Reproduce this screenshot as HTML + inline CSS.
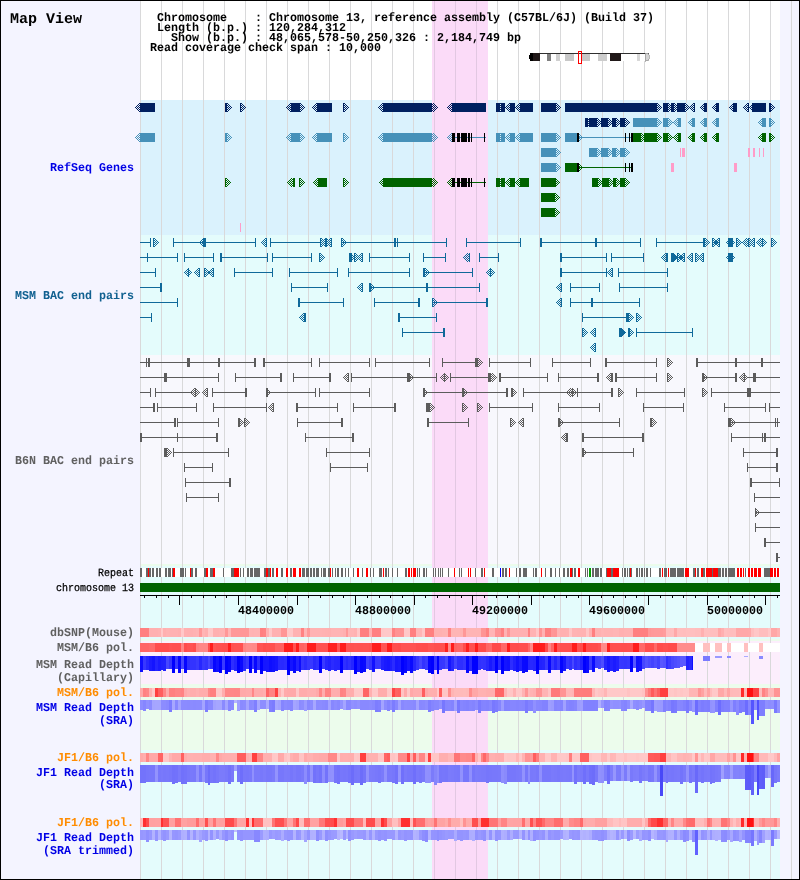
<!DOCTYPE html>
<html><head><meta charset="utf-8"><title>Map View</title>
<style>
html,body{margin:0;padding:0;background:#f4f4ff;}
body{width:800px;height:880px;overflow:hidden;font-family:"Liberation Mono",monospace;}
svg{display:block;position:absolute;left:0;top:0;}
#tx{will-change:transform;}
svg text{font-family:"Liberation Mono",monospace;}
</style></head><body>
<svg width="800" height="880" viewBox="0 0 800 880" shape-rendering="crispEdges">
<defs>
<pattern id="ckn" width="2" height="2" patternUnits="userSpaceOnUse"><rect x="0" y="0" width="1" height="1" fill="#002060"/><rect x="1" y="1" width="1" height="1" fill="#002060"/></pattern>
<pattern id="cks" width="2" height="2" patternUnits="userSpaceOnUse"><rect x="0" y="0" width="1" height="1" fill="#4691b9"/><rect x="1" y="1" width="1" height="1" fill="#4691b9"/></pattern>
<pattern id="ckg" width="2" height="2" patternUnits="userSpaceOnUse"><rect x="0" y="0" width="1" height="1" fill="#006400"/><rect x="1" y="1" width="1" height="1" fill="#006400"/></pattern>
<pattern id="ckt" width="2" height="2" patternUnits="userSpaceOnUse"><rect x="0" y="0" width="1" height="1" fill="#10699a"/><rect x="1" y="1" width="1" height="1" fill="#10699a"/></pattern>
<pattern id="cky" width="2" height="2" patternUnits="userSpaceOnUse"><rect x="0" y="0" width="1" height="1" fill="#5c5c5c"/><rect x="1" y="1" width="1" height="1" fill="#5c5c5c"/></pattern>
<pattern id="ckk" width="2" height="2" patternUnits="userSpaceOnUse"><rect x="0" y="0" width="1" height="1" fill="#000000"/><rect x="1" y="1" width="1" height="1" fill="#000000"/></pattern>
<pattern id="ckbg" width="2" height="2" patternUnits="userSpaceOnUse"><rect x="0" y="0" width="1" height="1" fill="#daf2fd"/><rect x="1" y="1" width="1" height="1" fill="#daf2fd"/></pattern>
<pattern id="dotbg" width="1" height="2" patternUnits="userSpaceOnUse"><rect x="0" y="0" width="1" height="1" fill="#daf2fd"/></pattern>
</defs>
<rect x="0" y="0" width="800" height="880" fill="#f4f4ff"/>
<rect x="140" y="0" width="640" height="100" fill="#ffffff"/>
<rect x="140" y="100" width="640" height="135" fill="#daf2fd"/>
<rect x="140" y="235" width="640" height="120" fill="#e4fcfc"/>
<rect x="140" y="355" width="640" height="209" fill="#f8f8fd"/>
<rect x="140" y="564" width="640" height="2" fill="#ecfcec"/>
<rect x="140" y="566" width="640" height="2" fill="#e4fcfc"/>
<rect x="140" y="568" width="640" height="9" fill="#ffffff"/>
<rect x="140" y="577" width="640" height="62" fill="#e4fcfc"/>
<rect x="140" y="639" width="640" height="2" fill="#ecfcec"/>
<rect x="140" y="641" width="640" height="43" fill="#fceefc"/>
<rect x="140" y="684" width="640" height="66" fill="#ecfcec"/>
<rect x="140" y="750" width="640" height="130" fill="#e4fcfc"/>
<rect x="432" y="0" width="56" height="568" fill="#fbdbf8"/>
<rect x="432" y="577" width="56" height="303" fill="#fbdbf8"/>
<rect x="140" y="0" width="1" height="880" fill="#d9d9da"/>
<rect x="161" y="0" width="1" height="880" fill="#d9d9da"/>
<rect x="182" y="0" width="1" height="880" fill="#d9d9da"/>
<rect x="203" y="0" width="1" height="880" fill="#d9d9da"/>
<rect x="224" y="0" width="1" height="880" fill="#d9d9da"/>
<rect x="245" y="0" width="1" height="880" fill="#d9d9da"/>
<rect x="266" y="0" width="1" height="880" fill="#d9d9da"/>
<rect x="287" y="0" width="1" height="880" fill="#d9d9da"/>
<rect x="308" y="0" width="1" height="880" fill="#d9d9da"/>
<rect x="329" y="0" width="1" height="880" fill="#d9d9da"/>
<rect x="350" y="0" width="1" height="880" fill="#d9d9da"/>
<rect x="371" y="0" width="1" height="880" fill="#d9d9da"/>
<rect x="392" y="0" width="1" height="880" fill="#d9d9da"/>
<rect x="413" y="0" width="1" height="880" fill="#d9d9da"/>
<rect x="434" y="0" width="1" height="880" fill="#e2c8e2"/>
<rect x="455" y="0" width="1" height="880" fill="#e2c8e2"/>
<rect x="476" y="0" width="1" height="880" fill="#e2c8e2"/>
<rect x="497" y="0" width="1" height="880" fill="#d9d9da"/>
<rect x="518" y="0" width="1" height="880" fill="#d9d9da"/>
<rect x="539" y="0" width="1" height="880" fill="#d9d9da"/>
<rect x="560" y="0" width="1" height="880" fill="#d9d9da"/>
<rect x="581" y="0" width="1" height="880" fill="#d9d9da"/>
<rect x="602" y="0" width="1" height="880" fill="#d9d9da"/>
<rect x="623" y="0" width="1" height="880" fill="#d9d9da"/>
<rect x="644" y="0" width="1" height="880" fill="#d9d9da"/>
<rect x="665" y="0" width="1" height="880" fill="#d9d9da"/>
<rect x="686" y="0" width="1" height="880" fill="#d9d9da"/>
<rect x="707" y="0" width="1" height="880" fill="#d9d9da"/>
<rect x="728" y="0" width="1" height="880" fill="#d9d9da"/>
<rect x="749" y="0" width="1" height="880" fill="#d9d9da"/>
<rect x="770" y="0" width="1" height="880" fill="#d9d9da"/>
<rect x="791" y="0" width="1" height="880" fill="#d9d9da"/>
<rect x="140" y="103" width="15" height="9" fill="#002060"/>
<rect x="225" y="103" width="2" height="9" fill="#002060"/>
<rect x="240" y="103" width="1" height="9" fill="#002060"/>
<rect x="291" y="103" width="9" height="9" fill="#002060"/>
<rect x="317" y="103" width="15" height="9" fill="#002060"/>
<rect x="343" y="103" width="1" height="9" fill="#002060"/>
<rect x="383" y="103" width="49" height="9" fill="#002060"/>
<rect x="452" y="103" width="34" height="9" fill="#002060"/>
<rect x="496" y="103" width="37" height="9" fill="#002060"/>
<rect x="500" y="103" width="1" height="9" fill="url(#dotbg)"/>
<rect x="505" y="103" width="5" height="9" fill="#daf2fd"/>
<rect x="515" y="103" width="5" height="9" fill="#daf2fd"/>
<rect x="541" y="103" width="15" height="9" fill="#002060"/>
<rect x="565" y="103" width="92" height="9" fill="#002060"/>
<rect x="663" y="103" width="32" height="9" fill="#002060"/>
<rect x="668" y="103" width="3" height="9" fill="#daf2fd"/>
<rect x="674" y="103" width="3" height="9" fill="#daf2fd"/>
<rect x="685" y="103" width="4" height="9" fill="#daf2fd"/>
<rect x="689" y="103" width="5" height="9" fill="#daf2fd"/>
<rect x="704" y="103" width="3" height="9" fill="#002060"/>
<rect x="716" y="103" width="3" height="9" fill="#002060"/>
<rect x="733" y="103" width="4" height="9" fill="#002060"/>
<rect x="748" y="103" width="18" height="9" fill="#002060"/>
<rect x="749" y="103" width="3" height="9" fill="#daf2fd"/>
<rect x="769" y="103" width="2" height="9" fill="#002060"/>
<rect x="585" y="118" width="40" height="9" fill="#002060"/>
<rect x="588" y="118" width="1" height="9" fill="url(#dotbg)"/>
<rect x="597" y="118" width="4" height="9" fill="#daf2fd"/>
<rect x="608" y="118" width="4" height="9" fill="#daf2fd"/>
<rect x="616" y="118" width="4" height="9" fill="#daf2fd"/>
<rect x="633" y="118" width="24" height="9" fill="#4691b9"/>
<rect x="663" y="118" width="18" height="9" fill="#4691b9"/>
<rect x="668" y="118" width="5" height="9" fill="#daf2fd"/>
<rect x="673" y="118" width="5" height="9" fill="#daf2fd"/>
<rect x="692" y="118" width="3" height="9" fill="#4691b9"/>
<rect x="704" y="118" width="3" height="9" fill="#4691b9"/>
<rect x="716" y="118" width="3" height="9" fill="#4691b9"/>
<rect x="762" y="118" width="4" height="9" fill="#4691b9"/>
<rect x="769" y="118" width="2" height="9" fill="#4691b9"/>
<rect x="140" y="133" width="15" height="9" fill="#4691b9"/>
<rect x="225" y="133" width="2" height="9" fill="#4691b9"/>
<rect x="291" y="133" width="9" height="9" fill="#4691b9"/>
<rect x="317" y="133" width="15" height="9" fill="#4691b9"/>
<rect x="343" y="133" width="1" height="9" fill="#4691b9"/>
<rect x="383" y="133" width="49" height="9" fill="#4691b9"/>
<rect x="452" y="137" width="34" height="1" fill="#4691b9"/>
<rect x="452" y="133" width="3" height="9" fill="#000"/>
<rect x="457" y="133" width="3" height="9" fill="#000"/>
<rect x="461" y="133" width="6" height="9" fill="#000"/>
<rect x="468" y="133" width="2" height="9" fill="#000"/>
<rect x="471" y="133" width="1" height="9" fill="#000"/>
<rect x="484" y="133" width="1" height="9" fill="#000"/>
<rect x="496" y="133" width="37" height="9" fill="#4691b9"/>
<rect x="500" y="133" width="1" height="9" fill="url(#dotbg)"/>
<rect x="505" y="133" width="5" height="9" fill="#daf2fd"/>
<rect x="515" y="133" width="5" height="9" fill="#daf2fd"/>
<rect x="541" y="133" width="15" height="9" fill="#4691b9"/>
<rect x="565" y="133" width="12" height="9" fill="#4691b9"/>
<rect x="577" y="133" width="2" height="9" fill="#000"/>
<rect x="579" y="137" width="52" height="1" fill="#4691b9"/>
<rect x="625" y="133" width="1" height="9" fill="#000"/>
<rect x="629" y="133" width="1" height="9" fill="#000"/>
<rect x="631" y="133" width="2" height="9" fill="#000"/>
<rect x="633" y="133" width="24" height="9" fill="#006400"/>
<rect x="641" y="133" width="3" height="9" fill="#daf2fd"/>
<rect x="663" y="133" width="18" height="9" fill="#006400"/>
<rect x="668" y="133" width="5" height="9" fill="#daf2fd"/>
<rect x="673" y="133" width="5" height="9" fill="#daf2fd"/>
<rect x="692" y="133" width="3" height="9" fill="#006400"/>
<rect x="704" y="133" width="3" height="9" fill="#006400"/>
<rect x="716" y="133" width="3" height="9" fill="#006400"/>
<rect x="762" y="133" width="4" height="9" fill="#006400"/>
<rect x="769" y="133" width="2" height="9" fill="#006400"/>
<rect x="541" y="148" width="15" height="9" fill="#4691b9"/>
<rect x="589" y="148" width="36" height="9" fill="#4691b9"/>
<rect x="597" y="148" width="4" height="9" fill="#daf2fd"/>
<rect x="608" y="148" width="4" height="9" fill="#daf2fd"/>
<rect x="616" y="148" width="4" height="9" fill="#daf2fd"/>
<rect x="680" y="148" width="1" height="9" fill="#ff9cc8"/>
<rect x="682" y="148" width="3" height="9" fill="#ff9cc8"/>
<rect x="748" y="148" width="2" height="9" fill="#ff9cc8"/>
<rect x="753" y="148" width="2" height="9" fill="#ff9cc8"/>
<rect x="759" y="148" width="1" height="9" fill="#ff9cc8"/>
<rect x="763" y="148" width="1" height="9" fill="#ff9cc8"/>
<rect x="541" y="163" width="15" height="9" fill="#4691b9"/>
<rect x="565" y="163" width="12" height="9" fill="#006400"/>
<rect x="577" y="163" width="2" height="9" fill="#000"/>
<rect x="579" y="167" width="52" height="1" fill="#006400"/>
<rect x="625" y="163" width="1" height="9" fill="#000"/>
<rect x="629" y="163" width="1" height="9" fill="#000"/>
<rect x="631" y="163" width="2" height="9" fill="#000"/>
<rect x="671" y="163" width="3" height="9" fill="#ff9cc8"/>
<rect x="734" y="163" width="3" height="9" fill="#ff9cc8"/>
<rect x="225" y="178" width="1" height="9" fill="#006400"/>
<rect x="293" y="178" width="2" height="9" fill="#006400"/>
<rect x="299" y="178" width="1" height="9" fill="#006400"/>
<rect x="318" y="178" width="9" height="9" fill="#006400"/>
<rect x="343" y="178" width="1" height="9" fill="#006400"/>
<rect x="383" y="178" width="49" height="9" fill="#006400"/>
<rect x="452" y="182" width="34" height="1" fill="#006400"/>
<rect x="452" y="178" width="3" height="9" fill="#000"/>
<rect x="457" y="178" width="3" height="9" fill="#000"/>
<rect x="461" y="178" width="6" height="9" fill="#000"/>
<rect x="468" y="178" width="2" height="9" fill="#000"/>
<rect x="471" y="178" width="1" height="9" fill="#000"/>
<rect x="484" y="178" width="1" height="9" fill="#000"/>
<rect x="496" y="178" width="33" height="9" fill="#006400"/>
<rect x="500" y="178" width="1" height="9" fill="url(#dotbg)"/>
<rect x="505" y="178" width="5" height="9" fill="#daf2fd"/>
<rect x="515" y="178" width="5" height="9" fill="#daf2fd"/>
<rect x="541" y="178" width="15" height="9" fill="#006400"/>
<rect x="592" y="178" width="33" height="9" fill="#006400"/>
<rect x="598" y="178" width="4" height="9" fill="#daf2fd"/>
<rect x="609" y="178" width="4" height="9" fill="#daf2fd"/>
<rect x="614" y="178" width="2" height="9" fill="#006400"/>
<rect x="616" y="178" width="4" height="9" fill="#daf2fd"/>
<rect x="541" y="193" width="14" height="9" fill="#006400"/>
<rect x="541" y="208" width="14" height="9" fill="#006400"/>
<rect x="240" y="223" width="1" height="9" fill="#ff9cc8"/>
<path d="M135 107h1v1h-1zM136 106h1v1h-1zM136 108h1v1h-1zM137 105h1v1h-1zM137 107h1v1h-1zM137 109h1v1h-1zM138 104h1v1h-1zM138 106h1v1h-1zM138 108h1v1h-1zM138 110h1v1h-1zM139 103h1v1h-1zM139 105h1v1h-1zM139 107h1v1h-1zM139 109h1v1h-1zM139 111h1v1h-1zM227 103h1v1h-1zM227 105h1v1h-1zM227 107h1v1h-1zM227 109h1v1h-1zM227 111h1v1h-1zM228 104h1v1h-1zM228 106h1v1h-1zM228 108h1v1h-1zM228 110h1v1h-1zM229 105h1v1h-1zM229 107h1v1h-1zM229 109h1v1h-1zM230 106h1v1h-1zM230 108h1v1h-1zM231 107h1v1h-1zM241 103h1v1h-1zM241 105h1v1h-1zM241 107h1v1h-1zM241 109h1v1h-1zM241 111h1v1h-1zM242 104h1v1h-1zM242 106h1v1h-1zM242 108h1v1h-1zM242 110h1v1h-1zM243 105h1v1h-1zM243 107h1v1h-1zM243 109h1v1h-1zM244 106h1v1h-1zM244 108h1v1h-1zM245 107h1v1h-1zM286 107h1v1h-1zM287 106h1v1h-1zM287 108h1v1h-1zM288 105h1v1h-1zM288 107h1v1h-1zM288 109h1v1h-1zM289 104h1v1h-1zM289 106h1v1h-1zM289 108h1v1h-1zM289 110h1v1h-1zM290 103h1v1h-1zM290 105h1v1h-1zM290 107h1v1h-1zM290 109h1v1h-1zM290 111h1v1h-1zM300 103h1v1h-1zM300 105h1v1h-1zM300 107h1v1h-1zM300 109h1v1h-1zM300 111h1v1h-1zM301 104h1v1h-1zM301 106h1v1h-1zM301 108h1v1h-1zM301 110h1v1h-1zM302 105h1v1h-1zM302 107h1v1h-1zM302 109h1v1h-1zM303 106h1v1h-1zM303 108h1v1h-1zM304 107h1v1h-1zM312 107h1v1h-1zM313 106h1v1h-1zM313 108h1v1h-1zM314 105h1v1h-1zM314 107h1v1h-1zM314 109h1v1h-1zM315 104h1v1h-1zM315 106h1v1h-1zM315 108h1v1h-1zM315 110h1v1h-1zM316 103h1v1h-1zM316 105h1v1h-1zM316 107h1v1h-1zM316 109h1v1h-1zM316 111h1v1h-1zM344 103h1v1h-1zM344 105h1v1h-1zM344 107h1v1h-1zM344 109h1v1h-1zM344 111h1v1h-1zM345 104h1v1h-1zM345 106h1v1h-1zM345 108h1v1h-1zM345 110h1v1h-1zM346 105h1v1h-1zM346 107h1v1h-1zM346 109h1v1h-1zM347 106h1v1h-1zM347 108h1v1h-1zM348 107h1v1h-1zM378 107h1v1h-1zM379 106h1v1h-1zM379 108h1v1h-1zM380 105h1v1h-1zM380 107h1v1h-1zM380 109h1v1h-1zM381 104h1v1h-1zM381 106h1v1h-1zM381 108h1v1h-1zM381 110h1v1h-1zM382 103h1v1h-1zM382 105h1v1h-1zM382 107h1v1h-1zM382 109h1v1h-1zM382 111h1v1h-1zM432 104h1v1h-1zM432 106h1v1h-1zM432 108h1v1h-1zM432 110h1v1h-1zM433 103h1v1h-1zM433 105h1v1h-1zM433 107h1v1h-1zM433 109h1v1h-1zM433 111h1v1h-1zM434 104h1v1h-1zM434 106h1v1h-1zM434 108h1v1h-1zM434 110h1v1h-1zM435 105h1v1h-1zM435 107h1v1h-1zM435 109h1v1h-1zM436 106h1v1h-1zM436 108h1v1h-1zM437 107h1v1h-1zM447 107h1v1h-1zM448 106h1v1h-1zM448 108h1v1h-1zM449 105h1v1h-1zM449 107h1v1h-1zM449 109h1v1h-1zM450 104h1v1h-1zM450 106h1v1h-1zM450 108h1v1h-1zM450 110h1v1h-1zM451 103h1v1h-1zM451 105h1v1h-1zM451 107h1v1h-1zM451 109h1v1h-1zM451 111h1v1h-1zM505 107h1v1h-1zM506 106h1v1h-1zM506 108h1v1h-1zM507 105h1v1h-1zM507 107h1v1h-1zM507 109h1v1h-1zM508 104h1v1h-1zM508 106h1v1h-1zM508 108h1v1h-1zM508 110h1v1h-1zM509 103h1v1h-1zM509 105h1v1h-1zM509 107h1v1h-1zM509 109h1v1h-1zM509 111h1v1h-1zM515 107h1v1h-1zM516 106h1v1h-1zM516 108h1v1h-1zM517 105h1v1h-1zM517 107h1v1h-1zM517 109h1v1h-1zM518 104h1v1h-1zM518 106h1v1h-1zM518 108h1v1h-1zM518 110h1v1h-1zM519 103h1v1h-1zM519 105h1v1h-1zM519 107h1v1h-1zM519 109h1v1h-1zM519 111h1v1h-1zM556 103h1v1h-1zM556 105h1v1h-1zM556 107h1v1h-1zM556 109h1v1h-1zM556 111h1v1h-1zM557 104h1v1h-1zM557 106h1v1h-1zM557 108h1v1h-1zM557 110h1v1h-1zM558 105h1v1h-1zM558 107h1v1h-1zM558 109h1v1h-1zM559 106h1v1h-1zM559 108h1v1h-1zM560 107h1v1h-1zM597 118h1v1h-1zM597 120h1v1h-1zM597 122h1v1h-1zM597 124h1v1h-1zM597 126h1v1h-1zM598 119h1v1h-1zM598 121h1v1h-1zM598 123h1v1h-1zM598 125h1v1h-1zM599 120h1v1h-1zM599 122h1v1h-1zM599 124h1v1h-1zM600 121h1v1h-1zM600 123h1v1h-1zM608 118h1v1h-1zM608 120h1v1h-1zM608 122h1v1h-1zM608 124h1v1h-1zM608 126h1v1h-1zM609 119h1v1h-1zM609 121h1v1h-1zM609 123h1v1h-1zM609 125h1v1h-1zM610 120h1v1h-1zM610 122h1v1h-1zM610 124h1v1h-1zM611 121h1v1h-1zM611 123h1v1h-1zM616 118h1v1h-1zM616 120h1v1h-1zM616 122h1v1h-1zM616 124h1v1h-1zM616 126h1v1h-1zM617 119h1v1h-1zM617 121h1v1h-1zM617 123h1v1h-1zM617 125h1v1h-1zM618 120h1v1h-1zM618 122h1v1h-1zM618 124h1v1h-1zM619 121h1v1h-1zM619 123h1v1h-1zM625 118h1v1h-1zM625 120h1v1h-1zM625 122h1v1h-1zM625 124h1v1h-1zM625 126h1v1h-1zM626 119h1v1h-1zM626 121h1v1h-1zM626 123h1v1h-1zM626 125h1v1h-1zM627 120h1v1h-1zM627 122h1v1h-1zM627 124h1v1h-1zM628 121h1v1h-1zM628 123h1v1h-1zM629 122h1v1h-1zM657 103h1v1h-1zM657 105h1v1h-1zM657 107h1v1h-1zM657 109h1v1h-1zM657 111h1v1h-1zM658 104h1v1h-1zM658 106h1v1h-1zM658 108h1v1h-1zM658 110h1v1h-1zM659 105h1v1h-1zM659 107h1v1h-1zM659 109h1v1h-1zM660 106h1v1h-1zM660 108h1v1h-1zM661 107h1v1h-1zM668 103h1v1h-1zM668 105h1v1h-1zM668 107h1v1h-1zM668 109h1v1h-1zM668 111h1v1h-1zM669 104h1v1h-1zM669 106h1v1h-1zM669 108h1v1h-1zM669 110h1v1h-1zM670 105h1v1h-1zM670 107h1v1h-1zM670 109h1v1h-1zM674 103h1v1h-1zM674 105h1v1h-1zM674 107h1v1h-1zM674 109h1v1h-1zM674 111h1v1h-1zM675 104h1v1h-1zM675 106h1v1h-1zM675 108h1v1h-1zM675 110h1v1h-1zM676 105h1v1h-1zM676 107h1v1h-1zM676 109h1v1h-1zM685 103h1v1h-1zM685 105h1v1h-1zM685 107h1v1h-1zM685 109h1v1h-1zM685 111h1v1h-1zM686 104h1v1h-1zM686 106h1v1h-1zM686 108h1v1h-1zM686 110h1v1h-1zM687 105h1v1h-1zM687 107h1v1h-1zM687 109h1v1h-1zM688 106h1v1h-1zM688 108h1v1h-1zM689 107h1v1h-1zM690 106h1v1h-1zM690 108h1v1h-1zM691 105h1v1h-1zM691 107h1v1h-1zM691 109h1v1h-1zM692 104h1v1h-1zM692 106h1v1h-1zM692 108h1v1h-1zM692 110h1v1h-1zM693 103h1v1h-1zM693 105h1v1h-1zM693 107h1v1h-1zM693 109h1v1h-1zM693 111h1v1h-1zM700 107h1v1h-1zM701 106h1v1h-1zM701 108h1v1h-1zM702 105h1v1h-1zM702 107h1v1h-1zM702 109h1v1h-1zM703 104h1v1h-1zM703 106h1v1h-1zM703 108h1v1h-1zM703 110h1v1h-1zM712 107h1v1h-1zM713 106h1v1h-1zM713 108h1v1h-1zM714 105h1v1h-1zM714 107h1v1h-1zM714 109h1v1h-1zM715 104h1v1h-1zM715 106h1v1h-1zM715 108h1v1h-1zM715 110h1v1h-1zM729 107h1v1h-1zM730 106h1v1h-1zM730 108h1v1h-1zM731 105h1v1h-1zM731 107h1v1h-1zM731 109h1v1h-1zM732 104h1v1h-1zM732 106h1v1h-1zM732 108h1v1h-1zM732 110h1v1h-1zM743 107h1v1h-1zM744 106h1v1h-1zM744 108h1v1h-1zM745 105h1v1h-1zM745 107h1v1h-1zM745 109h1v1h-1zM746 104h1v1h-1zM746 106h1v1h-1zM746 108h1v1h-1zM746 110h1v1h-1zM747 103h1v1h-1zM747 105h1v1h-1zM747 107h1v1h-1zM747 109h1v1h-1zM747 111h1v1h-1zM749 107h1v1h-1zM750 106h1v1h-1zM750 108h1v1h-1zM751 105h1v1h-1zM751 107h1v1h-1zM751 109h1v1h-1zM771 104h1v1h-1zM771 106h1v1h-1zM771 108h1v1h-1zM771 110h1v1h-1zM772 105h1v1h-1zM772 107h1v1h-1zM772 109h1v1h-1zM773 106h1v1h-1zM773 108h1v1h-1zM774 107h1v1h-1z" fill="#002060"/>
<path d="M135 137h1v1h-1zM136 136h1v1h-1zM136 138h1v1h-1zM137 135h1v1h-1zM137 137h1v1h-1zM137 139h1v1h-1zM138 134h1v1h-1zM138 136h1v1h-1zM138 138h1v1h-1zM138 140h1v1h-1zM139 133h1v1h-1zM139 135h1v1h-1zM139 137h1v1h-1zM139 139h1v1h-1zM139 141h1v1h-1zM227 133h1v1h-1zM227 135h1v1h-1zM227 137h1v1h-1zM227 139h1v1h-1zM227 141h1v1h-1zM228 134h1v1h-1zM228 136h1v1h-1zM228 138h1v1h-1zM228 140h1v1h-1zM229 135h1v1h-1zM229 137h1v1h-1zM229 139h1v1h-1zM230 136h1v1h-1zM230 138h1v1h-1zM231 137h1v1h-1zM286 137h1v1h-1zM287 136h1v1h-1zM287 138h1v1h-1zM288 135h1v1h-1zM288 137h1v1h-1zM288 139h1v1h-1zM289 134h1v1h-1zM289 136h1v1h-1zM289 138h1v1h-1zM289 140h1v1h-1zM290 133h1v1h-1zM290 135h1v1h-1zM290 137h1v1h-1zM290 139h1v1h-1zM290 141h1v1h-1zM300 133h1v1h-1zM300 135h1v1h-1zM300 137h1v1h-1zM300 139h1v1h-1zM300 141h1v1h-1zM301 134h1v1h-1zM301 136h1v1h-1zM301 138h1v1h-1zM301 140h1v1h-1zM302 135h1v1h-1zM302 137h1v1h-1zM302 139h1v1h-1zM303 136h1v1h-1zM303 138h1v1h-1zM304 137h1v1h-1zM312 137h1v1h-1zM313 136h1v1h-1zM313 138h1v1h-1zM314 135h1v1h-1zM314 137h1v1h-1zM314 139h1v1h-1zM315 134h1v1h-1zM315 136h1v1h-1zM315 138h1v1h-1zM315 140h1v1h-1zM316 133h1v1h-1zM316 135h1v1h-1zM316 137h1v1h-1zM316 139h1v1h-1zM316 141h1v1h-1zM344 133h1v1h-1zM344 135h1v1h-1zM344 137h1v1h-1zM344 139h1v1h-1zM344 141h1v1h-1zM345 134h1v1h-1zM345 136h1v1h-1zM345 138h1v1h-1zM345 140h1v1h-1zM346 135h1v1h-1zM346 137h1v1h-1zM346 139h1v1h-1zM347 136h1v1h-1zM347 138h1v1h-1zM348 137h1v1h-1zM378 137h1v1h-1zM379 136h1v1h-1zM379 138h1v1h-1zM380 135h1v1h-1zM380 137h1v1h-1zM380 139h1v1h-1zM381 134h1v1h-1zM381 136h1v1h-1zM381 138h1v1h-1zM381 140h1v1h-1zM382 133h1v1h-1zM382 135h1v1h-1zM382 137h1v1h-1zM382 139h1v1h-1zM382 141h1v1h-1zM432 134h1v1h-1zM432 136h1v1h-1zM432 138h1v1h-1zM432 140h1v1h-1zM433 133h1v1h-1zM433 135h1v1h-1zM433 137h1v1h-1zM433 139h1v1h-1zM433 141h1v1h-1zM434 134h1v1h-1zM434 136h1v1h-1zM434 138h1v1h-1zM434 140h1v1h-1zM435 135h1v1h-1zM435 137h1v1h-1zM435 139h1v1h-1zM436 136h1v1h-1zM436 138h1v1h-1zM437 137h1v1h-1zM447 137h1v1h-1zM448 136h1v1h-1zM448 138h1v1h-1zM449 135h1v1h-1zM449 137h1v1h-1zM449 139h1v1h-1zM450 134h1v1h-1zM450 136h1v1h-1zM450 138h1v1h-1zM450 140h1v1h-1zM451 133h1v1h-1zM451 135h1v1h-1zM451 137h1v1h-1zM451 139h1v1h-1zM451 141h1v1h-1zM505 137h1v1h-1zM506 136h1v1h-1zM506 138h1v1h-1zM507 135h1v1h-1zM507 137h1v1h-1zM507 139h1v1h-1zM508 134h1v1h-1zM508 136h1v1h-1zM508 138h1v1h-1zM508 140h1v1h-1zM509 133h1v1h-1zM509 135h1v1h-1zM509 137h1v1h-1zM509 139h1v1h-1zM509 141h1v1h-1zM515 137h1v1h-1zM516 136h1v1h-1zM516 138h1v1h-1zM517 135h1v1h-1zM517 137h1v1h-1zM517 139h1v1h-1zM518 134h1v1h-1zM518 136h1v1h-1zM518 138h1v1h-1zM518 140h1v1h-1zM519 133h1v1h-1zM519 135h1v1h-1zM519 137h1v1h-1zM519 139h1v1h-1zM519 141h1v1h-1zM556 133h1v1h-1zM556 135h1v1h-1zM556 137h1v1h-1zM556 139h1v1h-1zM556 141h1v1h-1zM556 148h1v1h-1zM556 150h1v1h-1zM556 152h1v1h-1zM556 154h1v1h-1zM556 156h1v1h-1zM556 163h1v1h-1zM556 165h1v1h-1zM556 167h1v1h-1zM556 169h1v1h-1zM556 171h1v1h-1zM557 134h1v1h-1zM557 136h1v1h-1zM557 138h1v1h-1zM557 140h1v1h-1zM557 149h1v1h-1zM557 151h1v1h-1zM557 153h1v1h-1zM557 155h1v1h-1zM557 164h1v1h-1zM557 166h1v1h-1zM557 168h1v1h-1zM557 170h1v1h-1zM558 135h1v1h-1zM558 137h1v1h-1zM558 139h1v1h-1zM558 150h1v1h-1zM558 152h1v1h-1zM558 154h1v1h-1zM558 165h1v1h-1zM558 167h1v1h-1zM558 169h1v1h-1zM559 136h1v1h-1zM559 138h1v1h-1zM559 151h1v1h-1zM559 153h1v1h-1zM559 166h1v1h-1zM559 168h1v1h-1zM560 137h1v1h-1zM560 152h1v1h-1zM560 167h1v1h-1zM579 134h1v1h-1zM579 136h1v1h-1zM579 138h1v1h-1zM579 140h1v1h-1zM580 135h1v1h-1zM580 137h1v1h-1zM580 139h1v1h-1zM581 136h1v1h-1zM581 138h1v1h-1zM582 137h1v1h-1zM597 148h1v1h-1zM597 150h1v1h-1zM597 152h1v1h-1zM597 154h1v1h-1zM597 156h1v1h-1zM598 149h1v1h-1zM598 151h1v1h-1zM598 153h1v1h-1zM598 155h1v1h-1zM599 150h1v1h-1zM599 152h1v1h-1zM599 154h1v1h-1zM600 151h1v1h-1zM600 153h1v1h-1zM608 148h1v1h-1zM608 150h1v1h-1zM608 152h1v1h-1zM608 154h1v1h-1zM608 156h1v1h-1zM609 149h1v1h-1zM609 151h1v1h-1zM609 153h1v1h-1zM609 155h1v1h-1zM610 150h1v1h-1zM610 152h1v1h-1zM610 154h1v1h-1zM611 151h1v1h-1zM611 153h1v1h-1zM616 148h1v1h-1zM616 150h1v1h-1zM616 152h1v1h-1zM616 154h1v1h-1zM616 156h1v1h-1zM617 149h1v1h-1zM617 151h1v1h-1zM617 153h1v1h-1zM617 155h1v1h-1zM618 150h1v1h-1zM618 152h1v1h-1zM618 154h1v1h-1zM619 151h1v1h-1zM619 153h1v1h-1zM625 148h1v1h-1zM625 150h1v1h-1zM625 152h1v1h-1zM625 154h1v1h-1zM625 156h1v1h-1zM626 149h1v1h-1zM626 151h1v1h-1zM626 153h1v1h-1zM626 155h1v1h-1zM627 150h1v1h-1zM627 152h1v1h-1zM627 154h1v1h-1zM628 151h1v1h-1zM628 153h1v1h-1zM629 152h1v1h-1zM657 118h1v1h-1zM657 120h1v1h-1zM657 122h1v1h-1zM657 124h1v1h-1zM657 126h1v1h-1zM658 119h1v1h-1zM658 121h1v1h-1zM658 123h1v1h-1zM658 125h1v1h-1zM659 120h1v1h-1zM659 122h1v1h-1zM659 124h1v1h-1zM660 121h1v1h-1zM660 123h1v1h-1zM661 122h1v1h-1zM668 118h1v1h-1zM668 120h1v1h-1zM668 122h1v1h-1zM668 124h1v1h-1zM668 126h1v1h-1zM669 119h1v1h-1zM669 121h1v1h-1zM669 123h1v1h-1zM669 125h1v1h-1zM670 120h1v1h-1zM670 122h1v1h-1zM670 124h1v1h-1zM671 121h1v1h-1zM671 123h1v1h-1zM672 122h1v1h-1zM673 122h1v1h-1zM674 121h1v1h-1zM674 123h1v1h-1zM675 120h1v1h-1zM675 122h1v1h-1zM675 124h1v1h-1zM676 119h1v1h-1zM676 121h1v1h-1zM676 123h1v1h-1zM676 125h1v1h-1zM677 118h1v1h-1zM677 120h1v1h-1zM677 122h1v1h-1zM677 124h1v1h-1zM677 126h1v1h-1zM688 122h1v1h-1zM689 121h1v1h-1zM689 123h1v1h-1zM690 120h1v1h-1zM690 122h1v1h-1zM690 124h1v1h-1zM691 119h1v1h-1zM691 121h1v1h-1zM691 123h1v1h-1zM691 125h1v1h-1zM700 122h1v1h-1zM701 121h1v1h-1zM701 123h1v1h-1zM702 120h1v1h-1zM702 122h1v1h-1zM702 124h1v1h-1zM703 119h1v1h-1zM703 121h1v1h-1zM703 123h1v1h-1zM703 125h1v1h-1zM712 122h1v1h-1zM713 121h1v1h-1zM713 123h1v1h-1zM714 120h1v1h-1zM714 122h1v1h-1zM714 124h1v1h-1zM715 119h1v1h-1zM715 121h1v1h-1zM715 123h1v1h-1zM715 125h1v1h-1zM758 122h1v1h-1zM759 121h1v1h-1zM759 123h1v1h-1zM760 120h1v1h-1zM760 122h1v1h-1zM760 124h1v1h-1zM761 119h1v1h-1zM761 121h1v1h-1zM761 123h1v1h-1zM761 125h1v1h-1zM771 119h1v1h-1zM771 121h1v1h-1zM771 123h1v1h-1zM771 125h1v1h-1zM772 120h1v1h-1zM772 122h1v1h-1zM772 124h1v1h-1zM773 121h1v1h-1zM773 123h1v1h-1zM774 122h1v1h-1z" fill="#4691b9"/>
<path d="M226 178h1v1h-1zM226 180h1v1h-1zM226 182h1v1h-1zM226 184h1v1h-1zM226 186h1v1h-1zM227 179h1v1h-1zM227 181h1v1h-1zM227 183h1v1h-1zM227 185h1v1h-1zM228 180h1v1h-1zM228 182h1v1h-1zM228 184h1v1h-1zM229 181h1v1h-1zM229 183h1v1h-1zM230 182h1v1h-1zM287 182h1v1h-1zM288 181h1v1h-1zM288 183h1v1h-1zM289 180h1v1h-1zM289 182h1v1h-1zM289 184h1v1h-1zM290 179h1v1h-1zM290 181h1v1h-1zM290 183h1v1h-1zM290 185h1v1h-1zM291 178h1v1h-1zM291 180h1v1h-1zM291 182h1v1h-1zM291 184h1v1h-1zM291 186h1v1h-1zM292 179h1v1h-1zM292 181h1v1h-1zM292 183h1v1h-1zM292 185h1v1h-1zM300 178h1v1h-1zM300 180h1v1h-1zM300 182h1v1h-1zM300 184h1v1h-1zM300 186h1v1h-1zM301 179h1v1h-1zM301 181h1v1h-1zM301 183h1v1h-1zM301 185h1v1h-1zM302 180h1v1h-1zM302 182h1v1h-1zM302 184h1v1h-1zM303 181h1v1h-1zM303 183h1v1h-1zM304 182h1v1h-1zM313 182h1v1h-1zM314 181h1v1h-1zM314 183h1v1h-1zM315 180h1v1h-1zM315 182h1v1h-1zM315 184h1v1h-1zM316 179h1v1h-1zM316 181h1v1h-1zM316 183h1v1h-1zM316 185h1v1h-1zM317 178h1v1h-1zM317 180h1v1h-1zM317 182h1v1h-1zM317 184h1v1h-1zM317 186h1v1h-1zM344 178h1v1h-1zM344 180h1v1h-1zM344 182h1v1h-1zM344 184h1v1h-1zM344 186h1v1h-1zM345 179h1v1h-1zM345 181h1v1h-1zM345 183h1v1h-1zM345 185h1v1h-1zM346 180h1v1h-1zM346 182h1v1h-1zM346 184h1v1h-1zM347 181h1v1h-1zM347 183h1v1h-1zM348 182h1v1h-1zM379 182h1v1h-1zM380 181h1v1h-1zM380 183h1v1h-1zM381 180h1v1h-1zM381 182h1v1h-1zM381 184h1v1h-1zM382 179h1v1h-1zM382 181h1v1h-1zM382 183h1v1h-1zM382 185h1v1h-1zM432 179h1v1h-1zM432 181h1v1h-1zM432 183h1v1h-1zM432 185h1v1h-1zM433 178h1v1h-1zM433 180h1v1h-1zM433 182h1v1h-1zM433 184h1v1h-1zM433 186h1v1h-1zM434 179h1v1h-1zM434 181h1v1h-1zM434 183h1v1h-1zM434 185h1v1h-1zM435 180h1v1h-1zM435 182h1v1h-1zM435 184h1v1h-1zM436 181h1v1h-1zM436 183h1v1h-1zM437 182h1v1h-1zM447 182h1v1h-1zM448 181h1v1h-1zM448 183h1v1h-1zM449 180h1v1h-1zM449 182h1v1h-1zM449 184h1v1h-1zM450 179h1v1h-1zM450 181h1v1h-1zM450 183h1v1h-1zM450 185h1v1h-1zM451 178h1v1h-1zM451 180h1v1h-1zM451 182h1v1h-1zM451 184h1v1h-1zM451 186h1v1h-1zM505 182h1v1h-1zM506 181h1v1h-1zM506 183h1v1h-1zM507 180h1v1h-1zM507 182h1v1h-1zM507 184h1v1h-1zM508 179h1v1h-1zM508 181h1v1h-1zM508 183h1v1h-1zM508 185h1v1h-1zM509 178h1v1h-1zM509 180h1v1h-1zM509 182h1v1h-1zM509 184h1v1h-1zM509 186h1v1h-1zM515 182h1v1h-1zM516 181h1v1h-1zM516 183h1v1h-1zM517 180h1v1h-1zM517 182h1v1h-1zM517 184h1v1h-1zM518 179h1v1h-1zM518 181h1v1h-1zM518 183h1v1h-1zM518 185h1v1h-1zM519 178h1v1h-1zM519 180h1v1h-1zM519 182h1v1h-1zM519 184h1v1h-1zM519 186h1v1h-1zM555 193h1v1h-1zM555 195h1v1h-1zM555 197h1v1h-1zM555 199h1v1h-1zM555 201h1v1h-1zM555 208h1v1h-1zM555 210h1v1h-1zM555 212h1v1h-1zM555 214h1v1h-1zM555 216h1v1h-1zM556 179h1v1h-1zM556 181h1v1h-1zM556 183h1v1h-1zM556 185h1v1h-1zM556 194h1v1h-1zM556 196h1v1h-1zM556 198h1v1h-1zM556 200h1v1h-1zM556 209h1v1h-1zM556 211h1v1h-1zM556 213h1v1h-1zM556 215h1v1h-1zM557 180h1v1h-1zM557 182h1v1h-1zM557 184h1v1h-1zM557 195h1v1h-1zM557 197h1v1h-1zM557 199h1v1h-1zM557 210h1v1h-1zM557 212h1v1h-1zM557 214h1v1h-1zM558 181h1v1h-1zM558 183h1v1h-1zM558 196h1v1h-1zM558 198h1v1h-1zM558 211h1v1h-1zM558 213h1v1h-1zM559 182h1v1h-1zM559 197h1v1h-1zM559 212h1v1h-1zM579 164h1v1h-1zM579 166h1v1h-1zM579 168h1v1h-1zM579 170h1v1h-1zM580 165h1v1h-1zM580 167h1v1h-1zM580 169h1v1h-1zM581 166h1v1h-1zM581 168h1v1h-1zM582 167h1v1h-1zM598 178h1v1h-1zM598 180h1v1h-1zM598 182h1v1h-1zM598 184h1v1h-1zM598 186h1v1h-1zM599 179h1v1h-1zM599 181h1v1h-1zM599 183h1v1h-1zM599 185h1v1h-1zM600 180h1v1h-1zM600 182h1v1h-1zM600 184h1v1h-1zM601 181h1v1h-1zM601 183h1v1h-1zM609 178h1v1h-1zM609 180h1v1h-1zM609 182h1v1h-1zM609 184h1v1h-1zM609 186h1v1h-1zM610 179h1v1h-1zM610 181h1v1h-1zM610 183h1v1h-1zM610 185h1v1h-1zM611 180h1v1h-1zM611 182h1v1h-1zM611 184h1v1h-1zM612 181h1v1h-1zM612 183h1v1h-1zM616 178h1v1h-1zM616 180h1v1h-1zM616 182h1v1h-1zM616 184h1v1h-1zM616 186h1v1h-1zM617 179h1v1h-1zM617 181h1v1h-1zM617 183h1v1h-1zM617 185h1v1h-1zM618 180h1v1h-1zM618 182h1v1h-1zM618 184h1v1h-1zM619 181h1v1h-1zM619 183h1v1h-1zM625 178h1v1h-1zM625 180h1v1h-1zM625 182h1v1h-1zM625 184h1v1h-1zM625 186h1v1h-1zM626 179h1v1h-1zM626 181h1v1h-1zM626 183h1v1h-1zM626 185h1v1h-1zM627 180h1v1h-1zM627 182h1v1h-1zM627 184h1v1h-1zM628 181h1v1h-1zM628 183h1v1h-1zM629 182h1v1h-1zM641 133h1v1h-1zM641 135h1v1h-1zM641 137h1v1h-1zM641 139h1v1h-1zM641 141h1v1h-1zM642 134h1v1h-1zM642 136h1v1h-1zM642 138h1v1h-1zM642 140h1v1h-1zM643 135h1v1h-1zM643 137h1v1h-1zM643 139h1v1h-1zM657 133h1v1h-1zM657 135h1v1h-1zM657 137h1v1h-1zM657 139h1v1h-1zM657 141h1v1h-1zM658 134h1v1h-1zM658 136h1v1h-1zM658 138h1v1h-1zM658 140h1v1h-1zM659 135h1v1h-1zM659 137h1v1h-1zM659 139h1v1h-1zM660 136h1v1h-1zM660 138h1v1h-1zM661 137h1v1h-1zM668 133h1v1h-1zM668 135h1v1h-1zM668 137h1v1h-1zM668 139h1v1h-1zM668 141h1v1h-1zM669 134h1v1h-1zM669 136h1v1h-1zM669 138h1v1h-1zM669 140h1v1h-1zM670 135h1v1h-1zM670 137h1v1h-1zM670 139h1v1h-1zM671 136h1v1h-1zM671 138h1v1h-1zM672 137h1v1h-1zM673 137h1v1h-1zM674 136h1v1h-1zM674 138h1v1h-1zM675 135h1v1h-1zM675 137h1v1h-1zM675 139h1v1h-1zM676 134h1v1h-1zM676 136h1v1h-1zM676 138h1v1h-1zM676 140h1v1h-1zM677 133h1v1h-1zM677 135h1v1h-1zM677 137h1v1h-1zM677 139h1v1h-1zM677 141h1v1h-1zM688 137h1v1h-1zM689 136h1v1h-1zM689 138h1v1h-1zM690 135h1v1h-1zM690 137h1v1h-1zM690 139h1v1h-1zM691 134h1v1h-1zM691 136h1v1h-1zM691 138h1v1h-1zM691 140h1v1h-1zM700 137h1v1h-1zM701 136h1v1h-1zM701 138h1v1h-1zM702 135h1v1h-1zM702 137h1v1h-1zM702 139h1v1h-1zM703 134h1v1h-1zM703 136h1v1h-1zM703 138h1v1h-1zM703 140h1v1h-1zM712 137h1v1h-1zM713 136h1v1h-1zM713 138h1v1h-1zM714 135h1v1h-1zM714 137h1v1h-1zM714 139h1v1h-1zM715 134h1v1h-1zM715 136h1v1h-1zM715 138h1v1h-1zM715 140h1v1h-1zM758 137h1v1h-1zM759 136h1v1h-1zM759 138h1v1h-1zM760 135h1v1h-1zM760 137h1v1h-1zM760 139h1v1h-1zM761 134h1v1h-1zM761 136h1v1h-1zM761 138h1v1h-1zM761 140h1v1h-1zM771 134h1v1h-1zM771 136h1v1h-1zM771 138h1v1h-1zM771 140h1v1h-1zM772 135h1v1h-1zM772 137h1v1h-1zM772 139h1v1h-1zM773 136h1v1h-1zM773 138h1v1h-1zM774 137h1v1h-1z" fill="#006400"/>
<rect x="140" y="242" width="11" height="1" fill="#10699a"/>
<rect x="150" y="238" width="1" height="9" fill="#10699a"/>
<rect x="153" y="238" width="1" height="9" fill="#10699a"/>
<rect x="173" y="242" width="83" height="1" fill="#10699a"/>
<rect x="173" y="238" width="1" height="9" fill="#10699a"/>
<rect x="255" y="238" width="1" height="9" fill="#10699a"/>
<rect x="203" y="238" width="3" height="9" fill="#10699a"/>
<rect x="266" y="238" width="1" height="9" fill="#10699a"/>
<rect x="270" y="242" width="51" height="1" fill="#10699a"/>
<rect x="270" y="238" width="1" height="9" fill="#10699a"/>
<rect x="320" y="238" width="1" height="9" fill="#10699a"/>
<rect x="326" y="238" width="1" height="9" fill="#10699a"/>
<rect x="325" y="238" width="1" height="9" fill="#10699a"/>
<rect x="331" y="238" width="1" height="9" fill="#10699a"/>
<rect x="341" y="242" width="106" height="1" fill="#10699a"/>
<rect x="341" y="238" width="1" height="9" fill="#10699a"/>
<rect x="446" y="238" width="1" height="9" fill="#10699a"/>
<rect x="394" y="238" width="2" height="9" fill="#10699a"/>
<rect x="397" y="238" width="1" height="9" fill="#10699a"/>
<rect x="341" y="238" width="1" height="9" fill="#10699a"/>
<rect x="466" y="242" width="55" height="1" fill="#10699a"/>
<rect x="466" y="238" width="1" height="9" fill="#10699a"/>
<rect x="520" y="238" width="1" height="9" fill="#10699a"/>
<rect x="540" y="242" width="101" height="1" fill="#10699a"/>
<rect x="540" y="238" width="2" height="9" fill="#10699a"/>
<rect x="640" y="238" width="1" height="9" fill="#10699a"/>
<rect x="595" y="238" width="2" height="9" fill="#10699a"/>
<rect x="656" y="242" width="48" height="1" fill="#10699a"/>
<rect x="656" y="238" width="1" height="9" fill="#10699a"/>
<rect x="703" y="238" width="2" height="9" fill="#10699a"/>
<rect x="712" y="238" width="1" height="9" fill="#10699a"/>
<rect x="719" y="238" width="1" height="9" fill="#10699a"/>
<rect x="731" y="238" width="2" height="9" fill="#10699a"/>
<rect x="728" y="238" width="2" height="9" fill="#10699a"/>
<rect x="728" y="238" width="5" height="9" fill="#10699a"/>
<rect x="736" y="238" width="1" height="9" fill="#10699a"/>
<rect x="748" y="238" width="1" height="9" fill="#10699a"/>
<rect x="748" y="238" width="1" height="9" fill="#10699a"/>
<rect x="754" y="238" width="1" height="9" fill="#10699a"/>
<rect x="762" y="238" width="1" height="9" fill="#10699a"/>
<rect x="771" y="238" width="1" height="9" fill="#10699a"/>
<rect x="140" y="257" width="38" height="1" fill="#10699a"/>
<rect x="177" y="253" width="1" height="9" fill="#10699a"/>
<rect x="147" y="253" width="1" height="9" fill="#10699a"/>
<rect x="184" y="257" width="30" height="1" fill="#10699a"/>
<rect x="184" y="253" width="1" height="9" fill="#10699a"/>
<rect x="213" y="253" width="1" height="9" fill="#10699a"/>
<rect x="220" y="257" width="48" height="1" fill="#10699a"/>
<rect x="220" y="253" width="2" height="9" fill="#10699a"/>
<rect x="267" y="253" width="1" height="9" fill="#10699a"/>
<rect x="272" y="257" width="40" height="1" fill="#10699a"/>
<rect x="272" y="253" width="1" height="9" fill="#10699a"/>
<rect x="311" y="253" width="1" height="9" fill="#10699a"/>
<rect x="319" y="253" width="1" height="9" fill="#10699a"/>
<rect x="349" y="253" width="3" height="9" fill="#10699a"/>
<rect x="354" y="253" width="1" height="9" fill="#10699a"/>
<rect x="362" y="253" width="1" height="9" fill="#10699a"/>
<rect x="369" y="257" width="41" height="1" fill="#10699a"/>
<rect x="369" y="253" width="1" height="9" fill="#10699a"/>
<rect x="409" y="253" width="1" height="9" fill="#10699a"/>
<rect x="423" y="257" width="23" height="1" fill="#10699a"/>
<rect x="423" y="253" width="1" height="9" fill="#10699a"/>
<rect x="445" y="253" width="1" height="9" fill="#10699a"/>
<rect x="469" y="253" width="1" height="9" fill="#10699a"/>
<rect x="479" y="257" width="20" height="1" fill="#10699a"/>
<rect x="479" y="253" width="1" height="9" fill="#10699a"/>
<rect x="498" y="253" width="1" height="9" fill="#10699a"/>
<rect x="560" y="257" width="47" height="1" fill="#10699a"/>
<rect x="560" y="253" width="2" height="9" fill="#10699a"/>
<rect x="606" y="253" width="1" height="9" fill="#10699a"/>
<rect x="611" y="257" width="33" height="1" fill="#10699a"/>
<rect x="611" y="253" width="1" height="9" fill="#10699a"/>
<rect x="643" y="253" width="1" height="9" fill="#10699a"/>
<rect x="666" y="253" width="2" height="9" fill="#10699a"/>
<rect x="671" y="253" width="2" height="9" fill="#10699a"/>
<rect x="677" y="253" width="1" height="9" fill="#10699a"/>
<rect x="684" y="253" width="1" height="9" fill="#10699a"/>
<rect x="692" y="253" width="1" height="9" fill="#10699a"/>
<rect x="695" y="253" width="1" height="9" fill="#10699a"/>
<rect x="703" y="253" width="1" height="9" fill="#10699a"/>
<rect x="731" y="253" width="2" height="9" fill="#10699a"/>
<rect x="728" y="253" width="2" height="9" fill="#10699a"/>
<rect x="728" y="253" width="5" height="9" fill="#10699a"/>
<rect x="140" y="272" width="16" height="1" fill="#10699a"/>
<rect x="155" y="268" width="1" height="9" fill="#10699a"/>
<rect x="188" y="268" width="1" height="9" fill="#10699a"/>
<rect x="199" y="268" width="1" height="9" fill="#10699a"/>
<rect x="204" y="268" width="1" height="9" fill="#10699a"/>
<rect x="213" y="268" width="1" height="9" fill="#10699a"/>
<rect x="234" y="272" width="39" height="1" fill="#10699a"/>
<rect x="234" y="268" width="1" height="9" fill="#10699a"/>
<rect x="272" y="268" width="1" height="9" fill="#10699a"/>
<rect x="289" y="272" width="49" height="1" fill="#10699a"/>
<rect x="289" y="268" width="1" height="9" fill="#10699a"/>
<rect x="337" y="268" width="1" height="9" fill="#10699a"/>
<rect x="348" y="272" width="62" height="1" fill="#10699a"/>
<rect x="348" y="268" width="1" height="9" fill="#10699a"/>
<rect x="409" y="268" width="1" height="9" fill="#10699a"/>
<rect x="423" y="272" width="50" height="1" fill="#10699a"/>
<rect x="423" y="268" width="1" height="9" fill="#10699a"/>
<rect x="472" y="268" width="1" height="9" fill="#10699a"/>
<rect x="423" y="268" width="2" height="9" fill="#10699a"/>
<rect x="490" y="268" width="1" height="9" fill="#10699a"/>
<rect x="560" y="272" width="47" height="1" fill="#10699a"/>
<rect x="560" y="268" width="2" height="9" fill="#10699a"/>
<rect x="606" y="268" width="1" height="9" fill="#10699a"/>
<rect x="612" y="268" width="1" height="9" fill="#10699a"/>
<rect x="618" y="272" width="50" height="1" fill="#10699a"/>
<rect x="618" y="268" width="1" height="9" fill="#10699a"/>
<rect x="667" y="268" width="1" height="9" fill="#10699a"/>
<rect x="140" y="287" width="22" height="1" fill="#10699a"/>
<rect x="160" y="283" width="2" height="9" fill="#10699a"/>
<rect x="291" y="287" width="37" height="1" fill="#10699a"/>
<rect x="291" y="283" width="1" height="9" fill="#10699a"/>
<rect x="327" y="283" width="1" height="9" fill="#10699a"/>
<rect x="362" y="283" width="1" height="9" fill="#10699a"/>
<rect x="369" y="287" width="111" height="1" fill="#10699a"/>
<rect x="369" y="283" width="1" height="9" fill="#10699a"/>
<rect x="479" y="283" width="1" height="9" fill="#10699a"/>
<rect x="426" y="283" width="2" height="9" fill="#10699a"/>
<rect x="369" y="283" width="2" height="9" fill="#10699a"/>
<rect x="561" y="283" width="1" height="9" fill="#10699a"/>
<rect x="570" y="287" width="30" height="1" fill="#10699a"/>
<rect x="570" y="283" width="1" height="9" fill="#10699a"/>
<rect x="599" y="283" width="1" height="9" fill="#10699a"/>
<rect x="619" y="287" width="49" height="1" fill="#10699a"/>
<rect x="619" y="283" width="1" height="9" fill="#10699a"/>
<rect x="667" y="283" width="1" height="9" fill="#10699a"/>
<rect x="140" y="302" width="38" height="1" fill="#10699a"/>
<rect x="177" y="298" width="1" height="9" fill="#10699a"/>
<rect x="298" y="302" width="46" height="1" fill="#10699a"/>
<rect x="298" y="298" width="2" height="9" fill="#10699a"/>
<rect x="343" y="298" width="1" height="9" fill="#10699a"/>
<rect x="374" y="302" width="46" height="1" fill="#10699a"/>
<rect x="374" y="298" width="1" height="9" fill="#10699a"/>
<rect x="418" y="298" width="2" height="9" fill="#10699a"/>
<rect x="432" y="302" width="56" height="1" fill="#10699a"/>
<rect x="432" y="298" width="1" height="9" fill="#10699a"/>
<rect x="486" y="298" width="2" height="9" fill="#10699a"/>
<rect x="432" y="298" width="1" height="9" fill="#10699a"/>
<rect x="561" y="298" width="1" height="9" fill="#10699a"/>
<rect x="570" y="302" width="70" height="1" fill="#10699a"/>
<rect x="570" y="298" width="1" height="9" fill="#10699a"/>
<rect x="639" y="298" width="1" height="9" fill="#10699a"/>
<rect x="591" y="298" width="2" height="9" fill="#10699a"/>
<rect x="140" y="317" width="12" height="1" fill="#10699a"/>
<rect x="151" y="313" width="1" height="9" fill="#10699a"/>
<rect x="304" y="313" width="2" height="9" fill="#10699a"/>
<rect x="398" y="317" width="39" height="1" fill="#10699a"/>
<rect x="398" y="313" width="2" height="9" fill="#10699a"/>
<rect x="436" y="313" width="1" height="9" fill="#10699a"/>
<rect x="582" y="317" width="46" height="1" fill="#10699a"/>
<rect x="582" y="313" width="1" height="9" fill="#10699a"/>
<rect x="626" y="313" width="3" height="9" fill="#10699a"/>
<rect x="636" y="313" width="1" height="9" fill="#10699a"/>
<rect x="402" y="332" width="43" height="1" fill="#10699a"/>
<rect x="402" y="328" width="1" height="9" fill="#10699a"/>
<rect x="443" y="328" width="2" height="9" fill="#10699a"/>
<rect x="582" y="328" width="1" height="9" fill="#10699a"/>
<rect x="595" y="328" width="1" height="9" fill="#10699a"/>
<rect x="619" y="328" width="2" height="9" fill="#10699a"/>
<rect x="628" y="328" width="2" height="9" fill="#10699a"/>
<rect x="636" y="332" width="57" height="1" fill="#10699a"/>
<rect x="636" y="328" width="1" height="9" fill="#10699a"/>
<rect x="692" y="328" width="1" height="9" fill="#10699a"/>
<rect x="595" y="343" width="1" height="9" fill="#10699a"/>
<rect x="140" y="362" width="116" height="1" fill="#5c5c5c"/>
<rect x="254" y="358" width="2" height="9" fill="#5c5c5c"/>
<rect x="146" y="358" width="1" height="9" fill="#5c5c5c"/>
<rect x="148" y="358" width="2" height="9" fill="#5c5c5c"/>
<rect x="187" y="358" width="3" height="9" fill="#5c5c5c"/>
<rect x="218" y="358" width="2" height="9" fill="#5c5c5c"/>
<rect x="263" y="362" width="49" height="1" fill="#5c5c5c"/>
<rect x="263" y="358" width="2" height="9" fill="#5c5c5c"/>
<rect x="311" y="358" width="1" height="9" fill="#5c5c5c"/>
<rect x="319" y="362" width="51" height="1" fill="#5c5c5c"/>
<rect x="319" y="358" width="1" height="9" fill="#5c5c5c"/>
<rect x="369" y="358" width="1" height="9" fill="#5c5c5c"/>
<rect x="375" y="362" width="55" height="1" fill="#5c5c5c"/>
<rect x="375" y="358" width="1" height="9" fill="#5c5c5c"/>
<rect x="429" y="358" width="1" height="9" fill="#5c5c5c"/>
<rect x="442" y="362" width="36" height="1" fill="#5c5c5c"/>
<rect x="442" y="358" width="1" height="9" fill="#5c5c5c"/>
<rect x="475" y="358" width="3" height="9" fill="#5c5c5c"/>
<rect x="489" y="362" width="42" height="1" fill="#5c5c5c"/>
<rect x="489" y="358" width="1" height="9" fill="#5c5c5c"/>
<rect x="530" y="358" width="1" height="9" fill="#5c5c5c"/>
<rect x="552" y="362" width="39" height="1" fill="#5c5c5c"/>
<rect x="552" y="358" width="1" height="9" fill="#5c5c5c"/>
<rect x="590" y="358" width="1" height="9" fill="#5c5c5c"/>
<rect x="605" y="362" width="52" height="1" fill="#5c5c5c"/>
<rect x="605" y="358" width="2" height="9" fill="#5c5c5c"/>
<rect x="656" y="358" width="1" height="9" fill="#5c5c5c"/>
<rect x="667" y="358" width="1" height="9" fill="#5c5c5c"/>
<rect x="696" y="362" width="84" height="1" fill="#5c5c5c"/>
<rect x="696" y="358" width="2" height="9" fill="#5c5c5c"/>
<rect x="735" y="358" width="2" height="9" fill="#5c5c5c"/>
<rect x="761" y="358" width="2" height="9" fill="#5c5c5c"/>
<rect x="140" y="377" width="79" height="1" fill="#5c5c5c"/>
<rect x="218" y="373" width="1" height="9" fill="#5c5c5c"/>
<rect x="164" y="373" width="3" height="9" fill="#5c5c5c"/>
<rect x="235" y="377" width="47" height="1" fill="#5c5c5c"/>
<rect x="235" y="373" width="1" height="9" fill="#5c5c5c"/>
<rect x="280" y="373" width="2" height="9" fill="#5c5c5c"/>
<rect x="293" y="377" width="38" height="1" fill="#5c5c5c"/>
<rect x="293" y="373" width="1" height="9" fill="#5c5c5c"/>
<rect x="329" y="373" width="2" height="9" fill="#5c5c5c"/>
<rect x="348" y="373" width="1" height="9" fill="#5c5c5c"/>
<rect x="351" y="377" width="86" height="1" fill="#5c5c5c"/>
<rect x="351" y="373" width="1" height="9" fill="#5c5c5c"/>
<rect x="436" y="373" width="1" height="9" fill="#5c5c5c"/>
<rect x="407" y="373" width="1" height="9" fill="#5c5c5c"/>
<rect x="408" y="373" width="2" height="9" fill="#5c5c5c"/>
<rect x="444" y="373" width="1" height="9" fill="#5c5c5c"/>
<rect x="450" y="377" width="40" height="1" fill="#5c5c5c"/>
<rect x="450" y="373" width="1" height="9" fill="#5c5c5c"/>
<rect x="488" y="373" width="3" height="9" fill="#5c5c5c"/>
<rect x="499" y="377" width="49" height="1" fill="#5c5c5c"/>
<rect x="499" y="373" width="2" height="9" fill="#5c5c5c"/>
<rect x="547" y="373" width="1" height="9" fill="#5c5c5c"/>
<rect x="558" y="377" width="41" height="1" fill="#5c5c5c"/>
<rect x="558" y="373" width="1" height="9" fill="#5c5c5c"/>
<rect x="597" y="373" width="2" height="9" fill="#5c5c5c"/>
<rect x="611" y="373" width="2" height="9" fill="#5c5c5c"/>
<rect x="615" y="377" width="42" height="1" fill="#5c5c5c"/>
<rect x="615" y="373" width="2" height="9" fill="#5c5c5c"/>
<rect x="656" y="373" width="1" height="9" fill="#5c5c5c"/>
<rect x="667" y="373" width="1" height="9" fill="#5c5c5c"/>
<rect x="702" y="377" width="35" height="1" fill="#5c5c5c"/>
<rect x="702" y="373" width="1" height="9" fill="#5c5c5c"/>
<rect x="735" y="373" width="2" height="9" fill="#5c5c5c"/>
<rect x="702" y="373" width="2" height="9" fill="#5c5c5c"/>
<rect x="744" y="373" width="1" height="9" fill="#5c5c5c"/>
<rect x="748" y="377" width="32" height="1" fill="#5c5c5c"/>
<rect x="753" y="373" width="3" height="9" fill="#5c5c5c"/>
<rect x="140" y="392" width="11" height="1" fill="#5c5c5c"/>
<rect x="150" y="388" width="1" height="9" fill="#5c5c5c"/>
<rect x="155" y="392" width="37" height="1" fill="#5c5c5c"/>
<rect x="155" y="388" width="1" height="9" fill="#5c5c5c"/>
<rect x="195" y="388" width="1" height="9" fill="#5c5c5c"/>
<rect x="207" y="388" width="1" height="9" fill="#5c5c5c"/>
<rect x="212" y="392" width="35" height="1" fill="#5c5c5c"/>
<rect x="212" y="388" width="1" height="9" fill="#5c5c5c"/>
<rect x="245" y="388" width="2" height="9" fill="#5c5c5c"/>
<rect x="266" y="392" width="50" height="1" fill="#5c5c5c"/>
<rect x="266" y="388" width="1" height="9" fill="#5c5c5c"/>
<rect x="315" y="388" width="1" height="9" fill="#5c5c5c"/>
<rect x="266" y="388" width="2" height="9" fill="#5c5c5c"/>
<rect x="319" y="392" width="51" height="1" fill="#5c5c5c"/>
<rect x="319" y="388" width="1" height="9" fill="#5c5c5c"/>
<rect x="369" y="388" width="1" height="9" fill="#5c5c5c"/>
<rect x="423" y="392" width="85" height="1" fill="#5c5c5c"/>
<rect x="423" y="388" width="1" height="9" fill="#5c5c5c"/>
<rect x="506" y="388" width="2" height="9" fill="#5c5c5c"/>
<rect x="423" y="388" width="2" height="9" fill="#5c5c5c"/>
<rect x="462" y="388" width="2" height="9" fill="#5c5c5c"/>
<rect x="511" y="388" width="2" height="9" fill="#5c5c5c"/>
<rect x="523" y="392" width="90" height="1" fill="#5c5c5c"/>
<rect x="523" y="388" width="1" height="9" fill="#5c5c5c"/>
<rect x="611" y="388" width="2" height="9" fill="#5c5c5c"/>
<rect x="577" y="388" width="1" height="9" fill="#5c5c5c"/>
<rect x="572" y="388" width="1" height="9" fill="#5c5c5c"/>
<rect x="618" y="388" width="1" height="9" fill="#5c5c5c"/>
<rect x="636" y="392" width="49" height="1" fill="#5c5c5c"/>
<rect x="636" y="388" width="1" height="9" fill="#5c5c5c"/>
<rect x="684" y="388" width="1" height="9" fill="#5c5c5c"/>
<rect x="702" y="388" width="1" height="9" fill="#5c5c5c"/>
<rect x="711" y="392" width="69" height="1" fill="#5c5c5c"/>
<rect x="711" y="388" width="1" height="9" fill="#5c5c5c"/>
<rect x="747" y="388" width="4" height="9" fill="#5c5c5c"/>
<rect x="140" y="407" width="15" height="1" fill="#5c5c5c"/>
<rect x="153" y="403" width="2" height="9" fill="#5c5c5c"/>
<rect x="157" y="407" width="40" height="1" fill="#5c5c5c"/>
<rect x="157" y="403" width="1" height="9" fill="#5c5c5c"/>
<rect x="196" y="403" width="1" height="9" fill="#5c5c5c"/>
<rect x="213" y="407" width="54" height="1" fill="#5c5c5c"/>
<rect x="213" y="403" width="1" height="9" fill="#5c5c5c"/>
<rect x="266" y="403" width="1" height="9" fill="#5c5c5c"/>
<rect x="273" y="403" width="1" height="9" fill="#5c5c5c"/>
<rect x="296" y="407" width="42" height="1" fill="#5c5c5c"/>
<rect x="296" y="403" width="2" height="9" fill="#5c5c5c"/>
<rect x="337" y="403" width="1" height="9" fill="#5c5c5c"/>
<rect x="353" y="407" width="43" height="1" fill="#5c5c5c"/>
<rect x="353" y="403" width="1" height="9" fill="#5c5c5c"/>
<rect x="394" y="403" width="2" height="9" fill="#5c5c5c"/>
<rect x="426" y="403" width="4" height="9" fill="#5c5c5c"/>
<rect x="462" y="403" width="1" height="9" fill="#5c5c5c"/>
<rect x="477" y="403" width="1" height="9" fill="#5c5c5c"/>
<rect x="489" y="407" width="44" height="1" fill="#5c5c5c"/>
<rect x="489" y="403" width="1" height="9" fill="#5c5c5c"/>
<rect x="532" y="403" width="1" height="9" fill="#5c5c5c"/>
<rect x="558" y="407" width="42" height="1" fill="#5c5c5c"/>
<rect x="558" y="403" width="1" height="9" fill="#5c5c5c"/>
<rect x="599" y="403" width="1" height="9" fill="#5c5c5c"/>
<rect x="643" y="407" width="41" height="1" fill="#5c5c5c"/>
<rect x="643" y="403" width="1" height="9" fill="#5c5c5c"/>
<rect x="683" y="403" width="1" height="9" fill="#5c5c5c"/>
<rect x="724" y="407" width="42" height="1" fill="#5c5c5c"/>
<rect x="724" y="403" width="1" height="9" fill="#5c5c5c"/>
<rect x="765" y="403" width="1" height="9" fill="#5c5c5c"/>
<rect x="769" y="407" width="11" height="1" fill="#5c5c5c"/>
<rect x="769" y="403" width="1" height="9" fill="#5c5c5c"/>
<rect x="140" y="422" width="36" height="1" fill="#5c5c5c"/>
<rect x="174" y="418" width="2" height="9" fill="#5c5c5c"/>
<rect x="177" y="422" width="42" height="1" fill="#5c5c5c"/>
<rect x="177" y="418" width="1" height="9" fill="#5c5c5c"/>
<rect x="218" y="418" width="1" height="9" fill="#5c5c5c"/>
<rect x="238" y="418" width="2" height="9" fill="#5c5c5c"/>
<rect x="244" y="418" width="1" height="9" fill="#5c5c5c"/>
<rect x="297" y="422" width="46" height="1" fill="#5c5c5c"/>
<rect x="297" y="418" width="1" height="9" fill="#5c5c5c"/>
<rect x="341" y="418" width="2" height="9" fill="#5c5c5c"/>
<rect x="427" y="422" width="42" height="1" fill="#5c5c5c"/>
<rect x="427" y="418" width="2" height="9" fill="#5c5c5c"/>
<rect x="468" y="418" width="1" height="9" fill="#5c5c5c"/>
<rect x="510" y="418" width="1" height="9" fill="#5c5c5c"/>
<rect x="523" y="418" width="1" height="9" fill="#5c5c5c"/>
<rect x="558" y="422" width="62" height="1" fill="#5c5c5c"/>
<rect x="558" y="418" width="1" height="9" fill="#5c5c5c"/>
<rect x="619" y="418" width="1" height="9" fill="#5c5c5c"/>
<rect x="558" y="418" width="2" height="9" fill="#5c5c5c"/>
<rect x="650" y="418" width="2" height="9" fill="#5c5c5c"/>
<rect x="728" y="422" width="52" height="1" fill="#5c5c5c"/>
<rect x="728" y="418" width="1" height="9" fill="#5c5c5c"/>
<rect x="775" y="418" width="1" height="9" fill="#5c5c5c"/>
<rect x="777" y="418" width="1" height="9" fill="#5c5c5c"/>
<rect x="728" y="418" width="3" height="9" fill="#5c5c5c"/>
<rect x="140" y="437" width="78" height="1" fill="#5c5c5c"/>
<rect x="140" y="433" width="2" height="9" fill="#5c5c5c"/>
<rect x="216" y="433" width="2" height="9" fill="#5c5c5c"/>
<rect x="177" y="433" width="1" height="9" fill="#5c5c5c"/>
<rect x="305" y="437" width="49" height="1" fill="#5c5c5c"/>
<rect x="305" y="433" width="1" height="9" fill="#5c5c5c"/>
<rect x="352" y="433" width="2" height="9" fill="#5c5c5c"/>
<rect x="566" y="433" width="2" height="9" fill="#5c5c5c"/>
<rect x="582" y="437" width="62" height="1" fill="#5c5c5c"/>
<rect x="582" y="433" width="2" height="9" fill="#5c5c5c"/>
<rect x="642" y="433" width="2" height="9" fill="#5c5c5c"/>
<rect x="731" y="437" width="49" height="1" fill="#5c5c5c"/>
<rect x="731" y="433" width="1" height="9" fill="#5c5c5c"/>
<rect x="762" y="433" width="1" height="9" fill="#5c5c5c"/>
<rect x="764" y="433" width="2" height="9" fill="#5c5c5c"/>
<rect x="164" y="448" width="3" height="9" fill="#5c5c5c"/>
<rect x="173" y="452" width="56" height="1" fill="#5c5c5c"/>
<rect x="173" y="448" width="1" height="9" fill="#5c5c5c"/>
<rect x="228" y="448" width="1" height="9" fill="#5c5c5c"/>
<rect x="326" y="452" width="44" height="1" fill="#5c5c5c"/>
<rect x="326" y="448" width="1" height="9" fill="#5c5c5c"/>
<rect x="369" y="448" width="1" height="9" fill="#5c5c5c"/>
<rect x="582" y="452" width="52" height="1" fill="#5c5c5c"/>
<rect x="582" y="448" width="1" height="9" fill="#5c5c5c"/>
<rect x="633" y="448" width="1" height="9" fill="#5c5c5c"/>
<rect x="582" y="448" width="2" height="9" fill="#5c5c5c"/>
<rect x="743" y="452" width="35" height="1" fill="#5c5c5c"/>
<rect x="743" y="448" width="1" height="9" fill="#5c5c5c"/>
<rect x="776" y="448" width="2" height="9" fill="#5c5c5c"/>
<rect x="184" y="467" width="29" height="1" fill="#5c5c5c"/>
<rect x="184" y="463" width="1" height="9" fill="#5c5c5c"/>
<rect x="212" y="463" width="1" height="9" fill="#5c5c5c"/>
<rect x="330" y="467" width="38" height="1" fill="#5c5c5c"/>
<rect x="330" y="463" width="1" height="9" fill="#5c5c5c"/>
<rect x="367" y="463" width="1" height="9" fill="#5c5c5c"/>
<rect x="747" y="467" width="31" height="1" fill="#5c5c5c"/>
<rect x="747" y="463" width="1" height="9" fill="#5c5c5c"/>
<rect x="776" y="463" width="2" height="9" fill="#5c5c5c"/>
<rect x="185" y="482" width="46" height="1" fill="#5c5c5c"/>
<rect x="185" y="478" width="1" height="9" fill="#5c5c5c"/>
<rect x="229" y="478" width="2" height="9" fill="#5c5c5c"/>
<rect x="750" y="482" width="30" height="1" fill="#5c5c5c"/>
<rect x="750" y="478" width="2" height="9" fill="#5c5c5c"/>
<rect x="779" y="478" width="1" height="9" fill="#5c5c5c"/>
<rect x="186" y="497" width="33" height="1" fill="#5c5c5c"/>
<rect x="186" y="493" width="1" height="9" fill="#5c5c5c"/>
<rect x="218" y="493" width="1" height="9" fill="#5c5c5c"/>
<rect x="754" y="497" width="26" height="1" fill="#5c5c5c"/>
<rect x="754" y="493" width="1" height="9" fill="#5c5c5c"/>
<rect x="755" y="512" width="25" height="1" fill="#5c5c5c"/>
<rect x="755" y="508" width="1" height="9" fill="#5c5c5c"/>
<rect x="755" y="508" width="1" height="9" fill="#5c5c5c"/>
<rect x="755" y="527" width="25" height="1" fill="#5c5c5c"/>
<rect x="755" y="523" width="1" height="9" fill="#5c5c5c"/>
<rect x="764" y="542" width="16" height="1" fill="#5c5c5c"/>
<rect x="764" y="538" width="2" height="9" fill="#5c5c5c"/>
<rect x="776" y="557" width="4" height="1" fill="#5c5c5c"/>
<rect x="776" y="553" width="2" height="9" fill="#5c5c5c"/>
<path d="M154 238h1v1h-1zM154 240h1v1h-1zM154 242h1v1h-1zM154 244h1v1h-1zM154 246h1v1h-1zM155 239h1v1h-1zM155 241h1v1h-1zM155 243h1v1h-1zM155 245h1v1h-1zM156 240h1v1h-1zM156 242h1v1h-1zM156 244h1v1h-1zM157 241h1v1h-1zM157 243h1v1h-1zM158 242h1v1h-1zM184 272h1v1h-1zM185 271h1v1h-1zM185 273h1v1h-1zM186 270h1v1h-1zM186 272h1v1h-1zM186 274h1v1h-1zM187 269h1v1h-1zM187 271h1v1h-1zM187 273h1v1h-1zM187 275h1v1h-1zM188 268h1v9h-1zM189 270h1v1h-1zM189 272h1v1h-1zM189 274h1v1h-1zM190 271h1v1h-1zM190 273h1v1h-1zM191 272h1v1h-1zM194 272h1v1h-1zM195 271h1v1h-1zM195 273h1v1h-1zM196 270h1v1h-1zM196 272h1v1h-1zM196 274h1v1h-1zM197 269h1v1h-1zM197 271h1v1h-1zM197 273h1v1h-1zM197 275h1v1h-1zM198 268h1v1h-1zM198 270h1v1h-1zM198 272h1v1h-1zM198 274h1v1h-1zM198 276h1v1h-1zM199 242h1v1h-1zM200 241h1v1h-1zM200 243h1v1h-1zM201 240h1v1h-1zM201 242h1v1h-1zM201 244h1v1h-1zM202 239h1v1h-1zM202 241h1v1h-1zM202 243h1v1h-1zM202 245h1v1h-1zM205 268h1v1h-1zM205 270h1v1h-1zM205 272h1v1h-1zM205 274h1v1h-1zM205 276h1v1h-1zM206 269h1v1h-1zM206 271h1v1h-1zM206 273h1v1h-1zM206 275h1v1h-1zM207 270h1v1h-1zM207 272h1v1h-1zM207 274h1v1h-1zM208 271h1v3h-1zM209 271h1v3h-1zM210 270h1v1h-1zM210 272h1v1h-1zM210 274h1v1h-1zM211 269h1v1h-1zM211 271h1v1h-1zM211 273h1v1h-1zM211 275h1v1h-1zM212 268h1v1h-1zM212 270h1v1h-1zM212 272h1v1h-1zM212 274h1v1h-1zM212 276h1v1h-1zM261 242h1v1h-1zM262 241h1v1h-1zM262 243h1v1h-1zM263 240h1v1h-1zM263 242h1v1h-1zM263 244h1v1h-1zM264 239h1v1h-1zM264 241h1v1h-1zM264 243h1v1h-1zM264 245h1v1h-1zM265 238h1v1h-1zM265 240h1v1h-1zM265 242h1v1h-1zM265 244h1v1h-1zM265 246h1v1h-1zM299 317h1v1h-1zM300 316h1v1h-1zM300 318h1v1h-1zM301 315h1v1h-1zM301 317h1v1h-1zM301 319h1v1h-1zM302 314h1v1h-1zM302 316h1v1h-1zM302 318h1v1h-1zM302 320h1v1h-1zM303 313h1v1h-1zM303 315h1v1h-1zM303 317h1v1h-1zM303 319h1v1h-1zM303 321h1v1h-1zM320 253h1v1h-1zM320 255h1v1h-1zM320 257h1v1h-1zM320 259h1v1h-1zM320 261h1v1h-1zM321 238h1v1h-1zM321 240h1v1h-1zM321 242h1v1h-1zM321 244h1v1h-1zM321 246h1v1h-1zM321 254h1v1h-1zM321 256h1v1h-1zM321 258h1v1h-1zM321 260h1v1h-1zM322 239h1v1h-1zM322 241h1v1h-1zM322 243h1v1h-1zM322 245h1v1h-1zM322 255h1v1h-1zM322 257h1v1h-1zM322 259h1v1h-1zM323 240h1v1h-1zM323 242h1v1h-1zM323 244h1v1h-1zM323 256h1v1h-1zM323 258h1v1h-1zM324 239h1v1h-1zM324 241h1v1h-1zM324 243h1v1h-1zM324 245h1v1h-1zM324 257h1v1h-1zM325 238h1v1h-1zM325 240h1v1h-1zM325 242h1v1h-1zM325 244h1v1h-1zM325 246h1v1h-1zM326 238h1v1h-1zM326 240h1v1h-1zM326 242h1v1h-1zM326 244h1v1h-1zM326 246h1v1h-1zM327 239h1v1h-1zM327 241h1v1h-1zM327 243h1v1h-1zM327 245h1v1h-1zM328 240h1v1h-1zM328 242h1v1h-1zM328 244h1v1h-1zM329 239h1v1h-1zM329 241h1v1h-1zM329 243h1v1h-1zM329 245h1v1h-1zM330 238h1v1h-1zM330 240h1v1h-1zM330 242h1v1h-1zM330 244h1v1h-1zM330 246h1v1h-1zM342 238h1v1h-1zM342 240h1v1h-1zM342 242h1v1h-1zM342 244h1v1h-1zM342 246h1v1h-1zM343 239h1v1h-1zM343 241h1v1h-1zM343 243h1v1h-1zM343 245h1v1h-1zM344 240h1v1h-1zM344 242h1v1h-1zM344 244h1v1h-1zM345 241h1v1h-1zM345 243h1v1h-1zM346 242h1v1h-1zM352 255h1v1h-1zM352 257h1v1h-1zM352 259h1v1h-1zM353 256h1v1h-1zM353 258h1v1h-1zM354 257h1v1h-1zM355 253h1v1h-1zM355 255h1v1h-1zM355 257h1v1h-1zM355 259h1v1h-1zM355 261h1v1h-1zM356 254h1v1h-1zM356 256h1v1h-1zM356 258h1v1h-1zM356 260h1v1h-1zM357 255h1v1h-1zM357 257h1v1h-1zM357 259h1v1h-1zM357 287h1v1h-1zM358 256h1v1h-1zM358 258h1v1h-1zM358 286h1v1h-1zM358 288h1v1h-1zM359 255h1v1h-1zM359 257h1v1h-1zM359 259h1v1h-1zM359 285h1v1h-1zM359 287h1v1h-1zM359 289h1v1h-1zM360 254h1v1h-1zM360 256h1v1h-1zM360 258h1v1h-1zM360 260h1v1h-1zM360 284h1v1h-1zM360 286h1v1h-1zM360 288h1v1h-1zM360 290h1v1h-1zM361 253h1v1h-1zM361 255h1v1h-1zM361 257h1v1h-1zM361 259h1v1h-1zM361 261h1v1h-1zM361 283h1v1h-1zM361 285h1v1h-1zM361 287h1v1h-1zM361 289h1v1h-1zM361 291h1v1h-1zM371 284h1v1h-1zM371 286h1v1h-1zM371 288h1v1h-1zM371 290h1v1h-1zM372 285h1v1h-1zM372 287h1v1h-1zM372 289h1v1h-1zM373 286h1v1h-1zM373 288h1v1h-1zM374 287h1v1h-1zM425 268h1v1h-1zM425 270h1v1h-1zM425 272h1v1h-1zM425 274h1v1h-1zM425 276h1v1h-1zM426 269h1v1h-1zM426 271h1v1h-1zM426 273h1v1h-1zM426 275h1v1h-1zM427 270h1v1h-1zM427 272h1v1h-1zM427 274h1v1h-1zM428 271h1v1h-1zM428 273h1v1h-1zM429 272h1v1h-1zM433 298h1v1h-1zM433 300h1v1h-1zM433 302h1v1h-1zM433 304h1v1h-1zM433 306h1v1h-1zM434 299h1v1h-1zM434 301h1v1h-1zM434 303h1v1h-1zM434 305h1v1h-1zM435 300h1v1h-1zM435 302h1v1h-1zM435 304h1v1h-1zM436 301h1v1h-1zM436 303h1v1h-1zM437 302h1v1h-1zM463 257h1v1h-1zM464 256h1v1h-1zM464 258h1v1h-1zM465 255h1v1h-1zM465 257h1v1h-1zM465 259h1v1h-1zM466 254h1v1h-1zM466 256h1v1h-1zM466 258h1v1h-1zM466 260h1v1h-1zM467 253h1v1h-1zM467 255h1v1h-1zM467 257h1v1h-1zM467 259h1v1h-1zM467 261h1v1h-1zM468 254h1v1h-1zM468 256h1v1h-1zM468 258h1v1h-1zM468 260h1v1h-1zM486 272h1v1h-1zM487 271h1v1h-1zM487 273h1v1h-1zM488 270h1v1h-1zM488 272h1v1h-1zM488 274h1v1h-1zM489 269h1v1h-1zM489 271h1v1h-1zM489 273h1v1h-1zM489 275h1v1h-1zM490 268h1v1h-1zM490 270h1v1h-1zM490 272h1v1h-1zM490 274h1v1h-1zM490 276h1v1h-1zM491 269h1v1h-1zM491 271h1v1h-1zM491 273h1v1h-1zM491 275h1v1h-1zM492 270h1v1h-1zM492 272h1v1h-1zM492 274h1v1h-1zM493 271h1v1h-1zM493 273h1v1h-1zM494 272h1v1h-1zM556 287h1v1h-1zM556 302h1v1h-1zM557 286h1v1h-1zM557 288h1v1h-1zM557 301h1v1h-1zM557 303h1v1h-1zM558 285h1v1h-1zM558 287h1v1h-1zM558 289h1v1h-1zM558 300h1v1h-1zM558 302h1v1h-1zM558 304h1v1h-1zM559 284h1v1h-1zM559 286h1v1h-1zM559 288h1v1h-1zM559 290h1v1h-1zM559 299h1v1h-1zM559 301h1v1h-1zM559 303h1v1h-1zM559 305h1v1h-1zM560 283h1v1h-1zM560 285h1v1h-1zM560 287h1v1h-1zM560 289h1v1h-1zM560 291h1v1h-1zM560 298h1v1h-1zM560 300h1v1h-1zM560 302h1v1h-1zM560 304h1v1h-1zM560 306h1v1h-1zM583 328h1v1h-1zM583 330h1v1h-1zM583 332h1v1h-1zM583 334h1v1h-1zM583 336h1v1h-1zM584 329h1v1h-1zM584 331h1v1h-1zM584 333h1v1h-1zM584 335h1v1h-1zM585 330h1v1h-1zM585 332h1v1h-1zM585 334h1v1h-1zM586 331h1v1h-1zM586 333h1v1h-1zM587 332h1v1h-1zM590 332h1v1h-1zM590 347h1v1h-1zM591 331h1v1h-1zM591 333h1v1h-1zM591 346h1v1h-1zM591 348h1v1h-1zM592 330h1v1h-1zM592 332h1v1h-1zM592 334h1v1h-1zM592 345h1v1h-1zM592 347h1v1h-1zM592 349h1v1h-1zM593 329h1v1h-1zM593 331h1v1h-1zM593 333h1v1h-1zM593 335h1v1h-1zM593 344h1v1h-1zM593 346h1v1h-1zM593 348h1v1h-1zM593 350h1v1h-1zM594 328h1v1h-1zM594 330h1v1h-1zM594 332h1v1h-1zM594 334h1v1h-1zM594 336h1v1h-1zM594 343h1v1h-1zM594 345h1v1h-1zM594 347h1v1h-1zM594 349h1v1h-1zM594 351h1v1h-1zM607 272h1v1h-1zM608 271h1v1h-1zM608 273h1v1h-1zM609 270h1v1h-1zM609 272h1v1h-1zM609 274h1v1h-1zM610 269h1v1h-1zM610 271h1v1h-1zM610 273h1v1h-1zM610 275h1v1h-1zM611 268h1v1h-1zM611 270h1v1h-1zM611 272h1v1h-1zM611 274h1v1h-1zM611 276h1v1h-1zM621 328h1v9h-1zM622 329h1v7h-1zM623 330h1v5h-1zM624 331h1v3h-1zM625 332h1v1h-1zM629 313h1v1h-1zM629 315h1v1h-1zM629 317h1v1h-1zM629 319h1v1h-1zM629 321h1v1h-1zM630 314h1v1h-1zM630 316h1v1h-1zM630 318h1v1h-1zM630 320h1v1h-1zM630 329h1v1h-1zM630 331h1v1h-1zM630 333h1v1h-1zM630 335h1v1h-1zM631 315h1v1h-1zM631 317h1v1h-1zM631 319h1v1h-1zM631 330h1v1h-1zM631 332h1v1h-1zM631 334h1v1h-1zM632 316h1v1h-1zM632 318h1v1h-1zM632 331h1v1h-1zM632 333h1v1h-1zM633 317h1v1h-1zM633 332h1v1h-1zM637 313h1v1h-1zM637 315h1v1h-1zM637 317h1v1h-1zM637 319h1v1h-1zM637 321h1v1h-1zM638 314h1v1h-1zM638 316h1v1h-1zM638 318h1v1h-1zM638 320h1v1h-1zM639 315h1v1h-1zM639 317h1v1h-1zM639 319h1v1h-1zM640 316h1v1h-1zM640 318h1v1h-1zM641 317h1v1h-1zM661 257h1v1h-1zM662 256h1v1h-1zM662 258h1v1h-1zM663 255h1v1h-1zM663 257h1v1h-1zM663 259h1v1h-1zM664 254h1v1h-1zM664 256h1v1h-1zM664 258h1v1h-1zM664 260h1v1h-1zM665 253h1v1h-1zM665 255h1v1h-1zM665 257h1v1h-1zM665 259h1v1h-1zM665 261h1v1h-1zM673 253h1v9h-1zM674 254h1v7h-1zM675 255h1v5h-1zM676 256h1v3h-1zM677 257h1v1h-1zM678 253h1v1h-1zM678 255h1v1h-1zM678 257h1v1h-1zM678 259h1v1h-1zM678 261h1v1h-1zM679 254h1v1h-1zM679 256h1v3h-1zM679 260h1v1h-1zM680 255h1v5h-1zM681 255h1v5h-1zM682 254h1v1h-1zM682 256h1v3h-1zM682 260h1v1h-1zM683 253h1v1h-1zM683 255h1v1h-1zM683 257h1v1h-1zM683 259h1v1h-1zM683 261h1v1h-1zM687 257h1v1h-1zM688 256h1v1h-1zM688 258h1v1h-1zM689 255h1v1h-1zM689 257h1v1h-1zM689 259h1v1h-1zM690 254h1v1h-1zM690 256h1v1h-1zM690 258h1v1h-1zM690 260h1v1h-1zM691 253h1v1h-1zM691 255h1v1h-1zM691 257h1v1h-1zM691 259h1v1h-1zM691 261h1v1h-1zM696 253h1v1h-1zM696 255h1v1h-1zM696 257h1v1h-1zM696 259h1v1h-1zM696 261h1v1h-1zM697 254h1v1h-1zM697 256h1v1h-1zM697 258h1v1h-1zM697 260h1v1h-1zM698 255h1v1h-1zM698 257h1v1h-1zM698 259h1v1h-1zM699 256h1v1h-1zM699 258h1v1h-1zM700 255h1v1h-1zM700 257h1v1h-1zM700 259h1v1h-1zM701 254h1v1h-1zM701 256h1v1h-1zM701 258h1v1h-1zM701 260h1v1h-1zM702 253h1v1h-1zM702 255h1v1h-1zM702 257h1v1h-1zM702 259h1v1h-1zM702 261h1v1h-1zM705 238h1v1h-1zM705 240h1v1h-1zM705 242h1v1h-1zM705 244h1v1h-1zM705 246h1v1h-1zM706 239h1v1h-1zM706 241h1v1h-1zM706 243h1v1h-1zM706 245h1v1h-1zM707 240h1v1h-1zM707 242h1v1h-1zM707 244h1v1h-1zM708 241h1v1h-1zM708 243h1v1h-1zM709 242h1v1h-1zM713 238h1v1h-1zM713 240h1v1h-1zM713 242h1v1h-1zM713 244h1v1h-1zM713 246h1v1h-1zM714 239h1v1h-1zM714 241h1v3h-1zM714 245h1v1h-1zM715 240h1v5h-1zM716 240h1v5h-1zM717 239h1v1h-1zM717 241h1v3h-1zM717 245h1v1h-1zM718 238h1v1h-1zM718 240h1v1h-1zM718 242h1v1h-1zM718 244h1v1h-1zM718 246h1v1h-1zM726 242h1v1h-1zM726 257h1v1h-1zM727 241h1v1h-1zM727 243h1v1h-1zM727 256h1v1h-1zM727 258h1v1h-1zM728 240h1v1h-1zM728 242h1v1h-1zM728 244h1v1h-1zM728 255h1v1h-1zM728 257h1v1h-1zM728 259h1v1h-1zM729 239h1v1h-1zM729 241h1v1h-1zM729 243h1v1h-1zM729 245h1v1h-1zM729 254h1v1h-1zM729 256h1v1h-1zM729 258h1v1h-1zM729 260h1v1h-1zM730 238h1v1h-1zM730 240h1v1h-1zM730 242h1v1h-1zM730 244h1v1h-1zM730 246h1v1h-1zM730 253h1v1h-1zM730 255h1v1h-1zM730 257h1v1h-1zM730 259h1v1h-1zM730 261h1v1h-1zM731 239h1v1h-1zM731 241h1v1h-1zM731 243h1v1h-1zM731 245h1v1h-1zM731 254h1v1h-1zM731 256h1v1h-1zM731 258h1v1h-1zM731 260h1v1h-1zM732 240h1v1h-1zM732 242h1v1h-1zM732 244h1v1h-1zM732 255h1v1h-1zM732 257h1v1h-1zM732 259h1v1h-1zM733 241h1v1h-1zM733 243h1v1h-1zM733 256h1v1h-1zM733 258h1v1h-1zM734 242h1v1h-1zM734 257h1v1h-1zM737 238h1v1h-1zM737 240h1v1h-1zM737 242h1v1h-1zM737 244h1v1h-1zM737 246h1v1h-1zM738 239h1v1h-1zM738 241h1v1h-1zM738 243h1v1h-1zM738 245h1v1h-1zM739 240h1v1h-1zM739 242h1v1h-1zM739 244h1v1h-1zM740 241h1v1h-1zM740 243h1v1h-1zM741 242h1v1h-1zM742 242h1v1h-1zM743 241h1v1h-1zM743 243h1v1h-1zM744 240h1v1h-1zM744 242h1v1h-1zM744 244h1v1h-1zM745 239h1v1h-1zM745 241h1v1h-1zM745 243h1v1h-1zM745 245h1v1h-1zM746 238h1v1h-1zM746 240h1v1h-1zM746 242h1v1h-1zM746 244h1v1h-1zM746 246h1v1h-1zM747 239h1v1h-1zM747 241h1v1h-1zM747 243h1v1h-1zM747 245h1v1h-1zM749 238h1v1h-1zM749 240h1v1h-1zM749 242h1v1h-1zM749 244h1v1h-1zM749 246h1v1h-1zM750 239h1v1h-1zM750 241h1v1h-1zM750 243h1v1h-1zM750 245h1v1h-1zM751 240h1v1h-1zM751 242h1v1h-1zM751 244h1v1h-1zM752 239h1v1h-1zM752 241h1v1h-1zM752 243h1v1h-1zM752 245h1v1h-1zM753 238h1v1h-1zM753 240h1v1h-1zM753 242h1v1h-1zM753 244h1v1h-1zM753 246h1v1h-1zM756 242h1v1h-1zM757 241h1v1h-1zM757 243h1v1h-1zM758 240h1v1h-1zM758 242h1v1h-1zM758 244h1v1h-1zM759 239h1v1h-1zM759 241h1v1h-1zM759 243h1v1h-1zM759 245h1v1h-1zM760 238h1v1h-1zM760 240h1v1h-1zM760 242h1v1h-1zM760 244h1v1h-1zM760 246h1v1h-1zM761 239h1v1h-1zM761 241h1v1h-1zM761 243h1v1h-1zM761 245h1v1h-1zM762 238h1v1h-1zM762 240h1v1h-1zM762 242h1v1h-1zM762 244h1v1h-1zM762 246h1v1h-1zM763 239h1v1h-1zM763 241h1v1h-1zM763 243h1v1h-1zM763 245h1v1h-1zM764 240h1v1h-1zM764 242h1v1h-1zM764 244h1v1h-1zM765 241h1v1h-1zM765 243h1v1h-1zM766 242h1v1h-1zM772 238h1v1h-1zM772 240h1v1h-1zM772 242h1v1h-1zM772 244h1v1h-1zM772 246h1v1h-1zM773 239h1v1h-1zM773 241h1v1h-1zM773 243h1v1h-1zM773 245h1v1h-1zM774 240h1v1h-1zM774 242h1v1h-1zM774 244h1v1h-1zM775 241h1v1h-1zM775 243h1v1h-1zM776 242h1v1h-1z" fill="#10699a"/>
<path d="M167 448h1v1h-1zM167 450h1v1h-1zM167 452h1v1h-1zM167 454h1v1h-1zM167 456h1v1h-1zM168 449h1v1h-1zM168 451h1v1h-1zM168 453h1v1h-1zM168 455h1v1h-1zM169 450h1v1h-1zM169 452h1v1h-1zM169 454h1v1h-1zM170 451h1v1h-1zM170 453h1v1h-1zM171 452h1v1h-1zM190 392h1v1h-1zM191 391h1v1h-1zM191 393h1v1h-1zM192 390h1v1h-1zM192 392h1v1h-1zM192 394h1v1h-1zM193 389h1v1h-1zM193 391h1v1h-1zM193 393h1v1h-1zM193 395h1v1h-1zM194 388h1v1h-1zM194 390h1v1h-1zM194 392h1v1h-1zM194 394h1v1h-1zM194 396h1v1h-1zM195 388h1v9h-1zM196 389h1v1h-1zM196 391h1v1h-1zM196 393h1v1h-1zM196 395h1v1h-1zM197 390h1v1h-1zM197 392h1v1h-1zM197 394h1v1h-1zM198 391h1v1h-1zM198 393h1v1h-1zM199 392h1v1h-1zM202 392h1v1h-1zM203 391h1v1h-1zM203 393h1v1h-1zM204 390h1v1h-1zM204 392h1v1h-1zM204 394h1v1h-1zM205 389h1v1h-1zM205 391h1v1h-1zM205 393h1v1h-1zM205 395h1v1h-1zM206 388h1v1h-1zM206 390h1v1h-1zM206 392h1v1h-1zM206 394h1v1h-1zM206 396h1v1h-1zM240 419h1v1h-1zM240 421h1v1h-1zM240 423h1v1h-1zM240 425h1v1h-1zM241 420h1v1h-1zM241 422h1v1h-1zM241 424h1v1h-1zM242 421h1v1h-1zM242 423h1v1h-1zM243 422h1v1h-1zM245 418h1v1h-1zM245 420h1v1h-1zM245 422h1v1h-1zM245 424h1v1h-1zM245 426h1v1h-1zM246 419h1v1h-1zM246 421h1v1h-1zM246 423h1v1h-1zM246 425h1v1h-1zM247 420h1v1h-1zM247 422h1v1h-1zM247 424h1v1h-1zM248 421h1v1h-1zM248 423h1v1h-1zM249 422h1v1h-1zM268 390h1v1h-1zM268 392h1v1h-1zM268 394h1v1h-1zM268 407h1v1h-1zM269 391h1v1h-1zM269 393h1v1h-1zM269 406h1v1h-1zM269 408h1v1h-1zM270 392h1v1h-1zM270 405h1v1h-1zM270 407h1v1h-1zM270 409h1v1h-1zM271 404h1v1h-1zM271 406h1v1h-1zM271 408h1v1h-1zM271 410h1v1h-1zM272 403h1v1h-1zM272 405h1v1h-1zM272 407h1v1h-1zM272 409h1v1h-1zM272 411h1v1h-1zM343 377h1v1h-1zM344 376h1v1h-1zM344 378h1v1h-1zM345 375h1v1h-1zM345 377h1v1h-1zM345 379h1v1h-1zM346 374h1v1h-1zM346 376h1v1h-1zM346 378h1v1h-1zM346 380h1v1h-1zM347 373h1v1h-1zM347 375h1v1h-1zM347 377h1v1h-1zM347 379h1v1h-1zM347 381h1v1h-1zM410 374h1v1h-1zM410 376h1v1h-1zM410 378h1v1h-1zM410 380h1v1h-1zM411 375h1v1h-1zM411 377h1v1h-1zM411 379h1v1h-1zM412 376h1v1h-1zM412 378h1v1h-1zM413 377h1v1h-1zM425 390h1v1h-1zM425 392h1v1h-1zM425 394h1v1h-1zM426 391h1v1h-1zM426 393h1v1h-1zM427 392h1v1h-1zM430 403h1v1h-1zM430 405h1v1h-1zM430 407h1v1h-1zM430 409h1v1h-1zM430 411h1v1h-1zM431 404h1v1h-1zM431 406h1v1h-1zM431 408h1v1h-1zM431 410h1v1h-1zM432 405h1v1h-1zM432 407h1v1h-1zM432 409h1v1h-1zM433 406h1v1h-1zM433 408h1v1h-1zM434 407h1v1h-1zM440 377h1v1h-1zM441 376h1v1h-1zM441 378h1v1h-1zM442 375h1v1h-1zM442 377h1v1h-1zM442 379h1v1h-1zM443 374h1v1h-1zM443 376h1v1h-1zM443 378h1v1h-1zM443 380h1v1h-1zM444 373h1v1h-1zM444 375h1v1h-1zM444 377h1v1h-1zM444 379h1v1h-1zM444 381h1v1h-1zM445 374h1v1h-1zM445 376h1v1h-1zM445 378h1v1h-1zM445 380h1v1h-1zM446 375h1v1h-1zM446 377h1v1h-1zM446 379h1v1h-1zM447 376h1v1h-1zM447 378h1v1h-1zM448 377h1v1h-1zM463 403h1v1h-1zM463 405h1v1h-1zM463 407h1v1h-1zM463 409h1v1h-1zM463 411h1v1h-1zM464 389h1v1h-1zM464 391h1v1h-1zM464 393h1v1h-1zM464 395h1v1h-1zM464 404h1v1h-1zM464 406h1v1h-1zM464 408h1v1h-1zM464 410h1v1h-1zM465 390h1v1h-1zM465 392h1v1h-1zM465 394h1v1h-1zM465 405h1v1h-1zM465 407h1v1h-1zM465 409h1v1h-1zM466 391h1v1h-1zM466 393h1v1h-1zM466 406h1v1h-1zM466 408h1v1h-1zM467 392h1v1h-1zM467 407h1v1h-1zM478 358h1v1h-1zM478 360h1v1h-1zM478 362h1v1h-1zM478 364h1v1h-1zM478 366h1v1h-1zM478 403h1v1h-1zM478 405h1v1h-1zM478 407h1v1h-1zM478 409h1v1h-1zM478 411h1v1h-1zM479 359h1v1h-1zM479 361h1v1h-1zM479 363h1v1h-1zM479 365h1v1h-1zM479 404h1v1h-1zM479 406h1v1h-1zM479 408h1v1h-1zM479 410h1v1h-1zM480 360h1v1h-1zM480 362h1v1h-1zM480 364h1v1h-1zM480 405h1v1h-1zM480 407h1v1h-1zM480 409h1v1h-1zM481 361h1v1h-1zM481 363h1v1h-1zM481 406h1v1h-1zM481 408h1v1h-1zM482 362h1v1h-1zM482 407h1v1h-1zM491 374h1v1h-1zM491 376h1v1h-1zM491 378h1v1h-1zM491 380h1v1h-1zM492 373h1v1h-1zM492 375h1v1h-1zM492 377h1v1h-1zM492 379h1v1h-1zM492 381h1v1h-1zM493 374h1v1h-1zM493 376h1v1h-1zM493 378h1v1h-1zM493 380h1v1h-1zM494 375h1v1h-1zM494 377h1v1h-1zM494 379h1v1h-1zM495 376h1v1h-1zM495 378h1v1h-1zM496 377h1v1h-1zM511 418h1v1h-1zM511 420h1v1h-1zM511 422h1v1h-1zM511 424h1v1h-1zM511 426h1v1h-1zM512 419h1v1h-1zM512 421h1v1h-1zM512 423h1v1h-1zM512 425h1v1h-1zM513 389h1v1h-1zM513 391h1v1h-1zM513 393h1v1h-1zM513 395h1v1h-1zM513 420h1v1h-1zM513 422h1v1h-1zM513 424h1v1h-1zM514 390h1v1h-1zM514 392h1v1h-1zM514 394h1v1h-1zM514 421h1v1h-1zM514 423h1v1h-1zM515 391h1v1h-1zM515 393h1v1h-1zM515 422h1v1h-1zM516 392h1v1h-1zM518 422h1v1h-1zM519 421h1v1h-1zM519 423h1v1h-1zM520 420h1v1h-1zM520 422h1v1h-1zM520 424h1v1h-1zM521 419h1v1h-1zM521 421h1v1h-1zM521 423h1v1h-1zM521 425h1v1h-1zM522 418h1v1h-1zM522 420h1v1h-1zM522 422h1v1h-1zM522 424h1v1h-1zM522 426h1v1h-1zM560 419h1v1h-1zM560 421h1v1h-1zM560 423h1v1h-1zM560 425h1v1h-1zM561 420h1v1h-1zM561 422h1v1h-1zM561 424h1v1h-1zM561 437h1v1h-1zM562 421h1v1h-1zM562 423h1v1h-1zM562 436h1v1h-1zM562 438h1v1h-1zM563 422h1v1h-1zM563 435h1v1h-1zM563 437h1v1h-1zM563 439h1v1h-1zM564 434h1v1h-1zM564 436h1v1h-1zM564 438h1v1h-1zM564 440h1v1h-1zM565 433h1v1h-1zM565 435h1v1h-1zM565 437h1v1h-1zM565 439h1v1h-1zM565 441h1v1h-1zM566 392h1v1h-1zM567 391h1v1h-1zM567 393h1v1h-1zM568 390h1v1h-1zM568 392h1v1h-1zM568 394h1v1h-1zM569 389h1v1h-1zM569 391h1v1h-1zM569 393h1v1h-1zM569 395h1v1h-1zM570 388h1v1h-1zM570 390h1v1h-1zM570 392h1v1h-1zM570 394h1v1h-1zM570 396h1v1h-1zM571 389h1v1h-1zM571 391h1v1h-1zM571 393h1v1h-1zM571 395h1v1h-1zM572 388h1v1h-1zM572 390h1v1h-1zM572 392h1v1h-1zM572 394h1v1h-1zM572 396h1v1h-1zM573 389h1v1h-1zM573 391h1v1h-1zM573 393h1v1h-1zM573 395h1v1h-1zM574 390h1v1h-1zM574 392h1v1h-1zM574 394h1v1h-1zM575 391h1v1h-1zM575 393h1v1h-1zM576 392h1v1h-1zM584 450h1v1h-1zM584 452h1v1h-1zM584 454h1v1h-1zM585 451h1v1h-1zM585 453h1v1h-1zM586 452h1v1h-1zM606 377h1v1h-1zM607 376h1v1h-1zM607 378h1v1h-1zM608 375h1v1h-1zM608 377h1v1h-1zM608 379h1v1h-1zM609 374h1v1h-1zM609 376h1v1h-1zM609 378h1v1h-1zM609 380h1v1h-1zM610 373h1v1h-1zM610 375h1v1h-1zM610 377h1v1h-1zM610 379h1v1h-1zM610 381h1v1h-1zM619 388h1v1h-1zM619 390h1v1h-1zM619 392h1v1h-1zM619 394h1v1h-1zM619 396h1v1h-1zM620 389h1v1h-1zM620 391h1v1h-1zM620 393h1v1h-1zM620 395h1v1h-1zM621 390h1v1h-1zM621 392h1v1h-1zM621 394h1v1h-1zM622 391h1v1h-1zM622 393h1v1h-1zM623 392h1v1h-1zM652 418h1v1h-1zM652 420h1v1h-1zM652 422h1v1h-1zM652 424h1v1h-1zM652 426h1v1h-1zM653 419h1v1h-1zM653 421h1v1h-1zM653 423h1v1h-1zM653 425h1v1h-1zM654 420h1v1h-1zM654 422h1v1h-1zM654 424h1v1h-1zM655 421h1v1h-1zM655 423h1v1h-1zM656 422h1v1h-1zM668 358h1v1h-1zM668 360h1v1h-1zM668 362h1v1h-1zM668 364h1v1h-1zM668 366h1v1h-1zM668 373h1v1h-1zM668 375h1v1h-1zM668 377h1v1h-1zM668 379h1v1h-1zM668 381h1v1h-1zM669 359h1v1h-1zM669 361h1v1h-1zM669 363h1v1h-1zM669 365h1v1h-1zM669 374h1v1h-1zM669 376h1v1h-1zM669 378h1v1h-1zM669 380h1v1h-1zM670 360h1v1h-1zM670 362h1v1h-1zM670 364h1v1h-1zM670 375h1v1h-1zM670 377h1v1h-1zM670 379h1v1h-1zM671 361h1v1h-1zM671 363h1v1h-1zM671 376h1v1h-1zM671 378h1v1h-1zM672 362h1v1h-1zM672 377h1v1h-1zM703 388h1v1h-1zM703 390h1v1h-1zM703 392h1v1h-1zM703 394h1v1h-1zM703 396h1v1h-1zM704 374h1v1h-1zM704 376h1v1h-1zM704 378h1v1h-1zM704 380h1v1h-1zM704 389h1v1h-1zM704 391h1v1h-1zM704 393h1v1h-1zM704 395h1v1h-1zM705 375h1v1h-1zM705 377h1v1h-1zM705 379h1v1h-1zM705 390h1v1h-1zM705 392h1v1h-1zM705 394h1v1h-1zM706 376h1v1h-1zM706 378h1v1h-1zM706 391h1v1h-1zM706 393h1v1h-1zM707 377h1v1h-1zM707 392h1v1h-1zM731 418h1v1h-1zM731 420h1v1h-1zM731 422h1v1h-1zM731 424h1v1h-1zM731 426h1v1h-1zM732 419h1v1h-1zM732 421h1v1h-1zM732 423h1v1h-1zM732 425h1v1h-1zM733 420h1v1h-1zM733 422h1v1h-1zM733 424h1v1h-1zM734 421h1v1h-1zM734 423h1v1h-1zM735 422h1v1h-1zM739 377h1v1h-1zM740 376h1v1h-1zM740 378h1v1h-1zM741 375h1v1h-1zM741 377h1v1h-1zM741 379h1v1h-1zM742 374h1v1h-1zM742 376h1v1h-1zM742 378h1v1h-1zM742 380h1v1h-1zM743 373h1v1h-1zM743 375h1v1h-1zM743 377h1v1h-1zM743 379h1v1h-1zM743 381h1v1h-1zM744 374h1v1h-1zM744 376h1v1h-1zM744 378h1v1h-1zM744 380h1v1h-1zM745 375h1v1h-1zM745 377h1v1h-1zM745 379h1v1h-1zM746 376h1v1h-1zM746 378h1v1h-1zM747 377h1v1h-1zM756 509h1v1h-1zM756 511h1v1h-1zM756 513h1v1h-1zM756 515h1v1h-1zM757 510h1v1h-1zM757 512h1v1h-1zM757 514h1v1h-1zM758 511h1v1h-1zM758 513h1v1h-1zM759 512h1v1h-1z" fill="#5c5c5c"/>
<rect x="140" y="568" width="640" height="9" fill="#ffffff"/>
<rect x="140" y="568" width="2" height="9" fill="#666666"/>
<rect x="146" y="568" width="2" height="9" fill="#666666"/>
<rect x="148" y="568" width="1" height="9" fill="#ff0000"/>
<rect x="149" y="568" width="2" height="9" fill="#666666"/>
<rect x="152" y="568" width="2" height="9" fill="#666666"/>
<rect x="156" y="568" width="2" height="9" fill="#666666"/>
<rect x="159" y="568" width="2" height="9" fill="#666666"/>
<rect x="165" y="568" width="2" height="9" fill="#666666"/>
<rect x="168" y="568" width="3" height="9" fill="#666666"/>
<rect x="172" y="568" width="1" height="9" fill="#666666"/>
<rect x="173" y="568" width="2" height="9" fill="#ff0000"/>
<rect x="180" y="568" width="4" height="9" fill="#666666"/>
<rect x="185" y="568" width="1" height="9" fill="#666666"/>
<rect x="190" y="568" width="1" height="9" fill="#ff0000"/>
<rect x="191" y="568" width="2" height="9" fill="#666666"/>
<rect x="195" y="568" width="2" height="9" fill="#666666"/>
<rect x="204" y="568" width="2" height="9" fill="#666666"/>
<rect x="206" y="568" width="2" height="9" fill="#ff0000"/>
<rect x="210" y="568" width="3" height="9" fill="#666666"/>
<rect x="213" y="568" width="2" height="9" fill="#ff0000"/>
<rect x="223" y="568" width="1" height="9" fill="#666666"/>
<rect x="231" y="568" width="3" height="9" fill="#666666"/>
<rect x="234" y="568" width="5" height="9" fill="#ff0000"/>
<rect x="240" y="568" width="1" height="9" fill="#666666"/>
<rect x="243" y="568" width="1" height="9" fill="#666666"/>
<rect x="247" y="568" width="2" height="9" fill="#666666"/>
<rect x="250" y="568" width="3" height="9" fill="#666666"/>
<rect x="254" y="568" width="6" height="9" fill="#666666"/>
<rect x="264" y="568" width="2" height="9" fill="#666666"/>
<rect x="266" y="568" width="2" height="9" fill="#ff0000"/>
<rect x="268" y="568" width="2" height="9" fill="#666666"/>
<rect x="270" y="568" width="1" height="9" fill="#ff0000"/>
<rect x="272" y="568" width="2" height="9" fill="#666666"/>
<rect x="276" y="568" width="2" height="9" fill="#ff0000"/>
<rect x="281" y="568" width="2" height="9" fill="#666666"/>
<rect x="286" y="568" width="2" height="9" fill="#ff0000"/>
<rect x="290" y="568" width="2" height="9" fill="#666666"/>
<rect x="293" y="568" width="3" height="9" fill="#ff0000"/>
<rect x="299" y="568" width="2" height="9" fill="#ff0000"/>
<rect x="302" y="568" width="1" height="9" fill="#666666"/>
<rect x="303" y="568" width="2" height="9" fill="#666666"/>
<rect x="306" y="568" width="3" height="9" fill="#666666"/>
<rect x="310" y="568" width="2" height="9" fill="#666666"/>
<rect x="313" y="568" width="2" height="9" fill="#666666"/>
<rect x="316" y="568" width="3" height="9" fill="#666666"/>
<rect x="321" y="568" width="1" height="9" fill="#666666"/>
<rect x="323" y="568" width="3" height="9" fill="#666666"/>
<rect x="328" y="568" width="2" height="9" fill="#666666"/>
<rect x="330" y="568" width="1" height="9" fill="#ff0000"/>
<rect x="332" y="568" width="1" height="9" fill="#666666"/>
<rect x="335" y="568" width="1" height="9" fill="#666666"/>
<rect x="337" y="568" width="2" height="9" fill="#666666"/>
<rect x="341" y="568" width="2" height="9" fill="#666666"/>
<rect x="345" y="568" width="1" height="9" fill="#666666"/>
<rect x="348" y="568" width="1" height="9" fill="#666666"/>
<rect x="353" y="568" width="1" height="9" fill="#666666"/>
<rect x="357" y="568" width="2" height="9" fill="#ff0000"/>
<rect x="362" y="568" width="1" height="9" fill="#666666"/>
<rect x="366" y="568" width="2" height="9" fill="#ff0000"/>
<rect x="370" y="568" width="1" height="9" fill="#666666"/>
<rect x="373" y="568" width="1" height="9" fill="#666666"/>
<rect x="379" y="568" width="2" height="9" fill="#666666"/>
<rect x="381" y="568" width="1" height="9" fill="#666666"/>
<rect x="383" y="568" width="1" height="9" fill="#ff0000"/>
<rect x="385" y="568" width="2" height="9" fill="#666666"/>
<rect x="388" y="568" width="1" height="9" fill="#666666"/>
<rect x="392" y="568" width="1" height="9" fill="#666666"/>
<rect x="397" y="568" width="1" height="9" fill="#666666"/>
<rect x="405" y="568" width="2" height="9" fill="#666666"/>
<rect x="408" y="568" width="2" height="9" fill="#ff0000"/>
<rect x="411" y="568" width="1" height="9" fill="#ff0000"/>
<rect x="413" y="568" width="2" height="9" fill="#ff0000"/>
<rect x="415" y="568" width="1" height="9" fill="#ff0000"/>
<rect x="417" y="568" width="1" height="9" fill="#666666"/>
<rect x="419" y="568" width="1" height="9" fill="#666666"/>
<rect x="423" y="568" width="2" height="9" fill="#666666"/>
<rect x="426" y="568" width="1" height="9" fill="#666666"/>
<rect x="433" y="568" width="1" height="9" fill="#666666"/>
<rect x="435" y="568" width="1" height="9" fill="#666666"/>
<rect x="438" y="568" width="1" height="9" fill="#666666"/>
<rect x="440" y="568" width="1" height="9" fill="#666666"/>
<rect x="442" y="568" width="1" height="9" fill="#666666"/>
<rect x="448" y="568" width="1" height="9" fill="#666666"/>
<rect x="454" y="568" width="1" height="9" fill="#ff0000"/>
<rect x="459" y="568" width="1" height="9" fill="#666666"/>
<rect x="461" y="568" width="1" height="9" fill="#666666"/>
<rect x="468" y="568" width="1" height="9" fill="#ff0000"/>
<rect x="470" y="568" width="1" height="9" fill="#ff0000"/>
<rect x="475" y="568" width="1" height="9" fill="#666666"/>
<rect x="481" y="568" width="1" height="9" fill="#666666"/>
<rect x="482" y="568" width="1" height="9" fill="#666666"/>
<rect x="484" y="568" width="1" height="9" fill="#ff0000"/>
<rect x="492" y="568" width="2" height="9" fill="#666666"/>
<rect x="500" y="568" width="1" height="9" fill="#0000ff"/>
<rect x="502" y="568" width="2" height="9" fill="#666666"/>
<rect x="505" y="568" width="2" height="9" fill="#666666"/>
<rect x="509" y="568" width="1" height="9" fill="#ff0000"/>
<rect x="516" y="568" width="1" height="9" fill="#666666"/>
<rect x="519" y="568" width="1" height="9" fill="#666666"/>
<rect x="520" y="568" width="1" height="9" fill="#666666"/>
<rect x="523" y="568" width="2" height="9" fill="#666666"/>
<rect x="525" y="568" width="2" height="9" fill="#666666"/>
<rect x="533" y="568" width="1" height="9" fill="#666666"/>
<rect x="535" y="568" width="2" height="9" fill="#666666"/>
<rect x="541" y="568" width="1" height="9" fill="#ff0000"/>
<rect x="545" y="568" width="1" height="9" fill="#666666"/>
<rect x="550" y="568" width="1" height="9" fill="#666666"/>
<rect x="551" y="568" width="1" height="9" fill="#666666"/>
<rect x="555" y="568" width="1" height="9" fill="#666666"/>
<rect x="559" y="568" width="1" height="9" fill="#666666"/>
<rect x="563" y="568" width="2" height="9" fill="#666666"/>
<rect x="567" y="568" width="2" height="9" fill="#666666"/>
<rect x="570" y="568" width="2" height="9" fill="#ff0000"/>
<rect x="572" y="568" width="1" height="9" fill="#666666"/>
<rect x="574" y="568" width="2" height="9" fill="#666666"/>
<rect x="578" y="568" width="2" height="9" fill="#ff0000"/>
<rect x="585" y="568" width="1" height="9" fill="#666666"/>
<rect x="587" y="568" width="1" height="9" fill="#666666"/>
<rect x="589" y="568" width="2" height="9" fill="#00a000"/>
<rect x="592" y="568" width="2" height="9" fill="#666666"/>
<rect x="595" y="568" width="2" height="9" fill="#666666"/>
<rect x="597" y="568" width="2" height="9" fill="#666666"/>
<rect x="600" y="568" width="1" height="9" fill="#666666"/>
<rect x="601" y="568" width="1" height="9" fill="#666666"/>
<rect x="606" y="568" width="1" height="9" fill="#666666"/>
<rect x="607" y="568" width="4" height="9" fill="#ff0000"/>
<rect x="611" y="568" width="2" height="9" fill="#666666"/>
<rect x="613" y="568" width="6" height="9" fill="#ff0000"/>
<rect x="622" y="568" width="1" height="9" fill="#666666"/>
<rect x="624" y="568" width="2" height="9" fill="#666666"/>
<rect x="627" y="568" width="1" height="9" fill="#666666"/>
<rect x="629" y="568" width="1" height="9" fill="#666666"/>
<rect x="630" y="568" width="1" height="9" fill="#ff0000"/>
<rect x="631" y="568" width="1" height="9" fill="#666666"/>
<rect x="636" y="568" width="2" height="9" fill="#666666"/>
<rect x="639" y="568" width="1" height="9" fill="#666666"/>
<rect x="641" y="568" width="2" height="9" fill="#666666"/>
<rect x="644" y="568" width="1" height="9" fill="#666666"/>
<rect x="646" y="568" width="2" height="9" fill="#666666"/>
<rect x="650" y="568" width="1" height="9" fill="#666666"/>
<rect x="659" y="568" width="2" height="9" fill="#666666"/>
<rect x="662" y="568" width="1" height="9" fill="#ff0000"/>
<rect x="664" y="568" width="3" height="9" fill="#666666"/>
<rect x="668" y="568" width="1" height="9" fill="#ff0000"/>
<rect x="670" y="568" width="6" height="9" fill="#666666"/>
<rect x="677" y="568" width="7" height="9" fill="#666666"/>
<rect x="685" y="568" width="4" height="9" fill="#ff0000"/>
<rect x="693" y="568" width="2" height="9" fill="#666666"/>
<rect x="695" y="568" width="1" height="9" fill="#ff0000"/>
<rect x="697" y="568" width="2" height="9" fill="#666666"/>
<rect x="701" y="568" width="2" height="9" fill="#ff0000"/>
<rect x="703" y="568" width="2" height="9" fill="#666666"/>
<rect x="706" y="568" width="6" height="9" fill="#ff0000"/>
<rect x="712" y="568" width="1" height="9" fill="#666666"/>
<rect x="713" y="568" width="5" height="9" fill="#ff0000"/>
<rect x="718" y="568" width="3" height="9" fill="#666666"/>
<rect x="722" y="568" width="2" height="9" fill="#666666"/>
<rect x="725" y="568" width="2" height="9" fill="#666666"/>
<rect x="728" y="568" width="7" height="9" fill="#666666"/>
<rect x="737" y="568" width="2" height="9" fill="#ff0000"/>
<rect x="740" y="568" width="2" height="9" fill="#ff0000"/>
<rect x="743" y="568" width="1" height="9" fill="#ff0000"/>
<rect x="745" y="568" width="1" height="9" fill="#666666"/>
<rect x="748" y="568" width="2" height="9" fill="#ff0000"/>
<rect x="751" y="568" width="2" height="9" fill="#ff0000"/>
<rect x="754" y="568" width="3" height="9" fill="#ff0000"/>
<rect x="758" y="568" width="3" height="9" fill="#ff0000"/>
<rect x="764" y="568" width="6" height="9" fill="#666666"/>
<rect x="770" y="568" width="3" height="9" fill="#ff0000"/>
<rect x="774" y="568" width="2" height="9" fill="#ff0000"/>
<rect x="777" y="568" width="2" height="9" fill="#ff0000"/>
<rect x="140" y="583" width="640" height="9" fill="#006400"/>
<rect x="140" y="595" width="640" height="1" fill="#000"/>
<rect x="144" y="595" width="1" height="3" fill="#000"/>
<rect x="156" y="595" width="1" height="3" fill="#000"/>
<rect x="168" y="595" width="1" height="3" fill="#000"/>
<rect x="179" y="595" width="1" height="10" fill="#000"/>
<rect x="191" y="595" width="1" height="3" fill="#000"/>
<rect x="203" y="595" width="1" height="3" fill="#000"/>
<rect x="215" y="595" width="1" height="3" fill="#000"/>
<rect x="226" y="595" width="1" height="3" fill="#000"/>
<rect x="238" y="595" width="1" height="10" fill="#000"/>
<rect x="250" y="595" width="1" height="3" fill="#000"/>
<rect x="261" y="595" width="1" height="3" fill="#000"/>
<rect x="273" y="595" width="1" height="3" fill="#000"/>
<rect x="285" y="595" width="1" height="3" fill="#000"/>
<rect x="297" y="595" width="1" height="10" fill="#000"/>
<rect x="308" y="595" width="1" height="3" fill="#000"/>
<rect x="320" y="595" width="1" height="3" fill="#000"/>
<rect x="332" y="595" width="1" height="3" fill="#000"/>
<rect x="343" y="595" width="1" height="3" fill="#000"/>
<rect x="355" y="595" width="1" height="10" fill="#000"/>
<rect x="367" y="595" width="1" height="3" fill="#000"/>
<rect x="379" y="595" width="1" height="3" fill="#000"/>
<rect x="390" y="595" width="1" height="3" fill="#000"/>
<rect x="402" y="595" width="1" height="3" fill="#000"/>
<rect x="414" y="595" width="1" height="10" fill="#000"/>
<rect x="425" y="595" width="1" height="3" fill="#000"/>
<rect x="437" y="595" width="1" height="3" fill="#000"/>
<rect x="449" y="595" width="1" height="3" fill="#000"/>
<rect x="461" y="595" width="1" height="3" fill="#000"/>
<rect x="472" y="595" width="1" height="10" fill="#000"/>
<rect x="484" y="595" width="1" height="3" fill="#000"/>
<rect x="496" y="595" width="1" height="3" fill="#000"/>
<rect x="507" y="595" width="1" height="3" fill="#000"/>
<rect x="519" y="595" width="1" height="3" fill="#000"/>
<rect x="531" y="595" width="1" height="10" fill="#000"/>
<rect x="543" y="595" width="1" height="3" fill="#000"/>
<rect x="554" y="595" width="1" height="3" fill="#000"/>
<rect x="566" y="595" width="1" height="3" fill="#000"/>
<rect x="578" y="595" width="1" height="3" fill="#000"/>
<rect x="589" y="595" width="1" height="10" fill="#000"/>
<rect x="601" y="595" width="1" height="3" fill="#000"/>
<rect x="613" y="595" width="1" height="3" fill="#000"/>
<rect x="625" y="595" width="1" height="3" fill="#000"/>
<rect x="636" y="595" width="1" height="3" fill="#000"/>
<rect x="648" y="595" width="1" height="10" fill="#000"/>
<rect x="660" y="595" width="1" height="3" fill="#000"/>
<rect x="672" y="595" width="1" height="3" fill="#000"/>
<rect x="683" y="595" width="1" height="3" fill="#000"/>
<rect x="695" y="595" width="1" height="3" fill="#000"/>
<rect x="707" y="595" width="1" height="10" fill="#000"/>
<rect x="718" y="595" width="1" height="3" fill="#000"/>
<rect x="730" y="595" width="1" height="3" fill="#000"/>
<rect x="742" y="595" width="1" height="3" fill="#000"/>
<rect x="754" y="595" width="1" height="3" fill="#000"/>
<rect x="765" y="595" width="1" height="10" fill="#000"/>
<rect x="777" y="595" width="1" height="3" fill="#000"/>
<rect x="140" y="628" width="9" height="9" fill="#ff8080"/>
<rect x="149" y="628" width="9" height="9" fill="#ffb0b0"/>
<rect x="158" y="628" width="3" height="9" fill="#ffb2b2"/>
<rect x="161" y="628" width="2" height="9" fill="#ffc8c8"/>
<rect x="163" y="628" width="3" height="9" fill="#ffb0b0"/>
<rect x="166" y="628" width="3" height="9" fill="#ffb3b3"/>
<rect x="169" y="628" width="9" height="9" fill="#ffb2b2"/>
<rect x="178" y="628" width="3" height="9" fill="#ffb0b0"/>
<rect x="181" y="628" width="3" height="9" fill="#ffc8c8"/>
<rect x="184" y="628" width="3" height="9" fill="#ffb1b1"/>
<rect x="187" y="628" width="6" height="9" fill="#ffb0b0"/>
<rect x="193" y="628" width="3" height="9" fill="#ffb2b2"/>
<rect x="196" y="628" width="3" height="9" fill="#ffb4b4"/>
<rect x="199" y="628" width="3" height="9" fill="#ff9797"/>
<rect x="202" y="628" width="3" height="9" fill="#ffb5b5"/>
<rect x="205" y="628" width="3" height="9" fill="#ffb0b0"/>
<rect x="208" y="628" width="5" height="9" fill="#ffc8c8"/>
<rect x="213" y="628" width="3" height="9" fill="#ffb0b0"/>
<rect x="216" y="628" width="3" height="9" fill="#ffb0b0"/>
<rect x="219" y="628" width="6" height="9" fill="#ffb2b2"/>
<rect x="225" y="628" width="3" height="9" fill="#ff9797"/>
<rect x="228" y="628" width="3" height="9" fill="#ffb5b5"/>
<rect x="231" y="628" width="6" height="9" fill="#ff9898"/>
<rect x="237" y="628" width="3" height="9" fill="#ff9898"/>
<rect x="240" y="628" width="9" height="9" fill="#ff9797"/>
<rect x="249" y="628" width="3" height="9" fill="#ffb4b4"/>
<rect x="252" y="628" width="2" height="9" fill="#ffb3b3"/>
<rect x="254" y="628" width="6" height="9" fill="#ffb4b4"/>
<rect x="260" y="628" width="3" height="9" fill="#ff8080"/>
<rect x="263" y="628" width="3" height="9" fill="#ff8383"/>
<rect x="266" y="628" width="3" height="9" fill="#ffb0b0"/>
<rect x="269" y="628" width="3" height="9" fill="#ffc8c8"/>
<rect x="272" y="628" width="9" height="9" fill="#ffb1b1"/>
<rect x="281" y="628" width="6" height="9" fill="#ff9696"/>
<rect x="287" y="628" width="3" height="9" fill="#ffc8c8"/>
<rect x="290" y="628" width="3" height="9" fill="#ffc8c8"/>
<rect x="293" y="628" width="8" height="9" fill="#ffb2b2"/>
<rect x="301" y="628" width="3" height="9" fill="#ff8282"/>
<rect x="304" y="628" width="3" height="9" fill="#ffb4b4"/>
<rect x="307" y="628" width="3" height="9" fill="#ff9898"/>
<rect x="310" y="628" width="3" height="9" fill="#ffb3b3"/>
<rect x="313" y="628" width="9" height="9" fill="#ffb3b3"/>
<rect x="322" y="628" width="3" height="9" fill="#ffb2b2"/>
<rect x="325" y="628" width="3" height="9" fill="#ffb1b1"/>
<rect x="328" y="628" width="3" height="9" fill="#ffb0b0"/>
<rect x="331" y="628" width="9" height="9" fill="#ffb4b4"/>
<rect x="340" y="628" width="3" height="9" fill="#ffb3b3"/>
<rect x="343" y="628" width="3" height="9" fill="#ffb0b0"/>
<rect x="346" y="628" width="2" height="9" fill="#ff9898"/>
<rect x="348" y="628" width="6" height="9" fill="#ffb5b5"/>
<rect x="354" y="628" width="3" height="9" fill="#ffb2b2"/>
<rect x="357" y="628" width="3" height="9" fill="#ffc8c8"/>
<rect x="360" y="628" width="9" height="9" fill="#ff8080"/>
<rect x="369" y="628" width="3" height="9" fill="#ffb0b0"/>
<rect x="372" y="628" width="9" height="9" fill="#ff8080"/>
<rect x="381" y="628" width="3" height="9" fill="#ffc7c7"/>
<rect x="384" y="628" width="8" height="9" fill="#ffc8c8"/>
<rect x="392" y="628" width="3" height="9" fill="#ff8282"/>
<rect x="395" y="628" width="6" height="9" fill="#ff9393"/>
<rect x="401" y="628" width="3" height="9" fill="#ff9393"/>
<rect x="404" y="628" width="6" height="9" fill="#ffc8c8"/>
<rect x="410" y="628" width="3" height="9" fill="#ff8080"/>
<rect x="413" y="628" width="3" height="9" fill="#ff8080"/>
<rect x="416" y="628" width="6" height="9" fill="#ffb5b5"/>
<rect x="422" y="628" width="3" height="9" fill="#ffc7c7"/>
<rect x="425" y="628" width="3" height="9" fill="#ff8080"/>
<rect x="428" y="628" width="6" height="9" fill="#ff8080"/>
<rect x="434" y="628" width="8" height="9" fill="#ffb0b0"/>
<rect x="442" y="628" width="3" height="9" fill="#ffb2b2"/>
<rect x="445" y="628" width="3" height="9" fill="#ffb3b3"/>
<rect x="448" y="628" width="3" height="9" fill="#ff8282"/>
<rect x="451" y="628" width="9" height="9" fill="#ffb5b5"/>
<rect x="460" y="628" width="3" height="9" fill="#ffb2b2"/>
<rect x="463" y="628" width="3" height="9" fill="#ff9797"/>
<rect x="466" y="628" width="9" height="9" fill="#ffb4b4"/>
<rect x="475" y="628" width="6" height="9" fill="#ffb4b4"/>
<rect x="481" y="628" width="5" height="9" fill="#ff9494"/>
<rect x="486" y="628" width="3" height="9" fill="#ff8181"/>
<rect x="489" y="628" width="6" height="9" fill="#ffb5b5"/>
<rect x="495" y="628" width="6" height="9" fill="#ff9494"/>
<rect x="501" y="628" width="3" height="9" fill="#ff8181"/>
<rect x="504" y="628" width="3" height="9" fill="#ffb3b3"/>
<rect x="507" y="628" width="3" height="9" fill="#ff9696"/>
<rect x="510" y="628" width="9" height="9" fill="#ffb1b1"/>
<rect x="519" y="628" width="9" height="9" fill="#ffb1b1"/>
<rect x="528" y="628" width="2" height="9" fill="#ff8383"/>
<rect x="530" y="628" width="3" height="9" fill="#ffb3b3"/>
<rect x="533" y="628" width="3" height="9" fill="#ffb3b3"/>
<rect x="536" y="628" width="3" height="9" fill="#ffc6c6"/>
<rect x="539" y="628" width="3" height="9" fill="#ff9494"/>
<rect x="542" y="628" width="3" height="9" fill="#ffb2b2"/>
<rect x="545" y="628" width="6" height="9" fill="#ff8080"/>
<rect x="551" y="628" width="3" height="9" fill="#ff9797"/>
<rect x="554" y="628" width="3" height="9" fill="#ff9595"/>
<rect x="557" y="628" width="3" height="9" fill="#ffb4b4"/>
<rect x="560" y="628" width="6" height="9" fill="#ffb0b0"/>
<rect x="566" y="628" width="3" height="9" fill="#ffb1b1"/>
<rect x="569" y="628" width="3" height="9" fill="#ffc6c6"/>
<rect x="572" y="628" width="5" height="9" fill="#ffb3b3"/>
<rect x="577" y="628" width="3" height="9" fill="#ffb2b2"/>
<rect x="580" y="628" width="6" height="9" fill="#ffb2b2"/>
<rect x="586" y="628" width="3" height="9" fill="#ffc6c6"/>
<rect x="589" y="628" width="3" height="9" fill="#ffb0b0"/>
<rect x="592" y="628" width="3" height="9" fill="#ff8080"/>
<rect x="595" y="628" width="6" height="9" fill="#ffb1b1"/>
<rect x="601" y="628" width="3" height="9" fill="#ffb5b5"/>
<rect x="604" y="628" width="9" height="9" fill="#ffb3b3"/>
<rect x="613" y="628" width="3" height="9" fill="#ffb5b5"/>
<rect x="616" y="628" width="3" height="9" fill="#ffb5b5"/>
<rect x="619" y="628" width="5" height="9" fill="#ffb0b0"/>
<rect x="624" y="628" width="9" height="9" fill="#ffb2b2"/>
<rect x="633" y="628" width="9" height="9" fill="#ff8080"/>
<rect x="642" y="628" width="3" height="9" fill="#ff8080"/>
<rect x="645" y="628" width="3" height="9" fill="#ff8080"/>
<rect x="648" y="628" width="3" height="9" fill="#ff9797"/>
<rect x="651" y="628" width="3" height="9" fill="#ff9a9a"/>
<rect x="654" y="628" width="3" height="9" fill="#ff9b9b"/>
<rect x="657" y="628" width="3" height="9" fill="#ff9b9b"/>
<rect x="660" y="628" width="3" height="9" fill="#ff9999"/>
<rect x="663" y="628" width="3" height="9" fill="#ff9c9c"/>
<rect x="666" y="628" width="5" height="9" fill="#ffbdbd"/>
<rect x="671" y="628" width="3" height="9" fill="#ffbebe"/>
<rect x="674" y="628" width="3" height="9" fill="#ffa8a8"/>
<rect x="677" y="628" width="6" height="9" fill="#ffbebe"/>
<rect x="683" y="628" width="3" height="9" fill="#ffbdbd"/>
<rect x="686" y="628" width="9" height="9" fill="#ffbfbf"/>
<rect x="695" y="628" width="6" height="9" fill="#ffbdbd"/>
<rect x="701" y="628" width="3" height="9" fill="#ffb0b0"/>
<rect x="704" y="628" width="3" height="9" fill="#ffbfbf"/>
<rect x="707" y="628" width="3" height="9" fill="#ffbfbf"/>
<rect x="710" y="628" width="8" height="9" fill="#ffbebe"/>
<rect x="718" y="628" width="3" height="9" fill="#ffa7a7"/>
<rect x="721" y="628" width="3" height="9" fill="#ffb0b0"/>
<rect x="724" y="628" width="3" height="9" fill="#ffbfbf"/>
<rect x="727" y="628" width="3" height="9" fill="#ffbdbd"/>
<rect x="730" y="628" width="3" height="9" fill="#ffbdbd"/>
<rect x="733" y="628" width="3" height="9" fill="#ffbebe"/>
<rect x="736" y="628" width="6" height="9" fill="#ffa8a8"/>
<rect x="742" y="628" width="6" height="9" fill="#ffa8a8"/>
<rect x="748" y="628" width="3" height="9" fill="#ffa9a9"/>
<rect x="751" y="628" width="3" height="9" fill="#ffbfbf"/>
<rect x="754" y="628" width="5" height="9" fill="#ffc7c7"/>
<rect x="759" y="628" width="6" height="9" fill="#ffbebe"/>
<rect x="765" y="628" width="3" height="9" fill="#ffbebe"/>
<rect x="768" y="628" width="3" height="9" fill="#ffc8c8"/>
<rect x="771" y="628" width="6" height="9" fill="#ffa6a6"/>
<rect x="777" y="628" width="3" height="9" fill="#ffb1b1"/>
<rect x="692" y="643" width="88" height="9" fill="#ffffff"/>
<rect x="692" y="643" width="1" height="9" fill="#ffb4b4"/>
<rect x="692" y="656" width="1" height="14" fill="#1010ff"/>
<rect x="140" y="643" width="9" height="9" fill="#ff6565"/>
<rect x="149" y="643" width="6" height="9" fill="#ff6969"/>
<rect x="155" y="643" width="6" height="9" fill="#ff4d4d"/>
<rect x="161" y="643" width="8" height="9" fill="#ff4d4d"/>
<rect x="169" y="643" width="3" height="9" fill="#ff5252"/>
<rect x="172" y="643" width="9" height="9" fill="#ff5050"/>
<rect x="181" y="643" width="3" height="9" fill="#ff8484"/>
<rect x="184" y="643" width="3" height="9" fill="#ff4c4c"/>
<rect x="187" y="643" width="6" height="9" fill="#ff5252"/>
<rect x="193" y="643" width="3" height="9" fill="#ff4d4d"/>
<rect x="196" y="643" width="3" height="9" fill="#ff8282"/>
<rect x="199" y="643" width="9" height="9" fill="#ff8787"/>
<rect x="208" y="643" width="2" height="9" fill="#ff4b4b"/>
<rect x="210" y="643" width="3" height="9" fill="#ff1c1c"/>
<rect x="213" y="643" width="3" height="9" fill="#ff5252"/>
<rect x="216" y="643" width="6" height="9" fill="#ff4f4f"/>
<rect x="222" y="643" width="6" height="9" fill="#ff4d4d"/>
<rect x="228" y="643" width="3" height="9" fill="#ff1c1c"/>
<rect x="231" y="643" width="3" height="9" fill="#ff5050"/>
<rect x="234" y="643" width="6" height="9" fill="#ff5252"/>
<rect x="240" y="643" width="3" height="9" fill="#ff5050"/>
<rect x="243" y="643" width="3" height="9" fill="#ff8484"/>
<rect x="246" y="643" width="6" height="9" fill="#ff8b8b"/>
<rect x="252" y="643" width="5" height="9" fill="#ff8989"/>
<rect x="257" y="643" width="3" height="9" fill="#ff5151"/>
<rect x="260" y="643" width="3" height="9" fill="#ff5353"/>
<rect x="263" y="643" width="3" height="9" fill="#ff4d4d"/>
<rect x="266" y="643" width="3" height="9" fill="#ff5050"/>
<rect x="269" y="643" width="6" height="9" fill="#ff4f4f"/>
<rect x="275" y="643" width="9" height="9" fill="#ff6060"/>
<rect x="284" y="643" width="9" height="9" fill="#ff1d1d"/>
<rect x="293" y="643" width="3" height="9" fill="#ff5151"/>
<rect x="296" y="643" width="3" height="9" fill="#ff1c1c"/>
<rect x="299" y="643" width="5" height="9" fill="#ff6262"/>
<rect x="304" y="643" width="3" height="9" fill="#ff6868"/>
<rect x="307" y="643" width="6" height="9" fill="#ff1c1c"/>
<rect x="313" y="643" width="3" height="9" fill="#ff1c1c"/>
<rect x="316" y="643" width="3" height="9" fill="#ff5151"/>
<rect x="319" y="643" width="9" height="9" fill="#ff5050"/>
<rect x="328" y="643" width="9" height="9" fill="#ff1f1f"/>
<rect x="337" y="643" width="3" height="9" fill="#ff5252"/>
<rect x="340" y="643" width="6" height="9" fill="#ff1c1c"/>
<rect x="346" y="643" width="8" height="9" fill="#ff5151"/>
<rect x="354" y="643" width="3" height="9" fill="#ff5353"/>
<rect x="357" y="643" width="3" height="9" fill="#ff5252"/>
<rect x="360" y="643" width="3" height="9" fill="#ff5151"/>
<rect x="363" y="643" width="6" height="9" fill="#ff5252"/>
<rect x="369" y="643" width="3" height="9" fill="#ff4f4f"/>
<rect x="372" y="643" width="3" height="9" fill="#ff1c1c"/>
<rect x="375" y="643" width="6" height="9" fill="#ff1c1c"/>
<rect x="381" y="643" width="6" height="9" fill="#ff5353"/>
<rect x="387" y="643" width="3" height="9" fill="#ff1c1c"/>
<rect x="390" y="643" width="2" height="9" fill="#ff1c1c"/>
<rect x="392" y="643" width="6" height="9" fill="#ff4d4d"/>
<rect x="398" y="643" width="3" height="9" fill="#ff4b4b"/>
<rect x="401" y="643" width="9" height="9" fill="#ff5252"/>
<rect x="410" y="643" width="6" height="9" fill="#ff5252"/>
<rect x="416" y="643" width="6" height="9" fill="#ff4d4d"/>
<rect x="422" y="643" width="3" height="9" fill="#ff4c4c"/>
<rect x="425" y="643" width="3" height="9" fill="#ff4c4c"/>
<rect x="428" y="643" width="6" height="9" fill="#ff5353"/>
<rect x="434" y="643" width="8" height="9" fill="#ff4f4f"/>
<rect x="442" y="643" width="3" height="9" fill="#ff5050"/>
<rect x="445" y="643" width="3" height="9" fill="#ff2020"/>
<rect x="448" y="643" width="3" height="9" fill="#ff8888"/>
<rect x="451" y="643" width="3" height="9" fill="#ff1c1c"/>
<rect x="454" y="643" width="3" height="9" fill="#ff6161"/>
<rect x="457" y="643" width="6" height="9" fill="#ff6565"/>
<rect x="463" y="643" width="3" height="9" fill="#ff4c4c"/>
<rect x="466" y="643" width="3" height="9" fill="#ff1e1e"/>
<rect x="469" y="643" width="6" height="9" fill="#ff4f4f"/>
<rect x="475" y="643" width="3" height="9" fill="#ff1c1c"/>
<rect x="478" y="643" width="3" height="9" fill="#ff4c4c"/>
<rect x="481" y="643" width="5" height="9" fill="#ff4b4b"/>
<rect x="486" y="643" width="3" height="9" fill="#ff6565"/>
<rect x="489" y="643" width="3" height="9" fill="#ff6969"/>
<rect x="492" y="643" width="6" height="9" fill="#ff4a4a"/>
<rect x="498" y="643" width="3" height="9" fill="#ff4b4b"/>
<rect x="501" y="643" width="6" height="9" fill="#ff6767"/>
<rect x="507" y="643" width="3" height="9" fill="#ff1c1c"/>
<rect x="510" y="643" width="6" height="9" fill="#ff4d4d"/>
<rect x="516" y="643" width="3" height="9" fill="#ff4c4c"/>
<rect x="519" y="643" width="9" height="9" fill="#ff4f4f"/>
<rect x="528" y="643" width="2" height="9" fill="#ff6767"/>
<rect x="530" y="643" width="3" height="9" fill="#ff8888"/>
<rect x="533" y="643" width="3" height="9" fill="#ff1c1c"/>
<rect x="536" y="643" width="6" height="9" fill="#ff1c1c"/>
<rect x="542" y="643" width="3" height="9" fill="#ff1e1e"/>
<rect x="545" y="643" width="3" height="9" fill="#ff4b4b"/>
<rect x="548" y="643" width="3" height="9" fill="#ff8484"/>
<rect x="551" y="643" width="3" height="9" fill="#ff6363"/>
<rect x="554" y="643" width="3" height="9" fill="#ff1c1c"/>
<rect x="557" y="643" width="3" height="9" fill="#ff5353"/>
<rect x="560" y="643" width="3" height="9" fill="#ff4e4e"/>
<rect x="563" y="643" width="3" height="9" fill="#ff4e4e"/>
<rect x="566" y="643" width="3" height="9" fill="#ff4e4e"/>
<rect x="569" y="643" width="3" height="9" fill="#ff4d4d"/>
<rect x="572" y="643" width="5" height="9" fill="#ff1c1c"/>
<rect x="577" y="643" width="3" height="9" fill="#ff5050"/>
<rect x="580" y="643" width="3" height="9" fill="#ff4b4b"/>
<rect x="583" y="643" width="3" height="9" fill="#ff1c1c"/>
<rect x="586" y="643" width="6" height="9" fill="#ff4a4a"/>
<rect x="592" y="643" width="6" height="9" fill="#ff4b4b"/>
<rect x="598" y="643" width="3" height="9" fill="#ff5151"/>
<rect x="601" y="643" width="6" height="9" fill="#ff8a8a"/>
<rect x="607" y="643" width="3" height="9" fill="#ff2020"/>
<rect x="610" y="643" width="3" height="9" fill="#ff4e4e"/>
<rect x="613" y="643" width="8" height="9" fill="#ff4f4f"/>
<rect x="621" y="643" width="6" height="9" fill="#ff4e4e"/>
<rect x="627" y="643" width="6" height="9" fill="#ff4f4f"/>
<rect x="633" y="643" width="6" height="9" fill="#ff1c1c"/>
<rect x="639" y="643" width="6" height="9" fill="#ff6868"/>
<rect x="645" y="643" width="9" height="9" fill="#ff4d4d"/>
<rect x="654" y="643" width="3" height="9" fill="#ff6868"/>
<rect x="657" y="643" width="6" height="9" fill="#ff4b4b"/>
<rect x="663" y="643" width="5" height="9" fill="#ff4f4f"/>
<rect x="668" y="643" width="9" height="9" fill="#ff4b4b"/>
<rect x="677" y="643" width="6" height="9" fill="#ff8c8c"/>
<rect x="683" y="643" width="3" height="9" fill="#ff8c8c"/>
<rect x="686" y="643" width="9" height="9" fill="#ff8c8c"/>
<rect x="703" y="643" width="7" height="9" fill="#ffc0c0"/>
<rect x="715" y="643" width="7" height="9" fill="#ffc0c0"/>
<rect x="727" y="643" width="4" height="9" fill="#ffc0c0"/>
<rect x="744" y="643" width="4" height="9" fill="#ffc0c0"/>
<rect x="759" y="643" width="4" height="9" fill="#ffc0c0"/>
<rect x="140" y="688" width="3" height="9" fill="#ffa8a8"/>
<rect x="143" y="688" width="3" height="9" fill="#ff8282"/>
<rect x="146" y="688" width="3" height="9" fill="#ff8787"/>
<rect x="149" y="688" width="3" height="9" fill="#ffb0b0"/>
<rect x="152" y="688" width="3" height="9" fill="#ffc8c8"/>
<rect x="155" y="688" width="3" height="9" fill="#ff4040"/>
<rect x="158" y="688" width="3" height="9" fill="#ff5f5f"/>
<rect x="161" y="688" width="2" height="9" fill="#ff5f5f"/>
<rect x="163" y="688" width="3" height="9" fill="#ff8787"/>
<rect x="166" y="688" width="3" height="9" fill="#ffaaaa"/>
<rect x="169" y="688" width="6" height="9" fill="#ff8080"/>
<rect x="175" y="688" width="6" height="9" fill="#ff8686"/>
<rect x="181" y="688" width="3" height="9" fill="#ff8383"/>
<rect x="184" y="688" width="3" height="9" fill="#ffaaaa"/>
<rect x="187" y="688" width="3" height="9" fill="#ffb0b0"/>
<rect x="190" y="688" width="6" height="9" fill="#ffadad"/>
<rect x="196" y="688" width="3" height="9" fill="#ffb1b1"/>
<rect x="199" y="688" width="9" height="9" fill="#ffacac"/>
<rect x="208" y="688" width="2" height="9" fill="#ff8888"/>
<rect x="210" y="688" width="6" height="9" fill="#ff7f7f"/>
<rect x="216" y="688" width="6" height="9" fill="#ffc8c8"/>
<rect x="222" y="688" width="3" height="9" fill="#ffadad"/>
<rect x="225" y="688" width="9" height="9" fill="#ff8888"/>
<rect x="234" y="688" width="6" height="9" fill="#ff8787"/>
<rect x="240" y="688" width="6" height="9" fill="#ffa9a9"/>
<rect x="246" y="688" width="6" height="9" fill="#ffabab"/>
<rect x="252" y="688" width="2" height="9" fill="#ff8787"/>
<rect x="254" y="688" width="3" height="9" fill="#ffacac"/>
<rect x="257" y="688" width="6" height="9" fill="#ffacac"/>
<rect x="263" y="688" width="3" height="9" fill="#ffb0b0"/>
<rect x="266" y="688" width="3" height="9" fill="#ff6666"/>
<rect x="269" y="688" width="6" height="9" fill="#ff8383"/>
<rect x="275" y="688" width="3" height="9" fill="#ff4040"/>
<rect x="278" y="688" width="3" height="9" fill="#ffb1b1"/>
<rect x="281" y="688" width="3" height="9" fill="#ffc8c8"/>
<rect x="284" y="688" width="3" height="9" fill="#ffabab"/>
<rect x="287" y="688" width="9" height="9" fill="#ffa9a9"/>
<rect x="296" y="688" width="3" height="9" fill="#ffc8c8"/>
<rect x="299" y="688" width="8" height="9" fill="#ffacac"/>
<rect x="307" y="688" width="9" height="9" fill="#ffb0b0"/>
<rect x="316" y="688" width="3" height="9" fill="#ffaaaa"/>
<rect x="319" y="688" width="3" height="9" fill="#ff8787"/>
<rect x="322" y="688" width="3" height="9" fill="#ffacac"/>
<rect x="325" y="688" width="6" height="9" fill="#ff8383"/>
<rect x="331" y="688" width="6" height="9" fill="#ffaeae"/>
<rect x="337" y="688" width="3" height="9" fill="#ffadad"/>
<rect x="340" y="688" width="3" height="9" fill="#ff8383"/>
<rect x="343" y="688" width="3" height="9" fill="#ff8686"/>
<rect x="346" y="688" width="8" height="9" fill="#ffacac"/>
<rect x="354" y="688" width="6" height="9" fill="#ffc8c8"/>
<rect x="360" y="688" width="3" height="9" fill="#ffc8c8"/>
<rect x="363" y="688" width="6" height="9" fill="#ff6565"/>
<rect x="369" y="688" width="3" height="9" fill="#ffafaf"/>
<rect x="372" y="688" width="6" height="9" fill="#ffc8c8"/>
<rect x="378" y="688" width="9" height="9" fill="#ffacac"/>
<rect x="387" y="688" width="5" height="9" fill="#ffc8c8"/>
<rect x="392" y="688" width="3" height="9" fill="#ff4545"/>
<rect x="395" y="688" width="3" height="9" fill="#ff6262"/>
<rect x="398" y="688" width="3" height="9" fill="#ff5e5e"/>
<rect x="401" y="688" width="3" height="9" fill="#ffc3c3"/>
<rect x="404" y="688" width="3" height="9" fill="#ffaaaa"/>
<rect x="407" y="688" width="3" height="9" fill="#ffc8c8"/>
<rect x="410" y="688" width="3" height="9" fill="#ffa8a8"/>
<rect x="413" y="688" width="9" height="9" fill="#ffaeae"/>
<rect x="422" y="688" width="3" height="9" fill="#ff5e5e"/>
<rect x="425" y="688" width="3" height="9" fill="#ffa8a8"/>
<rect x="428" y="688" width="6" height="9" fill="#ffafaf"/>
<rect x="434" y="688" width="3" height="9" fill="#ffaeae"/>
<rect x="437" y="688" width="2" height="9" fill="#ffc8c8"/>
<rect x="439" y="688" width="3" height="9" fill="#ff5d5d"/>
<rect x="442" y="688" width="6" height="9" fill="#ffc5c5"/>
<rect x="448" y="688" width="3" height="9" fill="#ff8e8e"/>
<rect x="451" y="688" width="3" height="9" fill="#ffb4b4"/>
<rect x="454" y="688" width="9" height="9" fill="#ffbaba"/>
<rect x="463" y="688" width="3" height="9" fill="#ffbbbb"/>
<rect x="466" y="688" width="3" height="9" fill="#ffb9b9"/>
<rect x="469" y="688" width="3" height="9" fill="#ff8c8c"/>
<rect x="472" y="688" width="6" height="9" fill="#ffa7a7"/>
<rect x="478" y="688" width="8" height="9" fill="#ffb1b1"/>
<rect x="486" y="688" width="9" height="9" fill="#ffaeae"/>
<rect x="495" y="688" width="9" height="9" fill="#ff6767"/>
<rect x="504" y="688" width="3" height="9" fill="#ffb4b4"/>
<rect x="507" y="688" width="3" height="9" fill="#ffc7c7"/>
<rect x="510" y="688" width="3" height="9" fill="#ffc5c5"/>
<rect x="513" y="688" width="3" height="9" fill="#ffb2b2"/>
<rect x="516" y="688" width="6" height="9" fill="#ffc8c8"/>
<rect x="522" y="688" width="3" height="9" fill="#ffb3b3"/>
<rect x="525" y="688" width="3" height="9" fill="#ff9696"/>
<rect x="528" y="688" width="2" height="9" fill="#ffb8b8"/>
<rect x="530" y="688" width="3" height="9" fill="#ffb3b3"/>
<rect x="533" y="688" width="3" height="9" fill="#ffb0b0"/>
<rect x="536" y="688" width="6" height="9" fill="#ff9494"/>
<rect x="542" y="688" width="6" height="9" fill="#ffb4b4"/>
<rect x="548" y="688" width="3" height="9" fill="#ffc5c5"/>
<rect x="551" y="688" width="9" height="9" fill="#ff7979"/>
<rect x="560" y="688" width="6" height="9" fill="#ff9494"/>
<rect x="566" y="688" width="3" height="9" fill="#ffb7b7"/>
<rect x="569" y="688" width="3" height="9" fill="#ffb7b7"/>
<rect x="572" y="688" width="2" height="9" fill="#ffb4b4"/>
<rect x="574" y="688" width="9" height="9" fill="#ff7c7c"/>
<rect x="583" y="688" width="9" height="9" fill="#ff7b7b"/>
<rect x="592" y="688" width="3" height="9" fill="#ffb6b6"/>
<rect x="595" y="688" width="3" height="9" fill="#ffc8c8"/>
<rect x="598" y="688" width="3" height="9" fill="#ffc3c3"/>
<rect x="601" y="688" width="3" height="9" fill="#ffc1c1"/>
<rect x="604" y="688" width="3" height="9" fill="#ffb5b5"/>
<rect x="607" y="688" width="9" height="9" fill="#ffc8c8"/>
<rect x="616" y="688" width="3" height="9" fill="#ffc8c8"/>
<rect x="619" y="688" width="2" height="9" fill="#ffc8c8"/>
<rect x="621" y="688" width="3" height="9" fill="#ffc8c8"/>
<rect x="624" y="688" width="3" height="9" fill="#ffc8c8"/>
<rect x="627" y="688" width="3" height="9" fill="#ffc2c2"/>
<rect x="630" y="688" width="3" height="9" fill="#ffc8c8"/>
<rect x="633" y="688" width="6" height="9" fill="#ffc8c8"/>
<rect x="639" y="688" width="3" height="9" fill="#ffc8c8"/>
<rect x="642" y="688" width="3" height="9" fill="#ffc2c2"/>
<rect x="645" y="688" width="3" height="9" fill="#ff9292"/>
<rect x="648" y="688" width="3" height="9" fill="#ff7878"/>
<rect x="651" y="688" width="3" height="9" fill="#ff5b5b"/>
<rect x="654" y="688" width="3" height="9" fill="#ff7373"/>
<rect x="657" y="688" width="3" height="9" fill="#ff5e5e"/>
<rect x="660" y="688" width="3" height="9" fill="#ff4040"/>
<rect x="663" y="688" width="5" height="9" fill="#ff4040"/>
<rect x="668" y="688" width="3" height="9" fill="#ffc7c7"/>
<rect x="671" y="688" width="3" height="9" fill="#ffc8c8"/>
<rect x="674" y="688" width="3" height="9" fill="#ffc4c4"/>
<rect x="677" y="688" width="3" height="9" fill="#ffc8c8"/>
<rect x="680" y="688" width="3" height="9" fill="#ffc5c5"/>
<rect x="683" y="688" width="6" height="9" fill="#ffc8c8"/>
<rect x="689" y="688" width="9" height="9" fill="#ffb5b5"/>
<rect x="698" y="688" width="3" height="9" fill="#ff9595"/>
<rect x="701" y="688" width="3" height="9" fill="#ffa2a2"/>
<rect x="704" y="688" width="3" height="9" fill="#ffbaba"/>
<rect x="707" y="688" width="3" height="9" fill="#ffa4a4"/>
<rect x="710" y="688" width="2" height="9" fill="#ffbcbc"/>
<rect x="712" y="688" width="6" height="9" fill="#ffc8c8"/>
<rect x="718" y="688" width="6" height="9" fill="#ffa7a7"/>
<rect x="724" y="688" width="3" height="9" fill="#ffb9b9"/>
<rect x="727" y="688" width="3" height="9" fill="#ffa4a4"/>
<rect x="730" y="688" width="3" height="9" fill="#ffb9b9"/>
<rect x="733" y="688" width="3" height="9" fill="#ffbaba"/>
<rect x="736" y="688" width="3" height="9" fill="#ffbaba"/>
<rect x="739" y="688" width="6" height="9" fill="#ffbcbc"/>
<rect x="745" y="688" width="3" height="9" fill="#ffb8b8"/>
<rect x="748" y="688" width="3" height="9" fill="#ff4040"/>
<rect x="751" y="688" width="8" height="9" fill="#ff4040"/>
<rect x="759" y="688" width="3" height="9" fill="#ffbbbb"/>
<rect x="762" y="688" width="3" height="9" fill="#ff8383"/>
<rect x="765" y="688" width="3" height="9" fill="#ff9595"/>
<rect x="768" y="688" width="6" height="9" fill="#ffb7b7"/>
<rect x="774" y="688" width="6" height="9" fill="#ff9494"/>
<rect x="140" y="753" width="3" height="9" fill="#ffaaaa"/>
<rect x="143" y="753" width="3" height="9" fill="#ffafaf"/>
<rect x="146" y="753" width="3" height="9" fill="#ff8686"/>
<rect x="149" y="753" width="6" height="9" fill="#ffa8a8"/>
<rect x="155" y="753" width="3" height="9" fill="#ffa8a8"/>
<rect x="158" y="753" width="5" height="9" fill="#ff6464"/>
<rect x="163" y="753" width="3" height="9" fill="#ffc6c6"/>
<rect x="166" y="753" width="3" height="9" fill="#ffc6c6"/>
<rect x="169" y="753" width="3" height="9" fill="#ffb2b2"/>
<rect x="172" y="753" width="3" height="9" fill="#ffa8a8"/>
<rect x="175" y="753" width="6" height="9" fill="#ffa8a8"/>
<rect x="181" y="753" width="3" height="9" fill="#ff6060"/>
<rect x="184" y="753" width="3" height="9" fill="#ffabab"/>
<rect x="187" y="753" width="6" height="9" fill="#ffb1b1"/>
<rect x="193" y="753" width="9" height="9" fill="#ffb0b0"/>
<rect x="202" y="753" width="8" height="9" fill="#ffadad"/>
<rect x="210" y="753" width="3" height="9" fill="#ffb1b1"/>
<rect x="213" y="753" width="3" height="9" fill="#ffb1b1"/>
<rect x="216" y="753" width="3" height="9" fill="#ff8888"/>
<rect x="219" y="753" width="3" height="9" fill="#ffa8a8"/>
<rect x="222" y="753" width="3" height="9" fill="#ffadad"/>
<rect x="225" y="753" width="9" height="9" fill="#ffaeae"/>
<rect x="234" y="753" width="3" height="9" fill="#ffaeae"/>
<rect x="237" y="753" width="9" height="9" fill="#ff5d5d"/>
<rect x="246" y="753" width="3" height="9" fill="#ffadad"/>
<rect x="249" y="753" width="3" height="9" fill="#ffb2b2"/>
<rect x="252" y="753" width="5" height="9" fill="#ff4141"/>
<rect x="257" y="753" width="6" height="9" fill="#ff8585"/>
<rect x="263" y="753" width="9" height="9" fill="#ffafaf"/>
<rect x="272" y="753" width="3" height="9" fill="#ffc7c7"/>
<rect x="275" y="753" width="3" height="9" fill="#ffc8c8"/>
<rect x="278" y="753" width="3" height="9" fill="#ffa8a8"/>
<rect x="281" y="753" width="3" height="9" fill="#ffa9a9"/>
<rect x="284" y="753" width="3" height="9" fill="#ffc3c3"/>
<rect x="287" y="753" width="3" height="9" fill="#ffc8c8"/>
<rect x="290" y="753" width="3" height="9" fill="#ffb0b0"/>
<rect x="293" y="753" width="6" height="9" fill="#ffaaaa"/>
<rect x="299" y="753" width="5" height="9" fill="#ffc3c3"/>
<rect x="304" y="753" width="3" height="9" fill="#ffa9a9"/>
<rect x="307" y="753" width="6" height="9" fill="#ffb0b0"/>
<rect x="313" y="753" width="6" height="9" fill="#ffaaaa"/>
<rect x="319" y="753" width="6" height="9" fill="#ffa8a8"/>
<rect x="325" y="753" width="3" height="9" fill="#ffa8a8"/>
<rect x="328" y="753" width="9" height="9" fill="#ff8888"/>
<rect x="337" y="753" width="3" height="9" fill="#ffc8c8"/>
<rect x="340" y="753" width="3" height="9" fill="#ffadad"/>
<rect x="343" y="753" width="3" height="9" fill="#ffaeae"/>
<rect x="346" y="753" width="2" height="9" fill="#ffaeae"/>
<rect x="348" y="753" width="6" height="9" fill="#ffadad"/>
<rect x="354" y="753" width="3" height="9" fill="#ffc6c6"/>
<rect x="357" y="753" width="3" height="9" fill="#ffc4c4"/>
<rect x="360" y="753" width="6" height="9" fill="#ff4040"/>
<rect x="366" y="753" width="3" height="9" fill="#ffadad"/>
<rect x="369" y="753" width="9" height="9" fill="#ffb1b1"/>
<rect x="378" y="753" width="6" height="9" fill="#ffc6c6"/>
<rect x="384" y="753" width="3" height="9" fill="#ff6767"/>
<rect x="387" y="753" width="3" height="9" fill="#ff5e5e"/>
<rect x="390" y="753" width="2" height="9" fill="#ffc5c5"/>
<rect x="392" y="753" width="3" height="9" fill="#ffc3c3"/>
<rect x="395" y="753" width="3" height="9" fill="#ffc8c8"/>
<rect x="398" y="753" width="9" height="9" fill="#ff8989"/>
<rect x="407" y="753" width="3" height="9" fill="#ff4343"/>
<rect x="410" y="753" width="3" height="9" fill="#ffaaaa"/>
<rect x="413" y="753" width="3" height="9" fill="#ff5e5e"/>
<rect x="416" y="753" width="3" height="9" fill="#ffadad"/>
<rect x="419" y="753" width="6" height="9" fill="#ff8686"/>
<rect x="425" y="753" width="3" height="9" fill="#ffc3c3"/>
<rect x="428" y="753" width="3" height="9" fill="#ff4040"/>
<rect x="431" y="753" width="8" height="9" fill="#ffc6c6"/>
<rect x="439" y="753" width="9" height="9" fill="#ffaeae"/>
<rect x="448" y="753" width="6" height="9" fill="#ffb6b6"/>
<rect x="454" y="753" width="6" height="9" fill="#ff7575"/>
<rect x="460" y="753" width="6" height="9" fill="#ff8b8b"/>
<rect x="466" y="753" width="6" height="9" fill="#ff8888"/>
<rect x="472" y="753" width="3" height="9" fill="#ff6565"/>
<rect x="475" y="753" width="3" height="9" fill="#ffb1b1"/>
<rect x="478" y="753" width="3" height="9" fill="#ffc6c6"/>
<rect x="481" y="753" width="2" height="9" fill="#ff8585"/>
<rect x="483" y="753" width="3" height="9" fill="#ff6767"/>
<rect x="486" y="753" width="3" height="9" fill="#ff8787"/>
<rect x="489" y="753" width="6" height="9" fill="#ffb0b0"/>
<rect x="495" y="753" width="3" height="9" fill="#ffadad"/>
<rect x="498" y="753" width="6" height="9" fill="#ffacac"/>
<rect x="504" y="753" width="3" height="9" fill="#ffc7c7"/>
<rect x="507" y="753" width="9" height="9" fill="#ffc5c5"/>
<rect x="516" y="753" width="3" height="9" fill="#ffb5b5"/>
<rect x="519" y="753" width="3" height="9" fill="#ffc8c8"/>
<rect x="522" y="753" width="3" height="9" fill="#ffb2b2"/>
<rect x="525" y="753" width="5" height="9" fill="#ff9393"/>
<rect x="530" y="753" width="3" height="9" fill="#ff9999"/>
<rect x="533" y="753" width="3" height="9" fill="#ff5f5f"/>
<rect x="536" y="753" width="3" height="9" fill="#ff7d7d"/>
<rect x="539" y="753" width="6" height="9" fill="#ffb1b1"/>
<rect x="545" y="753" width="6" height="9" fill="#ffc8c8"/>
<rect x="551" y="753" width="6" height="9" fill="#ffb3b3"/>
<rect x="557" y="753" width="6" height="9" fill="#ffc8c8"/>
<rect x="563" y="753" width="3" height="9" fill="#ffc8c8"/>
<rect x="566" y="753" width="3" height="9" fill="#ffc5c5"/>
<rect x="569" y="753" width="3" height="9" fill="#ff7d7d"/>
<rect x="572" y="753" width="8" height="9" fill="#ffc6c6"/>
<rect x="580" y="753" width="9" height="9" fill="#ff6161"/>
<rect x="589" y="753" width="3" height="9" fill="#ffc3c3"/>
<rect x="592" y="753" width="3" height="9" fill="#ffc8c8"/>
<rect x="595" y="753" width="6" height="9" fill="#ffc8c8"/>
<rect x="601" y="753" width="6" height="9" fill="#ffb6b6"/>
<rect x="607" y="753" width="3" height="9" fill="#ffc8c8"/>
<rect x="610" y="753" width="3" height="9" fill="#ffb6b6"/>
<rect x="613" y="753" width="3" height="9" fill="#ffb8b8"/>
<rect x="616" y="753" width="8" height="9" fill="#ffc8c8"/>
<rect x="624" y="753" width="3" height="9" fill="#ffc1c1"/>
<rect x="627" y="753" width="6" height="9" fill="#ffc8c8"/>
<rect x="633" y="753" width="3" height="9" fill="#ffc8c8"/>
<rect x="636" y="753" width="3" height="9" fill="#ffc5c5"/>
<rect x="639" y="753" width="9" height="9" fill="#ffc8c8"/>
<rect x="648" y="753" width="6" height="9" fill="#ff5b5b"/>
<rect x="654" y="753" width="6" height="9" fill="#ff5858"/>
<rect x="660" y="753" width="3" height="9" fill="#ff4040"/>
<rect x="663" y="753" width="3" height="9" fill="#ff4040"/>
<rect x="666" y="753" width="5" height="9" fill="#ffb6b6"/>
<rect x="671" y="753" width="6" height="9" fill="#ffc4c4"/>
<rect x="677" y="753" width="6" height="9" fill="#ffb6b6"/>
<rect x="683" y="753" width="3" height="9" fill="#ffb2b2"/>
<rect x="686" y="753" width="3" height="9" fill="#ffb4b4"/>
<rect x="689" y="753" width="3" height="9" fill="#ffb6b6"/>
<rect x="692" y="753" width="3" height="9" fill="#ffc8c8"/>
<rect x="695" y="753" width="3" height="9" fill="#ff9494"/>
<rect x="698" y="753" width="3" height="9" fill="#ffc8c8"/>
<rect x="701" y="753" width="3" height="9" fill="#ffb7b7"/>
<rect x="704" y="753" width="3" height="9" fill="#ffc8c8"/>
<rect x="707" y="753" width="3" height="9" fill="#ffc6c6"/>
<rect x="710" y="753" width="5" height="9" fill="#ffa6a6"/>
<rect x="715" y="753" width="9" height="9" fill="#ffbbbb"/>
<rect x="724" y="753" width="3" height="9" fill="#ffbcbc"/>
<rect x="727" y="753" width="3" height="9" fill="#ffa3a3"/>
<rect x="730" y="753" width="3" height="9" fill="#ffb7b7"/>
<rect x="733" y="753" width="3" height="9" fill="#ff9292"/>
<rect x="736" y="753" width="6" height="9" fill="#ffc5c5"/>
<rect x="742" y="753" width="6" height="9" fill="#ff4040"/>
<rect x="748" y="753" width="6" height="9" fill="#ff4040"/>
<rect x="754" y="753" width="3" height="9" fill="#ff8383"/>
<rect x="757" y="753" width="2" height="9" fill="#ff8181"/>
<rect x="759" y="753" width="9" height="9" fill="#ffb9b9"/>
<rect x="768" y="753" width="6" height="9" fill="#ffc8c8"/>
<rect x="774" y="753" width="3" height="9" fill="#ffbaba"/>
<rect x="777" y="753" width="3" height="9" fill="#ffa3a3"/>
<rect x="140" y="818" width="3" height="9" fill="#ffbaba"/>
<rect x="143" y="818" width="3" height="9" fill="#ff3030"/>
<rect x="146" y="818" width="3" height="9" fill="#ff4b4b"/>
<rect x="149" y="818" width="6" height="9" fill="#ffa1a1"/>
<rect x="155" y="818" width="6" height="9" fill="#ffa2a2"/>
<rect x="161" y="818" width="2" height="9" fill="#ff3030"/>
<rect x="163" y="818" width="6" height="9" fill="#ff5151"/>
<rect x="169" y="818" width="6" height="9" fill="#ffa0a0"/>
<rect x="175" y="818" width="6" height="9" fill="#ff7373"/>
<rect x="181" y="818" width="6" height="9" fill="#ffa1a1"/>
<rect x="187" y="818" width="9" height="9" fill="#ff9b9b"/>
<rect x="196" y="818" width="3" height="9" fill="#ff6d6d"/>
<rect x="199" y="818" width="3" height="9" fill="#ff9f9f"/>
<rect x="202" y="818" width="3" height="9" fill="#ff9f9f"/>
<rect x="205" y="818" width="3" height="9" fill="#ff4f4f"/>
<rect x="208" y="818" width="2" height="9" fill="#ff9b9b"/>
<rect x="210" y="818" width="3" height="9" fill="#ff9f9f"/>
<rect x="213" y="818" width="3" height="9" fill="#ff7373"/>
<rect x="216" y="818" width="3" height="9" fill="#ffa1a1"/>
<rect x="219" y="818" width="6" height="9" fill="#ff9f9f"/>
<rect x="225" y="818" width="9" height="9" fill="#ff4b4b"/>
<rect x="234" y="818" width="3" height="9" fill="#ff7777"/>
<rect x="237" y="818" width="9" height="9" fill="#ffa5a5"/>
<rect x="246" y="818" width="3" height="9" fill="#ff3030"/>
<rect x="249" y="818" width="3" height="9" fill="#ffbdbd"/>
<rect x="252" y="818" width="2" height="9" fill="#ff3030"/>
<rect x="254" y="818" width="9" height="9" fill="#ff6e6e"/>
<rect x="263" y="818" width="9" height="9" fill="#ffc2c2"/>
<rect x="272" y="818" width="3" height="9" fill="#ff7373"/>
<rect x="275" y="818" width="9" height="9" fill="#ff5050"/>
<rect x="284" y="818" width="3" height="9" fill="#ff7878"/>
<rect x="287" y="818" width="6" height="9" fill="#ffa4a4"/>
<rect x="293" y="818" width="3" height="9" fill="#ff7575"/>
<rect x="296" y="818" width="3" height="9" fill="#ff4949"/>
<rect x="299" y="818" width="5" height="9" fill="#ffbbbb"/>
<rect x="304" y="818" width="6" height="9" fill="#ff6e6e"/>
<rect x="310" y="818" width="3" height="9" fill="#ffa2a2"/>
<rect x="313" y="818" width="6" height="9" fill="#ffa2a2"/>
<rect x="319" y="818" width="6" height="9" fill="#ff7878"/>
<rect x="325" y="818" width="6" height="9" fill="#ff4f4f"/>
<rect x="331" y="818" width="3" height="9" fill="#ff4c4c"/>
<rect x="334" y="818" width="3" height="9" fill="#ff3030"/>
<rect x="337" y="818" width="6" height="9" fill="#ff9a9a"/>
<rect x="343" y="818" width="3" height="9" fill="#ffa1a1"/>
<rect x="346" y="818" width="8" height="9" fill="#ff4d4d"/>
<rect x="354" y="818" width="9" height="9" fill="#ff7777"/>
<rect x="363" y="818" width="3" height="9" fill="#ffb8b8"/>
<rect x="366" y="818" width="9" height="9" fill="#ff4c4c"/>
<rect x="375" y="818" width="6" height="9" fill="#ffa2a2"/>
<rect x="381" y="818" width="3" height="9" fill="#ff3030"/>
<rect x="384" y="818" width="3" height="9" fill="#ff4b4b"/>
<rect x="387" y="818" width="5" height="9" fill="#ff9e9e"/>
<rect x="392" y="818" width="6" height="9" fill="#ffbfbf"/>
<rect x="398" y="818" width="3" height="9" fill="#ffa3a3"/>
<rect x="401" y="818" width="9" height="9" fill="#ff3030"/>
<rect x="410" y="818" width="3" height="9" fill="#ffbbbb"/>
<rect x="413" y="818" width="3" height="9" fill="#ff5353"/>
<rect x="416" y="818" width="9" height="9" fill="#ff6e6e"/>
<rect x="425" y="818" width="3" height="9" fill="#ff9e9e"/>
<rect x="428" y="818" width="3" height="9" fill="#ffa2a2"/>
<rect x="431" y="818" width="3" height="9" fill="#ff9e9e"/>
<rect x="434" y="818" width="3" height="9" fill="#ff7373"/>
<rect x="437" y="818" width="8" height="9" fill="#ffa3a3"/>
<rect x="445" y="818" width="3" height="9" fill="#ffabab"/>
<rect x="448" y="818" width="3" height="9" fill="#ff9090"/>
<rect x="451" y="818" width="9" height="9" fill="#ffabab"/>
<rect x="460" y="818" width="3" height="9" fill="#ffbfbf"/>
<rect x="463" y="818" width="3" height="9" fill="#ff9393"/>
<rect x="466" y="818" width="3" height="9" fill="#ffabab"/>
<rect x="469" y="818" width="3" height="9" fill="#ffacac"/>
<rect x="472" y="818" width="6" height="9" fill="#ff4e4e"/>
<rect x="478" y="818" width="3" height="9" fill="#ff9a9a"/>
<rect x="481" y="818" width="8" height="9" fill="#ff3030"/>
<rect x="489" y="818" width="9" height="9" fill="#ff7676"/>
<rect x="498" y="818" width="3" height="9" fill="#ff9e9e"/>
<rect x="501" y="818" width="6" height="9" fill="#ff8585"/>
<rect x="507" y="818" width="6" height="9" fill="#ffa5a5"/>
<rect x="513" y="818" width="9" height="9" fill="#ffa4a4"/>
<rect x="522" y="818" width="3" height="9" fill="#ff6f6f"/>
<rect x="525" y="818" width="3" height="9" fill="#ffa8a8"/>
<rect x="528" y="818" width="2" height="9" fill="#ffa7a7"/>
<rect x="530" y="818" width="3" height="9" fill="#ff5050"/>
<rect x="533" y="818" width="3" height="9" fill="#ff8484"/>
<rect x="536" y="818" width="6" height="9" fill="#ff5252"/>
<rect x="542" y="818" width="3" height="9" fill="#ff6969"/>
<rect x="545" y="818" width="9" height="9" fill="#ff8585"/>
<rect x="554" y="818" width="9" height="9" fill="#ff6d6d"/>
<rect x="563" y="818" width="6" height="9" fill="#ffaaaa"/>
<rect x="569" y="818" width="5" height="9" fill="#ff8b8b"/>
<rect x="574" y="818" width="3" height="9" fill="#ff8383"/>
<rect x="577" y="818" width="3" height="9" fill="#ff8484"/>
<rect x="580" y="818" width="3" height="9" fill="#ff6969"/>
<rect x="583" y="818" width="3" height="9" fill="#ffa8a8"/>
<rect x="586" y="818" width="9" height="9" fill="#ffacac"/>
<rect x="595" y="818" width="9" height="9" fill="#ffa1a1"/>
<rect x="604" y="818" width="3" height="9" fill="#ffa0a0"/>
<rect x="607" y="818" width="6" height="9" fill="#ffbaba"/>
<rect x="613" y="818" width="3" height="9" fill="#ffc4c4"/>
<rect x="616" y="818" width="3" height="9" fill="#ffc4c4"/>
<rect x="619" y="818" width="2" height="9" fill="#ffbbbb"/>
<rect x="621" y="818" width="6" height="9" fill="#ffc4c4"/>
<rect x="627" y="818" width="6" height="9" fill="#ffacac"/>
<rect x="633" y="818" width="9" height="9" fill="#ffacac"/>
<rect x="642" y="818" width="3" height="9" fill="#ffc4c4"/>
<rect x="645" y="818" width="3" height="9" fill="#ffacac"/>
<rect x="648" y="818" width="3" height="9" fill="#ff6565"/>
<rect x="651" y="818" width="6" height="9" fill="#ff4a4a"/>
<rect x="657" y="818" width="6" height="9" fill="#ff3030"/>
<rect x="663" y="818" width="3" height="9" fill="#ff6464"/>
<rect x="666" y="818" width="2" height="9" fill="#ff6767"/>
<rect x="668" y="818" width="3" height="9" fill="#ffacac"/>
<rect x="671" y="818" width="3" height="9" fill="#ff8484"/>
<rect x="674" y="818" width="9" height="9" fill="#ffabab"/>
<rect x="683" y="818" width="3" height="9" fill="#ff8888"/>
<rect x="686" y="818" width="3" height="9" fill="#ff6e6e"/>
<rect x="689" y="818" width="6" height="9" fill="#ff6a6a"/>
<rect x="695" y="818" width="9" height="9" fill="#ffbcbc"/>
<rect x="704" y="818" width="3" height="9" fill="#ffaeae"/>
<rect x="707" y="818" width="3" height="9" fill="#ff7474"/>
<rect x="710" y="818" width="2" height="9" fill="#ff8383"/>
<rect x="712" y="818" width="3" height="9" fill="#ffb1b1"/>
<rect x="715" y="818" width="6" height="9" fill="#ffb3b3"/>
<rect x="721" y="818" width="6" height="9" fill="#ff7474"/>
<rect x="727" y="818" width="3" height="9" fill="#ff8585"/>
<rect x="730" y="818" width="3" height="9" fill="#ffb2b2"/>
<rect x="733" y="818" width="3" height="9" fill="#ffc1c1"/>
<rect x="736" y="818" width="3" height="9" fill="#ffaeae"/>
<rect x="739" y="818" width="3" height="9" fill="#ffb3b3"/>
<rect x="742" y="818" width="9" height="9" fill="#ff3030"/>
<rect x="751" y="818" width="3" height="9" fill="#ff3030"/>
<rect x="754" y="818" width="5" height="9" fill="#ffb1b1"/>
<rect x="759" y="818" width="3" height="9" fill="#ff9898"/>
<rect x="762" y="818" width="3" height="9" fill="#ff8686"/>
<rect x="765" y="818" width="9" height="9" fill="#ff9999"/>
<rect x="774" y="818" width="3" height="9" fill="#ff8686"/>
<rect x="777" y="818" width="3" height="9" fill="#ffb0b0"/>
<rect x="741" y="688" width="3" height="9" fill="#ff2a2a"/>
<rect x="747" y="688" width="6" height="9" fill="#ff1010"/>
<rect x="744" y="688" width="3" height="9" fill="#ffb0b0"/>
<rect x="741" y="753" width="3" height="9" fill="#ff2a2a"/>
<rect x="747" y="753" width="6" height="9" fill="#ff1010"/>
<rect x="744" y="753" width="3" height="9" fill="#ffb0b0"/>
<rect x="741" y="818" width="3" height="9" fill="#ff2a2a"/>
<rect x="747" y="818" width="6" height="9" fill="#ff1010"/>
<rect x="744" y="818" width="3" height="9" fill="#ffb0b0"/>
<rect x="140" y="656" width="3" height="16" fill="#0f0fff"/>
<rect x="143" y="656" width="3" height="14" fill="#3838ff"/>
<rect x="146" y="656" width="3" height="14" fill="#2727ff"/>
<rect x="149" y="656" width="3" height="15" fill="#1b1bff"/>
<rect x="152" y="656" width="3" height="15" fill="#1414ff"/>
<rect x="155" y="656" width="3" height="15" fill="#2525ff"/>
<rect x="158" y="656" width="3" height="15" fill="#1b1bff"/>
<rect x="161" y="656" width="2" height="14" fill="#2020ff"/>
<rect x="163" y="656" width="3" height="15" fill="#2121ff"/>
<rect x="166" y="656" width="3" height="13" fill="#4747ff"/>
<rect x="169" y="656" width="3" height="13" fill="#3535ff"/>
<rect x="172" y="656" width="3" height="17" fill="#0000ff"/>
<rect x="175" y="656" width="3" height="13" fill="#3838ff"/>
<rect x="178" y="656" width="3" height="17" fill="#0505ff"/>
<rect x="181" y="656" width="3" height="13" fill="#4545ff"/>
<rect x="184" y="656" width="3" height="17" fill="#0606ff"/>
<rect x="187" y="656" width="3" height="14" fill="#2e2eff"/>
<rect x="190" y="656" width="3" height="14" fill="#3333ff"/>
<rect x="193" y="656" width="3" height="14" fill="#3333ff"/>
<rect x="196" y="656" width="3" height="14" fill="#3a3aff"/>
<rect x="199" y="656" width="3" height="14" fill="#2727ff"/>
<rect x="202" y="656" width="3" height="14" fill="#3939ff"/>
<rect x="205" y="656" width="3" height="14" fill="#3434ff"/>
<rect x="208" y="656" width="2" height="13" fill="#4747ff"/>
<rect x="210" y="656" width="3" height="13" fill="#3131ff"/>
<rect x="213" y="656" width="3" height="16" fill="#0606ff"/>
<rect x="216" y="656" width="3" height="16" fill="#1212ff"/>
<rect x="219" y="656" width="3" height="17" fill="#0000ff"/>
<rect x="222" y="656" width="3" height="14" fill="#3a3aff"/>
<rect x="225" y="656" width="3" height="18" fill="#0000ff"/>
<rect x="228" y="656" width="3" height="16" fill="#0606ff"/>
<rect x="231" y="656" width="3" height="14" fill="#2e2eff"/>
<rect x="234" y="656" width="3" height="15" fill="#2424ff"/>
<rect x="237" y="656" width="3" height="17" fill="#0000ff"/>
<rect x="240" y="656" width="3" height="16" fill="#0a0aff"/>
<rect x="243" y="656" width="3" height="15" fill="#2a2aff"/>
<rect x="246" y="656" width="3" height="13" fill="#3838ff"/>
<rect x="249" y="656" width="3" height="17" fill="#0000ff"/>
<rect x="252" y="656" width="2" height="13" fill="#3636ff"/>
<rect x="254" y="656" width="3" height="17" fill="#0808ff"/>
<rect x="257" y="656" width="3" height="14" fill="#2c2cff"/>
<rect x="260" y="656" width="3" height="18" fill="#0000ff"/>
<rect x="263" y="656" width="3" height="15" fill="#1616ff"/>
<rect x="266" y="656" width="3" height="16" fill="#1717ff"/>
<rect x="269" y="656" width="3" height="16" fill="#0e0eff"/>
<rect x="272" y="656" width="3" height="16" fill="#1212ff"/>
<rect x="275" y="656" width="3" height="15" fill="#1616ff"/>
<rect x="278" y="656" width="3" height="14" fill="#2a2aff"/>
<rect x="281" y="656" width="3" height="14" fill="#2929ff"/>
<rect x="284" y="656" width="3" height="14" fill="#2c2cff"/>
<rect x="287" y="656" width="3" height="19" fill="#0000ff"/>
<rect x="290" y="656" width="3" height="15" fill="#1414ff"/>
<rect x="293" y="656" width="3" height="17" fill="#0909ff"/>
<rect x="296" y="656" width="3" height="15" fill="#2222ff"/>
<rect x="299" y="656" width="2" height="16" fill="#0d0dff"/>
<rect x="301" y="656" width="3" height="14" fill="#3535ff"/>
<rect x="304" y="656" width="3" height="14" fill="#2c2cff"/>
<rect x="307" y="656" width="3" height="14" fill="#3737ff"/>
<rect x="310" y="656" width="3" height="13" fill="#3838ff"/>
<rect x="313" y="656" width="3" height="14" fill="#2929ff"/>
<rect x="316" y="656" width="3" height="14" fill="#3030ff"/>
<rect x="319" y="656" width="3" height="17" fill="#0101ff"/>
<rect x="322" y="656" width="3" height="13" fill="#3a3aff"/>
<rect x="325" y="656" width="3" height="14" fill="#2727ff"/>
<rect x="328" y="656" width="3" height="15" fill="#2121ff"/>
<rect x="331" y="656" width="3" height="14" fill="#2b2bff"/>
<rect x="334" y="656" width="3" height="15" fill="#2626ff"/>
<rect x="337" y="656" width="3" height="14" fill="#2525ff"/>
<rect x="340" y="656" width="3" height="17" fill="#0000ff"/>
<rect x="343" y="656" width="3" height="14" fill="#3030ff"/>
<rect x="346" y="656" width="2" height="14" fill="#2828ff"/>
<rect x="348" y="656" width="3" height="14" fill="#3030ff"/>
<rect x="351" y="656" width="3" height="14" fill="#2525ff"/>
<rect x="354" y="656" width="3" height="18" fill="#0000ff"/>
<rect x="357" y="656" width="3" height="16" fill="#1919ff"/>
<rect x="360" y="656" width="3" height="17" fill="#0606ff"/>
<rect x="363" y="656" width="3" height="16" fill="#0909ff"/>
<rect x="366" y="656" width="3" height="13" fill="#4040ff"/>
<rect x="369" y="656" width="3" height="14" fill="#3535ff"/>
<rect x="372" y="656" width="3" height="16" fill="#1111ff"/>
<rect x="375" y="656" width="3" height="13" fill="#3838ff"/>
<rect x="378" y="656" width="3" height="13" fill="#3939ff"/>
<rect x="381" y="656" width="3" height="14" fill="#2121ff"/>
<rect x="384" y="656" width="3" height="15" fill="#1a1aff"/>
<rect x="387" y="656" width="3" height="15" fill="#1717ff"/>
<rect x="390" y="656" width="2" height="15" fill="#1e1eff"/>
<rect x="392" y="656" width="3" height="15" fill="#2b2bff"/>
<rect x="395" y="656" width="3" height="16" fill="#1717ff"/>
<rect x="398" y="656" width="3" height="16" fill="#1a1aff"/>
<rect x="401" y="656" width="3" height="19" fill="#0000ff"/>
<rect x="404" y="656" width="3" height="17" fill="#0808ff"/>
<rect x="407" y="656" width="3" height="15" fill="#1515ff"/>
<rect x="410" y="656" width="3" height="17" fill="#0a0aff"/>
<rect x="413" y="656" width="3" height="15" fill="#2626ff"/>
<rect x="416" y="656" width="3" height="14" fill="#3838ff"/>
<rect x="419" y="656" width="3" height="13" fill="#4747ff"/>
<rect x="422" y="656" width="3" height="13" fill="#3333ff"/>
<rect x="425" y="656" width="3" height="14" fill="#3a3aff"/>
<rect x="428" y="656" width="3" height="17" fill="#0404ff"/>
<rect x="431" y="656" width="3" height="18" fill="#0000ff"/>
<rect x="434" y="656" width="3" height="14" fill="#3636ff"/>
<rect x="437" y="656" width="2" height="18" fill="#0000ff"/>
<rect x="439" y="656" width="3" height="14" fill="#3636ff"/>
<rect x="442" y="656" width="3" height="13" fill="#3838ff"/>
<rect x="445" y="656" width="3" height="13" fill="#4848ff"/>
<rect x="448" y="656" width="3" height="15" fill="#1616ff"/>
<rect x="451" y="656" width="3" height="15" fill="#2828ff"/>
<rect x="454" y="656" width="3" height="13" fill="#4343ff"/>
<rect x="457" y="656" width="3" height="14" fill="#2f2fff"/>
<rect x="460" y="656" width="3" height="14" fill="#2e2eff"/>
<rect x="463" y="656" width="3" height="14" fill="#3535ff"/>
<rect x="466" y="656" width="3" height="17" fill="#0808ff"/>
<rect x="469" y="656" width="3" height="15" fill="#2626ff"/>
<rect x="472" y="656" width="3" height="18" fill="#0000ff"/>
<rect x="475" y="656" width="3" height="18" fill="#0000ff"/>
<rect x="478" y="656" width="3" height="14" fill="#3030ff"/>
<rect x="481" y="656" width="2" height="13" fill="#3333ff"/>
<rect x="483" y="656" width="3" height="14" fill="#3232ff"/>
<rect x="486" y="656" width="3" height="15" fill="#2828ff"/>
<rect x="489" y="656" width="3" height="15" fill="#1919ff"/>
<rect x="492" y="656" width="3" height="15" fill="#2525ff"/>
<rect x="495" y="656" width="3" height="17" fill="#0000ff"/>
<rect x="498" y="656" width="3" height="14" fill="#2a2aff"/>
<rect x="501" y="656" width="3" height="18" fill="#0000ff"/>
<rect x="504" y="656" width="3" height="15" fill="#1414ff"/>
<rect x="507" y="656" width="3" height="15" fill="#1111ff"/>
<rect x="510" y="656" width="3" height="14" fill="#2d2dff"/>
<rect x="513" y="656" width="3" height="15" fill="#2020ff"/>
<rect x="516" y="656" width="3" height="16" fill="#1212ff"/>
<rect x="519" y="656" width="3" height="15" fill="#1f1fff"/>
<rect x="522" y="656" width="3" height="17" fill="#0a0aff"/>
<rect x="525" y="656" width="3" height="16" fill="#0909ff"/>
<rect x="528" y="656" width="2" height="14" fill="#2727ff"/>
<rect x="530" y="656" width="3" height="14" fill="#2828ff"/>
<rect x="533" y="656" width="3" height="15" fill="#2525ff"/>
<rect x="536" y="656" width="3" height="18" fill="#0000ff"/>
<rect x="539" y="656" width="3" height="14" fill="#2121ff"/>
<rect x="542" y="656" width="3" height="14" fill="#2424ff"/>
<rect x="545" y="656" width="3" height="14" fill="#3a3aff"/>
<rect x="548" y="656" width="3" height="17" fill="#0808ff"/>
<rect x="551" y="656" width="3" height="14" fill="#3636ff"/>
<rect x="554" y="656" width="3" height="14" fill="#2424ff"/>
<rect x="557" y="656" width="3" height="14" fill="#3636ff"/>
<rect x="560" y="656" width="3" height="17" fill="#0505ff"/>
<rect x="563" y="656" width="3" height="15" fill="#1616ff"/>
<rect x="566" y="656" width="3" height="13" fill="#3636ff"/>
<rect x="569" y="656" width="3" height="14" fill="#2f2fff"/>
<rect x="572" y="656" width="2" height="13" fill="#4747ff"/>
<rect x="574" y="656" width="3" height="14" fill="#2e2eff"/>
<rect x="577" y="656" width="3" height="14" fill="#3535ff"/>
<rect x="580" y="656" width="3" height="14" fill="#2323ff"/>
<rect x="583" y="656" width="3" height="17" fill="#0000ff"/>
<rect x="586" y="656" width="3" height="17" fill="#0a0aff"/>
<rect x="589" y="656" width="3" height="14" fill="#3a3aff"/>
<rect x="592" y="656" width="3" height="16" fill="#0b0bff"/>
<rect x="595" y="656" width="3" height="12" fill="#3e3eff"/>
<rect x="598" y="656" width="3" height="13" fill="#4040ff"/>
<rect x="601" y="656" width="3" height="12" fill="#4d4dff"/>
<rect x="604" y="656" width="3" height="14" fill="#2626ff"/>
<rect x="607" y="656" width="3" height="16" fill="#1818ff"/>
<rect x="610" y="656" width="3" height="15" fill="#2222ff"/>
<rect x="613" y="656" width="3" height="16" fill="#1b1bff"/>
<rect x="616" y="656" width="3" height="15" fill="#2222ff"/>
<rect x="619" y="656" width="2" height="13" fill="#3838ff"/>
<rect x="621" y="656" width="3" height="13" fill="#3737ff"/>
<rect x="624" y="656" width="3" height="13" fill="#3535ff"/>
<rect x="627" y="656" width="3" height="13" fill="#3838ff"/>
<rect x="630" y="656" width="3" height="16" fill="#0202ff"/>
<rect x="633" y="656" width="3" height="12" fill="#5656ff"/>
<rect x="636" y="656" width="3" height="16" fill="#1111ff"/>
<rect x="639" y="656" width="3" height="15" fill="#1414ff"/>
<rect x="642" y="656" width="3" height="13" fill="#4646ff"/>
<rect x="645" y="656" width="3" height="12" fill="#5353ff"/>
<rect x="648" y="656" width="3" height="12" fill="#4b4bff"/>
<rect x="651" y="656" width="3" height="12" fill="#4343ff"/>
<rect x="654" y="656" width="3" height="12" fill="#4d4dff"/>
<rect x="657" y="656" width="3" height="13" fill="#4242ff"/>
<rect x="660" y="656" width="3" height="12" fill="#5858ff"/>
<rect x="663" y="656" width="3" height="12" fill="#5353ff"/>
<rect x="666" y="656" width="2" height="13" fill="#3030ff"/>
<rect x="668" y="656" width="3" height="13" fill="#3c3cff"/>
<rect x="671" y="656" width="3" height="13" fill="#4848ff"/>
<rect x="674" y="656" width="3" height="12" fill="#4d4dff"/>
<rect x="677" y="656" width="3" height="12" fill="#5252ff"/>
<rect x="680" y="656" width="3" height="11" fill="#5a5aff"/>
<rect x="683" y="656" width="3" height="10" fill="#5a5aff"/>
<rect x="686" y="656" width="3" height="14" fill="#2424ff"/>
<rect x="689" y="656" width="3" height="14" fill="#2a2aff"/>
<rect x="703" y="656" width="7" height="5" fill="#7a7aff"/>
<rect x="715" y="656" width="7" height="1.5" fill="#9a9aff"/>
<rect x="727" y="656" width="4" height="1.5" fill="#8a8aff"/>
<rect x="744" y="656" width="4" height="1" fill="#aaaaff"/>
<rect x="759" y="656" width="4" height="3" fill="#8a8aff"/>
<rect x="140" y="700" width="3" height="10" fill="#8d8dff"/>
<rect x="143" y="700" width="3" height="11" fill="#8686ff"/>
<rect x="146" y="700" width="3" height="9" fill="#9090ff"/>
<rect x="149" y="700" width="3" height="10" fill="#8b8bff"/>
<rect x="152" y="700" width="3" height="10" fill="#a5a5ff"/>
<rect x="155" y="700" width="3" height="10" fill="#a6a6ff"/>
<rect x="158" y="700" width="3" height="10" fill="#a6a6ff"/>
<rect x="161" y="700" width="2" height="10" fill="#8c8cff"/>
<rect x="163" y="700" width="3" height="10" fill="#8c8cff"/>
<rect x="166" y="700" width="3" height="10" fill="#8989ff"/>
<rect x="169" y="700" width="3" height="12" fill="#7c7cff"/>
<rect x="172" y="700" width="3" height="10" fill="#a7a7ff"/>
<rect x="175" y="700" width="3" height="10" fill="#8888ff"/>
<rect x="178" y="700" width="3" height="10" fill="#a3a3ff"/>
<rect x="181" y="700" width="3" height="10" fill="#8b8bff"/>
<rect x="184" y="700" width="3" height="10" fill="#8b8bff"/>
<rect x="187" y="700" width="3" height="10" fill="#8a8aff"/>
<rect x="190" y="700" width="3" height="10" fill="#8b8bff"/>
<rect x="193" y="700" width="3" height="10" fill="#8a8aff"/>
<rect x="196" y="700" width="3" height="10" fill="#8b8bff"/>
<rect x="199" y="700" width="3" height="10" fill="#8b8bff"/>
<rect x="202" y="700" width="3" height="10" fill="#a4a4ff"/>
<rect x="205" y="700" width="3" height="12" fill="#7f7fff"/>
<rect x="208" y="700" width="2" height="10" fill="#8888ff"/>
<rect x="210" y="700" width="3" height="10" fill="#8989ff"/>
<rect x="213" y="700" width="3" height="10" fill="#a2a2ff"/>
<rect x="216" y="700" width="3" height="10" fill="#a6a6ff"/>
<rect x="219" y="700" width="3" height="10" fill="#a6a6ff"/>
<rect x="222" y="700" width="3" height="10" fill="#8a8aff"/>
<rect x="225" y="700" width="3" height="10" fill="#a5a5ff"/>
<rect x="228" y="700" width="3" height="11" fill="#8787ff"/>
<rect x="231" y="700" width="3" height="10" fill="#8989ff"/>
<rect x="234" y="700" width="3" height="3" fill="#b4b4ff"/>
<rect x="237" y="700" width="3" height="11" fill="#9e9eff"/>
<rect x="240" y="700" width="3" height="10" fill="#8a8aff"/>
<rect x="243" y="700" width="3" height="10" fill="#8c8cff"/>
<rect x="246" y="700" width="3" height="10" fill="#a4a4ff"/>
<rect x="249" y="700" width="3" height="10" fill="#8a8aff"/>
<rect x="252" y="700" width="2" height="10" fill="#8c8cff"/>
<rect x="254" y="700" width="3" height="12" fill="#7f7fff"/>
<rect x="257" y="700" width="3" height="10" fill="#a7a7ff"/>
<rect x="260" y="700" width="3" height="9" fill="#8e8eff"/>
<rect x="263" y="700" width="3" height="9" fill="#8e8eff"/>
<rect x="266" y="700" width="3" height="9" fill="#ababff"/>
<rect x="269" y="700" width="3" height="12" fill="#8080ff"/>
<rect x="272" y="700" width="3" height="12" fill="#7c7cff"/>
<rect x="275" y="700" width="3" height="10" fill="#a7a7ff"/>
<rect x="278" y="700" width="3" height="10" fill="#a2a2ff"/>
<rect x="281" y="700" width="3" height="11" fill="#8585ff"/>
<rect x="284" y="700" width="3" height="10" fill="#8b8bff"/>
<rect x="287" y="700" width="3" height="10" fill="#8888ff"/>
<rect x="290" y="700" width="3" height="11" fill="#8686ff"/>
<rect x="293" y="700" width="3" height="10" fill="#a5a5ff"/>
<rect x="296" y="700" width="3" height="10" fill="#a1a1ff"/>
<rect x="299" y="700" width="2" height="10" fill="#8b8bff"/>
<rect x="301" y="700" width="3" height="10" fill="#8d8dff"/>
<rect x="304" y="700" width="3" height="11" fill="#9c9cff"/>
<rect x="307" y="700" width="3" height="10" fill="#8888ff"/>
<rect x="310" y="700" width="3" height="10" fill="#8c8cff"/>
<rect x="313" y="700" width="3" height="10" fill="#a7a7ff"/>
<rect x="316" y="700" width="3" height="10" fill="#8b8bff"/>
<rect x="319" y="700" width="3" height="10" fill="#8c8cff"/>
<rect x="322" y="700" width="3" height="10" fill="#8a8aff"/>
<rect x="325" y="700" width="3" height="10" fill="#8888ff"/>
<rect x="328" y="700" width="3" height="10" fill="#a2a2ff"/>
<rect x="331" y="700" width="3" height="10" fill="#8787ff"/>
<rect x="334" y="700" width="3" height="10" fill="#8c8cff"/>
<rect x="337" y="700" width="3" height="10" fill="#8888ff"/>
<rect x="340" y="700" width="3" height="9" fill="#9292ff"/>
<rect x="343" y="700" width="3" height="10" fill="#a5a5ff"/>
<rect x="346" y="700" width="2" height="10" fill="#8888ff"/>
<rect x="348" y="700" width="3" height="10" fill="#8888ff"/>
<rect x="351" y="700" width="3" height="9" fill="#9191ff"/>
<rect x="354" y="700" width="3" height="9" fill="#8e8eff"/>
<rect x="357" y="700" width="3" height="9" fill="#9292ff"/>
<rect x="360" y="700" width="3" height="10" fill="#8989ff"/>
<rect x="363" y="700" width="3" height="10" fill="#8989ff"/>
<rect x="366" y="700" width="3" height="10" fill="#8989ff"/>
<rect x="369" y="700" width="3" height="10" fill="#8b8bff"/>
<rect x="372" y="700" width="3" height="10" fill="#8888ff"/>
<rect x="375" y="700" width="3" height="12" fill="#7d7dff"/>
<rect x="378" y="700" width="3" height="12" fill="#8080ff"/>
<rect x="381" y="700" width="3" height="10" fill="#a4a4ff"/>
<rect x="384" y="700" width="3" height="10" fill="#8c8cff"/>
<rect x="387" y="700" width="3" height="11" fill="#8383ff"/>
<rect x="390" y="700" width="2" height="10" fill="#8c8cff"/>
<rect x="392" y="700" width="3" height="12" fill="#7c7cff"/>
<rect x="395" y="700" width="3" height="10" fill="#8787ff"/>
<rect x="398" y="700" width="3" height="10" fill="#a2a2ff"/>
<rect x="401" y="700" width="3" height="10" fill="#8888ff"/>
<rect x="404" y="700" width="3" height="10" fill="#8c8cff"/>
<rect x="407" y="700" width="3" height="10" fill="#8b8bff"/>
<rect x="410" y="700" width="3" height="10" fill="#8b8bff"/>
<rect x="413" y="700" width="3" height="10" fill="#8989ff"/>
<rect x="416" y="700" width="3" height="10" fill="#a3a3ff"/>
<rect x="419" y="700" width="3" height="10" fill="#8888ff"/>
<rect x="422" y="700" width="3" height="10" fill="#8989ff"/>
<rect x="425" y="700" width="3" height="10" fill="#8d8dff"/>
<rect x="428" y="700" width="3" height="12" fill="#7e7eff"/>
<rect x="431" y="700" width="3" height="11" fill="#8585ff"/>
<rect x="434" y="700" width="3" height="10" fill="#8888ff"/>
<rect x="437" y="700" width="2" height="10" fill="#8888ff"/>
<rect x="439" y="700" width="3" height="9" fill="#8f8fff"/>
<rect x="442" y="700" width="3" height="13" fill="#7777ff"/>
<rect x="445" y="700" width="3" height="11" fill="#8585ff"/>
<rect x="448" y="700" width="3" height="11" fill="#8686ff"/>
<rect x="451" y="700" width="3" height="11" fill="#8383ff"/>
<rect x="454" y="700" width="3" height="11" fill="#9e9eff"/>
<rect x="457" y="700" width="3" height="13" fill="#7878ff"/>
<rect x="460" y="700" width="3" height="11" fill="#8686ff"/>
<rect x="463" y="700" width="3" height="11" fill="#8484ff"/>
<rect x="466" y="700" width="3" height="11" fill="#8282ff"/>
<rect x="469" y="700" width="3" height="11" fill="#8686ff"/>
<rect x="472" y="700" width="3" height="11" fill="#8484ff"/>
<rect x="475" y="700" width="3" height="10" fill="#8a8aff"/>
<rect x="478" y="700" width="3" height="13" fill="#7a7aff"/>
<rect x="481" y="700" width="2" height="11" fill="#8383ff"/>
<rect x="483" y="700" width="3" height="11" fill="#8484ff"/>
<rect x="486" y="700" width="3" height="11" fill="#8282ff"/>
<rect x="489" y="700" width="3" height="11" fill="#8787ff"/>
<rect x="492" y="700" width="3" height="13" fill="#7878ff"/>
<rect x="495" y="700" width="3" height="12" fill="#7c7cff"/>
<rect x="498" y="700" width="3" height="11" fill="#8585ff"/>
<rect x="501" y="700" width="3" height="11" fill="#9c9cff"/>
<rect x="504" y="700" width="3" height="11" fill="#8282ff"/>
<rect x="507" y="700" width="3" height="11" fill="#8383ff"/>
<rect x="510" y="700" width="3" height="11" fill="#8686ff"/>
<rect x="513" y="700" width="3" height="11" fill="#8686ff"/>
<rect x="516" y="700" width="3" height="11" fill="#8484ff"/>
<rect x="519" y="700" width="3" height="11" fill="#8686ff"/>
<rect x="522" y="700" width="3" height="11" fill="#8585ff"/>
<rect x="525" y="700" width="3" height="13" fill="#7a7aff"/>
<rect x="528" y="700" width="2" height="11" fill="#8282ff"/>
<rect x="530" y="700" width="3" height="11" fill="#8282ff"/>
<rect x="533" y="700" width="3" height="13" fill="#9090ff"/>
<rect x="536" y="700" width="3" height="11" fill="#8787ff"/>
<rect x="539" y="700" width="3" height="11" fill="#8686ff"/>
<rect x="542" y="700" width="3" height="11" fill="#8282ff"/>
<rect x="545" y="700" width="3" height="11" fill="#8282ff"/>
<rect x="548" y="700" width="3" height="11" fill="#9e9eff"/>
<rect x="551" y="700" width="3" height="11" fill="#9b9bff"/>
<rect x="554" y="700" width="3" height="11" fill="#8585ff"/>
<rect x="557" y="700" width="3" height="11" fill="#8787ff"/>
<rect x="560" y="700" width="3" height="11" fill="#8484ff"/>
<rect x="563" y="700" width="3" height="11" fill="#a1a1ff"/>
<rect x="566" y="700" width="3" height="11" fill="#8585ff"/>
<rect x="569" y="700" width="3" height="11" fill="#8282ff"/>
<rect x="572" y="700" width="2" height="11" fill="#8383ff"/>
<rect x="574" y="700" width="3" height="11" fill="#8686ff"/>
<rect x="577" y="700" width="3" height="11" fill="#9c9cff"/>
<rect x="580" y="700" width="3" height="11" fill="#9f9fff"/>
<rect x="583" y="700" width="3" height="11" fill="#8282ff"/>
<rect x="586" y="700" width="3" height="11" fill="#8181ff"/>
<rect x="589" y="700" width="3" height="11" fill="#8181ff"/>
<rect x="592" y="700" width="3" height="11" fill="#8181ff"/>
<rect x="595" y="700" width="3" height="11" fill="#8282ff"/>
<rect x="598" y="700" width="3" height="8" fill="#aeaeff"/>
<rect x="601" y="700" width="3" height="8" fill="#9595ff"/>
<rect x="604" y="700" width="3" height="11" fill="#8484ff"/>
<rect x="607" y="700" width="3" height="11" fill="#8686ff"/>
<rect x="610" y="700" width="3" height="9" fill="#9393ff"/>
<rect x="613" y="700" width="3" height="9" fill="#9090ff"/>
<rect x="616" y="700" width="3" height="9" fill="#9090ff"/>
<rect x="619" y="700" width="2" height="9" fill="#9292ff"/>
<rect x="621" y="700" width="3" height="11" fill="#8787ff"/>
<rect x="624" y="700" width="3" height="11" fill="#8484ff"/>
<rect x="627" y="700" width="3" height="9" fill="#8d8dff"/>
<rect x="630" y="700" width="3" height="9" fill="#a8a8ff"/>
<rect x="633" y="700" width="3" height="9" fill="#8e8eff"/>
<rect x="636" y="700" width="3" height="10" fill="#8b8bff"/>
<rect x="639" y="700" width="3" height="9" fill="#9090ff"/>
<rect x="642" y="700" width="3" height="8" fill="#9898ff"/>
<rect x="645" y="700" width="3" height="11" fill="#8282ff"/>
<rect x="648" y="700" width="3" height="11" fill="#8181ff"/>
<rect x="651" y="700" width="3" height="13" fill="#7676ff"/>
<rect x="654" y="700" width="3" height="11" fill="#9e9eff"/>
<rect x="657" y="700" width="3" height="12" fill="#9b9bff"/>
<rect x="660" y="700" width="3" height="12" fill="#9999ff"/>
<rect x="663" y="700" width="3" height="12" fill="#8080ff"/>
<rect x="666" y="700" width="2" height="11" fill="#8686ff"/>
<rect x="668" y="700" width="3" height="11" fill="#8282ff"/>
<rect x="671" y="700" width="3" height="13" fill="#7777ff"/>
<rect x="674" y="700" width="3" height="13" fill="#7a7aff"/>
<rect x="677" y="700" width="3" height="11" fill="#8787ff"/>
<rect x="680" y="700" width="3" height="11" fill="#8686ff"/>
<rect x="683" y="700" width="3" height="11" fill="#8181ff"/>
<rect x="686" y="700" width="3" height="13" fill="#7979ff"/>
<rect x="689" y="700" width="3" height="11" fill="#8686ff"/>
<rect x="692" y="700" width="3" height="12" fill="#9797ff"/>
<rect x="695" y="700" width="3" height="15" fill="#6c6cff"/>
<rect x="698" y="700" width="3" height="12" fill="#8181ff"/>
<rect x="701" y="700" width="3" height="12" fill="#7c7cff"/>
<rect x="704" y="700" width="3" height="12" fill="#7f7fff"/>
<rect x="707" y="700" width="3" height="12" fill="#7d7dff"/>
<rect x="710" y="700" width="2" height="13" fill="#9292ff"/>
<rect x="712" y="700" width="3" height="13" fill="#9494ff"/>
<rect x="715" y="700" width="3" height="12" fill="#7f7fff"/>
<rect x="718" y="700" width="3" height="15" fill="#6d6dff"/>
<rect x="721" y="700" width="3" height="12" fill="#7d7dff"/>
<rect x="724" y="700" width="3" height="12" fill="#8080ff"/>
<rect x="727" y="700" width="3" height="12" fill="#8080ff"/>
<rect x="730" y="700" width="3" height="12" fill="#9696ff"/>
<rect x="733" y="700" width="3" height="12" fill="#7e7eff"/>
<rect x="736" y="700" width="3" height="15" fill="#8888ff"/>
<rect x="739" y="700" width="3" height="13" fill="#7a7aff"/>
<rect x="742" y="700" width="3" height="12" fill="#7c7cff"/>
<rect x="745" y="700" width="3" height="15" fill="#6c6cff"/>
<rect x="748" y="700" width="3" height="15" fill="#8686ff"/>
<rect x="751" y="700" width="3" height="24" fill="#5454ff"/>
<rect x="754" y="700" width="3" height="10" fill="#8a8aff"/>
<rect x="757" y="700" width="2" height="20" fill="#5050ff"/>
<rect x="759" y="700" width="3" height="16" fill="#7e7eff"/>
<rect x="762" y="700" width="3" height="16" fill="#7e7eff"/>
<rect x="765" y="700" width="3" height="9" fill="#9090ff"/>
<rect x="768" y="700" width="3" height="9" fill="#8d8dff"/>
<rect x="771" y="700" width="3" height="9" fill="#8f8fff"/>
<rect x="774" y="700" width="3" height="13" fill="#7a7aff"/>
<rect x="777" y="700" width="3" height="13" fill="#9393ff"/>
<rect x="140" y="765" width="3" height="18" fill="#7373fb"/>
<rect x="143" y="765" width="3" height="18" fill="#7373fb"/>
<rect x="146" y="765" width="3" height="17" fill="#7676fb"/>
<rect x="149" y="765" width="3" height="17" fill="#7777fb"/>
<rect x="152" y="765" width="3" height="17" fill="#7777fb"/>
<rect x="155" y="765" width="3" height="17" fill="#9393fd"/>
<rect x="158" y="765" width="3" height="17" fill="#7777fb"/>
<rect x="161" y="765" width="2" height="17" fill="#7979fb"/>
<rect x="163" y="765" width="3" height="17" fill="#7777fb"/>
<rect x="166" y="765" width="3" height="17" fill="#7878fb"/>
<rect x="169" y="765" width="3" height="17" fill="#7676fb"/>
<rect x="172" y="765" width="3" height="19" fill="#7171fb"/>
<rect x="175" y="765" width="3" height="18" fill="#7272fb"/>
<rect x="178" y="765" width="3" height="17" fill="#7979fb"/>
<rect x="181" y="765" width="3" height="19" fill="#7171fb"/>
<rect x="184" y="765" width="3" height="19" fill="#7373fb"/>
<rect x="187" y="765" width="3" height="17" fill="#7777fb"/>
<rect x="190" y="765" width="3" height="17" fill="#7979fb"/>
<rect x="193" y="765" width="3" height="17" fill="#7878fb"/>
<rect x="196" y="765" width="3" height="17" fill="#9090fd"/>
<rect x="199" y="765" width="3" height="17" fill="#7676fb"/>
<rect x="202" y="765" width="3" height="17" fill="#9191fd"/>
<rect x="205" y="765" width="3" height="18" fill="#7777fb"/>
<rect x="208" y="765" width="2" height="20" fill="#6c6cfa"/>
<rect x="210" y="765" width="3" height="18" fill="#7676fb"/>
<rect x="213" y="765" width="3" height="18" fill="#7373fb"/>
<rect x="216" y="765" width="3" height="18" fill="#7777fb"/>
<rect x="219" y="765" width="3" height="17" fill="#7b7bfb"/>
<rect x="222" y="765" width="3" height="17" fill="#7b7bfb"/>
<rect x="225" y="765" width="3" height="17" fill="#7878fb"/>
<rect x="228" y="765" width="3" height="19" fill="#7272fb"/>
<rect x="231" y="765" width="3" height="17" fill="#7979fb"/>
<rect x="234" y="765" width="3" height="6" fill="#a0a0fe"/>
<rect x="237" y="765" width="3" height="17" fill="#7777fb"/>
<rect x="240" y="765" width="3" height="19" fill="#6e6efb"/>
<rect x="243" y="765" width="3" height="17" fill="#7777fb"/>
<rect x="246" y="765" width="3" height="17" fill="#7676fb"/>
<rect x="249" y="765" width="3" height="17" fill="#7878fb"/>
<rect x="252" y="765" width="2" height="17" fill="#9090fd"/>
<rect x="254" y="765" width="3" height="17" fill="#7a7afb"/>
<rect x="257" y="765" width="3" height="17" fill="#7a7afb"/>
<rect x="260" y="765" width="3" height="17" fill="#7878fb"/>
<rect x="263" y="765" width="3" height="17" fill="#7b7bfb"/>
<rect x="266" y="765" width="3" height="17" fill="#7777fb"/>
<rect x="269" y="765" width="3" height="17" fill="#7777fb"/>
<rect x="272" y="765" width="3" height="17" fill="#7a7afb"/>
<rect x="275" y="765" width="3" height="17" fill="#9393fd"/>
<rect x="278" y="765" width="3" height="17" fill="#7777fb"/>
<rect x="281" y="765" width="3" height="17" fill="#7777fb"/>
<rect x="284" y="765" width="3" height="17" fill="#7b7bfb"/>
<rect x="287" y="765" width="3" height="17" fill="#7a7afb"/>
<rect x="290" y="765" width="3" height="17" fill="#7676fb"/>
<rect x="293" y="765" width="3" height="17" fill="#7a7afb"/>
<rect x="296" y="765" width="3" height="17" fill="#7676fb"/>
<rect x="299" y="765" width="2" height="17" fill="#7676fb"/>
<rect x="301" y="765" width="3" height="17" fill="#7979fb"/>
<rect x="304" y="765" width="3" height="19" fill="#8c8cfd"/>
<rect x="307" y="765" width="3" height="17" fill="#7676fb"/>
<rect x="310" y="765" width="3" height="17" fill="#9393fd"/>
<rect x="313" y="765" width="3" height="18" fill="#7272fb"/>
<rect x="316" y="765" width="3" height="18" fill="#7777fb"/>
<rect x="319" y="765" width="3" height="18" fill="#7272fb"/>
<rect x="322" y="765" width="3" height="18" fill="#8c8cfd"/>
<rect x="325" y="765" width="3" height="18" fill="#7373fb"/>
<rect x="328" y="765" width="3" height="17" fill="#9090fd"/>
<rect x="331" y="765" width="3" height="17" fill="#9191fd"/>
<rect x="334" y="765" width="3" height="18" fill="#7575fb"/>
<rect x="337" y="765" width="3" height="19" fill="#7272fb"/>
<rect x="340" y="765" width="3" height="17" fill="#7777fb"/>
<rect x="343" y="765" width="3" height="17" fill="#7676fb"/>
<rect x="346" y="765" width="2" height="17" fill="#7777fb"/>
<rect x="348" y="765" width="3" height="18" fill="#7373fb"/>
<rect x="351" y="765" width="3" height="20" fill="#6c6cfa"/>
<rect x="354" y="765" width="3" height="18" fill="#7676fb"/>
<rect x="357" y="765" width="3" height="18" fill="#7777fb"/>
<rect x="360" y="765" width="3" height="20" fill="#6d6dfa"/>
<rect x="363" y="765" width="3" height="18" fill="#7474fb"/>
<rect x="366" y="765" width="3" height="17" fill="#9191fd"/>
<rect x="369" y="765" width="3" height="17" fill="#7b7bfb"/>
<rect x="372" y="765" width="3" height="17" fill="#7a7afb"/>
<rect x="375" y="765" width="3" height="17" fill="#7878fb"/>
<rect x="378" y="765" width="3" height="18" fill="#7676fb"/>
<rect x="381" y="765" width="3" height="17" fill="#7a7afb"/>
<rect x="384" y="765" width="3" height="17" fill="#9191fd"/>
<rect x="387" y="765" width="3" height="17" fill="#7878fb"/>
<rect x="390" y="765" width="2" height="17" fill="#7979fb"/>
<rect x="392" y="765" width="3" height="18" fill="#7777fb"/>
<rect x="395" y="765" width="3" height="19" fill="#7171fb"/>
<rect x="398" y="765" width="3" height="17" fill="#9595fd"/>
<rect x="401" y="765" width="3" height="19" fill="#7070fb"/>
<rect x="404" y="765" width="3" height="17" fill="#7979fb"/>
<rect x="407" y="765" width="3" height="17" fill="#7676fb"/>
<rect x="410" y="765" width="3" height="17" fill="#7676fb"/>
<rect x="413" y="765" width="3" height="19" fill="#6f6ffb"/>
<rect x="416" y="765" width="3" height="17" fill="#7878fb"/>
<rect x="419" y="765" width="3" height="18" fill="#7676fb"/>
<rect x="422" y="765" width="3" height="17" fill="#7979fb"/>
<rect x="425" y="765" width="3" height="18" fill="#9090fd"/>
<rect x="428" y="765" width="3" height="18" fill="#8f8ffd"/>
<rect x="431" y="765" width="3" height="17" fill="#7b7bfb"/>
<rect x="434" y="765" width="3" height="20" fill="#8585fc"/>
<rect x="437" y="765" width="2" height="18" fill="#8d8dfd"/>
<rect x="439" y="765" width="3" height="18" fill="#7676fb"/>
<rect x="442" y="765" width="3" height="17" fill="#7777fb"/>
<rect x="445" y="765" width="3" height="17" fill="#7676fb"/>
<rect x="448" y="765" width="3" height="17" fill="#7b7bfb"/>
<rect x="451" y="765" width="3" height="17" fill="#7a7afb"/>
<rect x="454" y="765" width="3" height="17" fill="#7878fb"/>
<rect x="457" y="765" width="3" height="17" fill="#7777fb"/>
<rect x="460" y="765" width="3" height="17" fill="#9292fd"/>
<rect x="463" y="765" width="3" height="17" fill="#7676fb"/>
<rect x="466" y="765" width="3" height="17" fill="#7676fb"/>
<rect x="469" y="765" width="3" height="17" fill="#9090fd"/>
<rect x="472" y="765" width="3" height="17" fill="#7676fb"/>
<rect x="475" y="765" width="3" height="17" fill="#7b7bfb"/>
<rect x="478" y="765" width="3" height="17" fill="#7a7afb"/>
<rect x="481" y="765" width="2" height="17" fill="#7979fb"/>
<rect x="483" y="765" width="3" height="17" fill="#7979fb"/>
<rect x="486" y="765" width="3" height="18" fill="#7676fb"/>
<rect x="489" y="765" width="3" height="17" fill="#7777fb"/>
<rect x="492" y="765" width="3" height="17" fill="#7878fb"/>
<rect x="495" y="765" width="3" height="17" fill="#7878fb"/>
<rect x="498" y="765" width="3" height="17" fill="#7979fb"/>
<rect x="501" y="765" width="3" height="18" fill="#8e8efd"/>
<rect x="504" y="765" width="3" height="19" fill="#8a8afc"/>
<rect x="507" y="765" width="3" height="17" fill="#7777fb"/>
<rect x="510" y="765" width="3" height="17" fill="#7777fb"/>
<rect x="513" y="765" width="3" height="17" fill="#7777fb"/>
<rect x="516" y="765" width="3" height="17" fill="#7979fb"/>
<rect x="519" y="765" width="3" height="17" fill="#7a7afb"/>
<rect x="522" y="765" width="3" height="17" fill="#9292fd"/>
<rect x="525" y="765" width="3" height="17" fill="#7777fb"/>
<rect x="528" y="765" width="2" height="19" fill="#8c8cfd"/>
<rect x="530" y="765" width="3" height="17" fill="#7979fb"/>
<rect x="533" y="765" width="3" height="17" fill="#7a7afb"/>
<rect x="536" y="765" width="3" height="17" fill="#7777fb"/>
<rect x="539" y="765" width="3" height="17" fill="#9090fd"/>
<rect x="542" y="765" width="3" height="17" fill="#7777fb"/>
<rect x="545" y="765" width="3" height="17" fill="#7777fb"/>
<rect x="548" y="765" width="3" height="17" fill="#7777fb"/>
<rect x="551" y="765" width="3" height="17" fill="#7a7afb"/>
<rect x="554" y="765" width="3" height="17" fill="#7979fb"/>
<rect x="557" y="765" width="3" height="17" fill="#7777fb"/>
<rect x="560" y="765" width="3" height="17" fill="#7979fb"/>
<rect x="563" y="765" width="3" height="17" fill="#7a7afb"/>
<rect x="566" y="765" width="3" height="17" fill="#7979fb"/>
<rect x="569" y="765" width="3" height="17" fill="#7878fb"/>
<rect x="572" y="765" width="2" height="17" fill="#9393fd"/>
<rect x="574" y="765" width="3" height="19" fill="#7272fb"/>
<rect x="577" y="765" width="3" height="17" fill="#7a7afb"/>
<rect x="580" y="765" width="3" height="17" fill="#7878fb"/>
<rect x="583" y="765" width="3" height="19" fill="#6f6ffb"/>
<rect x="586" y="765" width="3" height="17" fill="#7777fb"/>
<rect x="589" y="765" width="3" height="19" fill="#6f6ffb"/>
<rect x="592" y="765" width="3" height="20" fill="#6d6dfa"/>
<rect x="595" y="765" width="3" height="17" fill="#7878fb"/>
<rect x="598" y="765" width="3" height="18" fill="#9191fd"/>
<rect x="601" y="765" width="3" height="18" fill="#8f8ffd"/>
<rect x="604" y="765" width="3" height="16" fill="#7d7dfc"/>
<rect x="607" y="765" width="3" height="19" fill="#6e6efb"/>
<rect x="610" y="765" width="3" height="16" fill="#7d7dfc"/>
<rect x="613" y="765" width="3" height="16" fill="#9696fd"/>
<rect x="616" y="765" width="3" height="16" fill="#7b7bfb"/>
<rect x="619" y="765" width="2" height="16" fill="#7a7afb"/>
<rect x="621" y="765" width="3" height="16" fill="#9494fd"/>
<rect x="624" y="765" width="3" height="16" fill="#7b7bfb"/>
<rect x="627" y="765" width="3" height="16" fill="#9898fd"/>
<rect x="630" y="765" width="3" height="17" fill="#7979fb"/>
<rect x="633" y="765" width="3" height="16" fill="#7d7dfc"/>
<rect x="636" y="765" width="3" height="16" fill="#7e7efc"/>
<rect x="639" y="765" width="3" height="18" fill="#7676fb"/>
<rect x="642" y="765" width="3" height="16" fill="#7b7bfb"/>
<rect x="645" y="765" width="3" height="16" fill="#7f7ffc"/>
<rect x="648" y="765" width="3" height="17" fill="#7676fb"/>
<rect x="651" y="765" width="3" height="17" fill="#7878fb"/>
<rect x="654" y="765" width="3" height="17" fill="#9292fd"/>
<rect x="657" y="765" width="3" height="17" fill="#7979fb"/>
<rect x="660" y="765" width="3" height="31" fill="#4848f8"/>
<rect x="663" y="765" width="3" height="17" fill="#7979fb"/>
<rect x="666" y="765" width="2" height="18" fill="#7474fb"/>
<rect x="668" y="765" width="3" height="17" fill="#7777fb"/>
<rect x="671" y="765" width="3" height="17" fill="#7676fb"/>
<rect x="674" y="765" width="3" height="17" fill="#7878fb"/>
<rect x="677" y="765" width="3" height="17" fill="#7979fb"/>
<rect x="680" y="765" width="3" height="19" fill="#7373fb"/>
<rect x="683" y="765" width="3" height="17" fill="#7979fb"/>
<rect x="686" y="765" width="3" height="17" fill="#9191fd"/>
<rect x="689" y="765" width="3" height="18" fill="#7575fb"/>
<rect x="692" y="765" width="3" height="17" fill="#7a7afb"/>
<rect x="695" y="765" width="3" height="28" fill="#6969fa"/>
<rect x="698" y="765" width="3" height="17" fill="#7777fb"/>
<rect x="701" y="765" width="3" height="18" fill="#7474fb"/>
<rect x="704" y="765" width="3" height="17" fill="#7878fb"/>
<rect x="707" y="765" width="3" height="17" fill="#7979fb"/>
<rect x="710" y="765" width="2" height="19" fill="#7373fb"/>
<rect x="712" y="765" width="3" height="18" fill="#7575fb"/>
<rect x="715" y="765" width="3" height="17" fill="#7878fb"/>
<rect x="718" y="765" width="3" height="17" fill="#7a7afb"/>
<rect x="721" y="765" width="3" height="14" fill="#9f9ffe"/>
<rect x="724" y="765" width="3" height="14" fill="#8585fc"/>
<rect x="727" y="765" width="3" height="14" fill="#8383fc"/>
<rect x="730" y="765" width="3" height="14" fill="#9c9cfe"/>
<rect x="733" y="765" width="3" height="14" fill="#8282fc"/>
<rect x="736" y="765" width="3" height="14" fill="#8383fc"/>
<rect x="739" y="765" width="3" height="14" fill="#8181fc"/>
<rect x="742" y="765" width="3" height="14" fill="#8383fc"/>
<rect x="745" y="765" width="3" height="25" fill="#5c5cf9"/>
<rect x="748" y="765" width="3" height="25" fill="#5b5bf9"/>
<rect x="751" y="765" width="3" height="30" fill="#6161fa"/>
<rect x="754" y="765" width="3" height="17" fill="#7a7afb"/>
<rect x="757" y="765" width="2" height="30" fill="#4848f8"/>
<rect x="759" y="765" width="3" height="24" fill="#5f5ffa"/>
<rect x="762" y="765" width="3" height="24" fill="#5d5df9"/>
<rect x="765" y="765" width="3" height="13" fill="#8989fc"/>
<rect x="768" y="765" width="3" height="13" fill="#a0a0fe"/>
<rect x="771" y="765" width="3" height="22" fill="#6868fa"/>
<rect x="774" y="765" width="3" height="18" fill="#7676fb"/>
<rect x="777" y="765" width="3" height="17" fill="#7b7bfb"/>
<rect x="140" y="830" width="3" height="10" fill="#9797ff"/>
<rect x="143" y="830" width="3" height="10" fill="#9999ff"/>
<rect x="146" y="830" width="3" height="12" fill="#9090ff"/>
<rect x="149" y="830" width="3" height="10" fill="#9797ff"/>
<rect x="152" y="830" width="3" height="10" fill="#b2b2ff"/>
<rect x="155" y="830" width="3" height="11" fill="#9494ff"/>
<rect x="158" y="830" width="3" height="10" fill="#b3b3ff"/>
<rect x="161" y="830" width="2" height="10" fill="#9898ff"/>
<rect x="163" y="830" width="3" height="11" fill="#9393ff"/>
<rect x="166" y="830" width="3" height="10" fill="#9999ff"/>
<rect x="169" y="830" width="3" height="10" fill="#b5b5ff"/>
<rect x="172" y="830" width="3" height="10" fill="#9696ff"/>
<rect x="175" y="830" width="3" height="10" fill="#9494ff"/>
<rect x="178" y="830" width="3" height="10" fill="#9999ff"/>
<rect x="181" y="830" width="3" height="10" fill="#afafff"/>
<rect x="184" y="830" width="3" height="10" fill="#b1b1ff"/>
<rect x="187" y="830" width="3" height="10" fill="#9393ff"/>
<rect x="190" y="830" width="3" height="10" fill="#b3b3ff"/>
<rect x="193" y="830" width="3" height="10" fill="#9696ff"/>
<rect x="196" y="830" width="3" height="10" fill="#b0b0ff"/>
<rect x="199" y="830" width="3" height="12" fill="#a4a4ff"/>
<rect x="202" y="830" width="3" height="10" fill="#9999ff"/>
<rect x="205" y="830" width="3" height="11" fill="#9595ff"/>
<rect x="208" y="830" width="2" height="10" fill="#b3b3ff"/>
<rect x="210" y="830" width="3" height="10" fill="#9292ff"/>
<rect x="213" y="830" width="3" height="10" fill="#b0b0ff"/>
<rect x="216" y="830" width="3" height="9" fill="#9898ff"/>
<rect x="219" y="830" width="3" height="10" fill="#adadff"/>
<rect x="222" y="830" width="3" height="10" fill="#9797ff"/>
<rect x="225" y="830" width="3" height="11" fill="#8d8dff"/>
<rect x="228" y="830" width="3" height="10" fill="#9999ff"/>
<rect x="231" y="830" width="3" height="10" fill="#9393ff"/>
<rect x="234" y="830" width="3" height="2" fill="#bfbfff"/>
<rect x="237" y="830" width="3" height="10" fill="#9393ff"/>
<rect x="240" y="830" width="3" height="11" fill="#9191ff"/>
<rect x="243" y="830" width="3" height="10" fill="#9595ff"/>
<rect x="246" y="830" width="3" height="10" fill="#9595ff"/>
<rect x="249" y="830" width="3" height="10" fill="#9595ff"/>
<rect x="252" y="830" width="2" height="10" fill="#9696ff"/>
<rect x="254" y="830" width="3" height="12" fill="#8888ff"/>
<rect x="257" y="830" width="3" height="12" fill="#8888ff"/>
<rect x="260" y="830" width="3" height="10" fill="#9a9aff"/>
<rect x="263" y="830" width="3" height="10" fill="#afafff"/>
<rect x="266" y="830" width="3" height="10" fill="#adadff"/>
<rect x="269" y="830" width="3" height="9" fill="#9898ff"/>
<rect x="272" y="830" width="3" height="9" fill="#9e9eff"/>
<rect x="275" y="830" width="3" height="10" fill="#9999ff"/>
<rect x="278" y="830" width="3" height="10" fill="#9b9bff"/>
<rect x="281" y="830" width="3" height="11" fill="#acacff"/>
<rect x="284" y="830" width="3" height="10" fill="#9898ff"/>
<rect x="287" y="830" width="3" height="11" fill="#9595ff"/>
<rect x="290" y="830" width="3" height="10" fill="#9494ff"/>
<rect x="293" y="830" width="3" height="10" fill="#b3b3ff"/>
<rect x="296" y="830" width="3" height="10" fill="#9494ff"/>
<rect x="299" y="830" width="2" height="10" fill="#9898ff"/>
<rect x="301" y="830" width="3" height="10" fill="#b4b4ff"/>
<rect x="304" y="830" width="3" height="12" fill="#a3a3ff"/>
<rect x="307" y="830" width="3" height="10" fill="#9393ff"/>
<rect x="310" y="830" width="3" height="10" fill="#b1b1ff"/>
<rect x="313" y="830" width="3" height="10" fill="#b2b2ff"/>
<rect x="316" y="830" width="3" height="11" fill="#8d8dff"/>
<rect x="319" y="830" width="3" height="10" fill="#9898ff"/>
<rect x="322" y="830" width="3" height="10" fill="#b1b1ff"/>
<rect x="325" y="830" width="3" height="11" fill="#8f8fff"/>
<rect x="328" y="830" width="3" height="10" fill="#9595ff"/>
<rect x="331" y="830" width="3" height="10" fill="#9a9aff"/>
<rect x="334" y="830" width="3" height="9" fill="#9b9bff"/>
<rect x="337" y="830" width="3" height="10" fill="#b4b4ff"/>
<rect x="340" y="830" width="3" height="9" fill="#b9b9ff"/>
<rect x="343" y="830" width="3" height="10" fill="#9898ff"/>
<rect x="346" y="830" width="2" height="9" fill="#b2b2ff"/>
<rect x="348" y="830" width="3" height="11" fill="#9090ff"/>
<rect x="351" y="830" width="3" height="10" fill="#9999ff"/>
<rect x="354" y="830" width="3" height="9" fill="#9e9eff"/>
<rect x="357" y="830" width="3" height="9" fill="#9999ff"/>
<rect x="360" y="830" width="3" height="9" fill="#9a9aff"/>
<rect x="363" y="830" width="3" height="10" fill="#9797ff"/>
<rect x="366" y="830" width="3" height="10" fill="#afafff"/>
<rect x="369" y="830" width="3" height="10" fill="#9696ff"/>
<rect x="372" y="830" width="3" height="10" fill="#b2b2ff"/>
<rect x="375" y="830" width="3" height="10" fill="#9898ff"/>
<rect x="378" y="830" width="3" height="11" fill="#9292ff"/>
<rect x="381" y="830" width="3" height="10" fill="#9595ff"/>
<rect x="384" y="830" width="3" height="11" fill="#9393ff"/>
<rect x="387" y="830" width="3" height="9" fill="#9898ff"/>
<rect x="390" y="830" width="2" height="9" fill="#9898ff"/>
<rect x="392" y="830" width="3" height="10" fill="#9898ff"/>
<rect x="395" y="830" width="3" height="10" fill="#b3b3ff"/>
<rect x="398" y="830" width="3" height="10" fill="#9595ff"/>
<rect x="401" y="830" width="3" height="10" fill="#9999ff"/>
<rect x="404" y="830" width="3" height="11" fill="#9393ff"/>
<rect x="407" y="830" width="3" height="10" fill="#9595ff"/>
<rect x="410" y="830" width="3" height="10" fill="#9393ff"/>
<rect x="413" y="830" width="3" height="10" fill="#b3b3ff"/>
<rect x="416" y="830" width="3" height="10" fill="#b0b0ff"/>
<rect x="419" y="830" width="3" height="10" fill="#9898ff"/>
<rect x="422" y="830" width="3" height="11" fill="#8e8eff"/>
<rect x="425" y="830" width="3" height="12" fill="#8a8aff"/>
<rect x="428" y="830" width="3" height="10" fill="#b3b3ff"/>
<rect x="431" y="830" width="3" height="10" fill="#9494ff"/>
<rect x="434" y="830" width="3" height="10" fill="#9393ff"/>
<rect x="437" y="830" width="2" height="11" fill="#8e8eff"/>
<rect x="439" y="830" width="3" height="10" fill="#9393ff"/>
<rect x="442" y="830" width="3" height="10" fill="#9696ff"/>
<rect x="445" y="830" width="3" height="10" fill="#9a9aff"/>
<rect x="448" y="830" width="3" height="9" fill="#9898ff"/>
<rect x="451" y="830" width="3" height="9" fill="#9898ff"/>
<rect x="454" y="830" width="3" height="11" fill="#aaaaff"/>
<rect x="457" y="830" width="3" height="10" fill="#9494ff"/>
<rect x="460" y="830" width="3" height="11" fill="#9494ff"/>
<rect x="463" y="830" width="3" height="10" fill="#9696ff"/>
<rect x="466" y="830" width="3" height="10" fill="#9494ff"/>
<rect x="469" y="830" width="3" height="10" fill="#adadff"/>
<rect x="472" y="830" width="3" height="11" fill="#aeaeff"/>
<rect x="475" y="830" width="3" height="10" fill="#9292ff"/>
<rect x="478" y="830" width="3" height="10" fill="#9999ff"/>
<rect x="481" y="830" width="2" height="10" fill="#9494ff"/>
<rect x="483" y="830" width="3" height="11" fill="#9191ff"/>
<rect x="486" y="830" width="3" height="10" fill="#b1b1ff"/>
<rect x="489" y="830" width="3" height="10" fill="#9393ff"/>
<rect x="492" y="830" width="3" height="10" fill="#b4b4ff"/>
<rect x="495" y="830" width="3" height="11" fill="#9393ff"/>
<rect x="498" y="830" width="3" height="10" fill="#9595ff"/>
<rect x="501" y="830" width="3" height="10" fill="#b0b0ff"/>
<rect x="504" y="830" width="3" height="10" fill="#adadff"/>
<rect x="507" y="830" width="3" height="10" fill="#9a9aff"/>
<rect x="510" y="830" width="3" height="10" fill="#adadff"/>
<rect x="513" y="830" width="3" height="9" fill="#9999ff"/>
<rect x="516" y="830" width="3" height="9" fill="#9898ff"/>
<rect x="519" y="830" width="3" height="9" fill="#b3b3ff"/>
<rect x="522" y="830" width="3" height="10" fill="#9494ff"/>
<rect x="525" y="830" width="3" height="10" fill="#b2b2ff"/>
<rect x="528" y="830" width="2" height="10" fill="#9292ff"/>
<rect x="530" y="830" width="3" height="11" fill="#afafff"/>
<rect x="533" y="830" width="3" height="11" fill="#8f8fff"/>
<rect x="536" y="830" width="3" height="10" fill="#9292ff"/>
<rect x="539" y="830" width="3" height="10" fill="#9898ff"/>
<rect x="542" y="830" width="3" height="10" fill="#9393ff"/>
<rect x="545" y="830" width="3" height="10" fill="#aeaeff"/>
<rect x="548" y="830" width="3" height="10" fill="#9393ff"/>
<rect x="551" y="830" width="3" height="10" fill="#9898ff"/>
<rect x="554" y="830" width="3" height="10" fill="#9393ff"/>
<rect x="557" y="830" width="3" height="10" fill="#9393ff"/>
<rect x="560" y="830" width="3" height="9" fill="#9a9aff"/>
<rect x="563" y="830" width="3" height="10" fill="#b1b1ff"/>
<rect x="566" y="830" width="3" height="10" fill="#b4b4ff"/>
<rect x="569" y="830" width="3" height="9" fill="#9999ff"/>
<rect x="572" y="830" width="2" height="10" fill="#9595ff"/>
<rect x="574" y="830" width="3" height="10" fill="#9797ff"/>
<rect x="577" y="830" width="3" height="10" fill="#9595ff"/>
<rect x="580" y="830" width="3" height="10" fill="#b4b4ff"/>
<rect x="583" y="830" width="3" height="10" fill="#b1b1ff"/>
<rect x="586" y="830" width="3" height="10" fill="#b4b4ff"/>
<rect x="589" y="830" width="3" height="10" fill="#adadff"/>
<rect x="592" y="830" width="3" height="10" fill="#9696ff"/>
<rect x="595" y="830" width="3" height="10" fill="#9393ff"/>
<rect x="598" y="830" width="3" height="11" fill="#9494ff"/>
<rect x="601" y="830" width="3" height="11" fill="#9090ff"/>
<rect x="604" y="830" width="3" height="10" fill="#9595ff"/>
<rect x="607" y="830" width="3" height="10" fill="#adadff"/>
<rect x="610" y="830" width="3" height="10" fill="#b4b4ff"/>
<rect x="613" y="830" width="3" height="10" fill="#b1b1ff"/>
<rect x="616" y="830" width="3" height="10" fill="#9494ff"/>
<rect x="619" y="830" width="2" height="10" fill="#adadff"/>
<rect x="621" y="830" width="3" height="9" fill="#9999ff"/>
<rect x="624" y="830" width="3" height="9" fill="#b4b4ff"/>
<rect x="627" y="830" width="3" height="11" fill="#8e8eff"/>
<rect x="630" y="830" width="3" height="10" fill="#9a9aff"/>
<rect x="633" y="830" width="3" height="9" fill="#b8b8ff"/>
<rect x="636" y="830" width="3" height="9" fill="#9c9cff"/>
<rect x="639" y="830" width="3" height="11" fill="#a8a8ff"/>
<rect x="642" y="830" width="3" height="10" fill="#9494ff"/>
<rect x="645" y="830" width="3" height="10" fill="#9696ff"/>
<rect x="648" y="830" width="3" height="11" fill="#8f8fff"/>
<rect x="651" y="830" width="3" height="9" fill="#b5b5ff"/>
<rect x="654" y="830" width="3" height="10" fill="#adadff"/>
<rect x="657" y="830" width="3" height="10" fill="#9696ff"/>
<rect x="660" y="830" width="3" height="10" fill="#9898ff"/>
<rect x="663" y="830" width="3" height="10" fill="#9595ff"/>
<rect x="666" y="830" width="2" height="12" fill="#a8a8ff"/>
<rect x="668" y="830" width="3" height="10" fill="#b0b0ff"/>
<rect x="671" y="830" width="3" height="10" fill="#b1b1ff"/>
<rect x="674" y="830" width="3" height="10" fill="#9696ff"/>
<rect x="677" y="830" width="3" height="10" fill="#adadff"/>
<rect x="680" y="830" width="3" height="10" fill="#9797ff"/>
<rect x="683" y="830" width="3" height="12" fill="#8a8aff"/>
<rect x="686" y="830" width="3" height="11" fill="#8e8eff"/>
<rect x="689" y="830" width="3" height="10" fill="#b2b2ff"/>
<rect x="692" y="830" width="3" height="12" fill="#8d8dff"/>
<rect x="695" y="830" width="3" height="25" fill="#6161ff"/>
<rect x="698" y="830" width="3" height="10" fill="#b2b2ff"/>
<rect x="701" y="830" width="3" height="10" fill="#9393ff"/>
<rect x="704" y="830" width="3" height="10" fill="#9898ff"/>
<rect x="707" y="830" width="3" height="10" fill="#afafff"/>
<rect x="710" y="830" width="2" height="10" fill="#9696ff"/>
<rect x="712" y="830" width="3" height="10" fill="#adadff"/>
<rect x="715" y="830" width="3" height="11" fill="#afafff"/>
<rect x="718" y="830" width="3" height="10" fill="#b0b0ff"/>
<rect x="721" y="830" width="3" height="12" fill="#8d8dff"/>
<rect x="724" y="830" width="3" height="12" fill="#8b8bff"/>
<rect x="727" y="830" width="3" height="10" fill="#9797ff"/>
<rect x="730" y="830" width="3" height="12" fill="#a7a7ff"/>
<rect x="733" y="830" width="3" height="11" fill="#8e8eff"/>
<rect x="736" y="830" width="3" height="11" fill="#9292ff"/>
<rect x="739" y="830" width="3" height="12" fill="#a3a3ff"/>
<rect x="742" y="830" width="3" height="10" fill="#9393ff"/>
<rect x="745" y="830" width="3" height="13" fill="#8383ff"/>
<rect x="748" y="830" width="3" height="13" fill="#8383ff"/>
<rect x="751" y="830" width="3" height="16" fill="#7575ff"/>
<rect x="754" y="830" width="3" height="11" fill="#adadff"/>
<rect x="757" y="830" width="2" height="15" fill="#9797ff"/>
<rect x="759" y="830" width="3" height="13" fill="#8585ff"/>
<rect x="762" y="830" width="3" height="13" fill="#a0a0ff"/>
<rect x="765" y="830" width="3" height="10" fill="#b3b3ff"/>
<rect x="768" y="830" width="3" height="10" fill="#b0b0ff"/>
<rect x="771" y="830" width="3" height="16" fill="#7b7bff"/>
<rect x="774" y="830" width="3" height="9" fill="#9898ff"/>
<rect x="777" y="830" width="3" height="9" fill="#b8b8ff"/>
<rect x="532" y="54" width="114" height="7" fill="#ffffff"/>
<rect x="531" y="53" width="118" height="1" fill="#303030"/>
<path d="M533,53 h-1 a3,4 0 0 0 0,8 h1 z" fill="#000"/>
<rect x="533" y="53" width="7" height="8" fill="#201818"/>
<rect x="547" y="54" width="4" height="7" fill="#808080"/>
<rect x="556" y="54" width="4" height="7" fill="#d0d0d0"/>
<rect x="565" y="54" width="9" height="7" fill="#c8c8c8"/>
<rect x="582" y="54" width="8" height="7" fill="#c8c8c8"/>
<rect x="598" y="54" width="9" height="7" fill="#cccccc"/>
<rect x="610" y="53" width="11" height="8" fill="#201818"/>
<rect x="637" y="54" width="3" height="7" fill="#d8d8d8"/>
<path d="M645,53 h1 a3.5,4 0 0 1 0,8 h-1 z" fill="#d4d4d4" stroke="#888" stroke-width="0.6"/>
<rect x="578.5" y="51.5" width="3" height="12" fill="none" stroke="#ff0000" stroke-width="1"/>
</svg>
<svg id="tx" width="800" height="880" viewBox="0 0 800 880" text-rendering="geometricPrecision">
<text x="10" y="23" font-size="15" fill="#000" font-weight="bold" text-anchor="start" textLength="72" lengthAdjust="spacingAndGlyphs" xml:space="preserve">Map View</text>
<text x="157" y="21" font-size="12" fill="#000" font-weight="bold" text-anchor="start" textLength="497" lengthAdjust="spacingAndGlyphs" xml:space="preserve">Chromosome    : Chromosome 13, reference assembly (C57BL/6J) (Build 37)</text>
<text x="157" y="31" font-size="12" fill="#000" font-weight="bold" text-anchor="start" textLength="189" lengthAdjust="spacingAndGlyphs" xml:space="preserve">Length (b.p.) : 120,284,312</text>
<text x="171" y="41" font-size="12" fill="#000" font-weight="bold" text-anchor="start" textLength="350" lengthAdjust="spacingAndGlyphs" xml:space="preserve">Show (b.p.) : 48,065,578-50,250,326 : 2,184,749 bp</text>
<text x="150" y="51" font-size="12" fill="#000" font-weight="bold" text-anchor="start" textLength="231" lengthAdjust="spacingAndGlyphs" xml:space="preserve">Read coverage check span : 10,000</text>
<text x="134" y="171" font-size="12" fill="#0000e6" font-weight="bold" text-anchor="end" textLength="84" lengthAdjust="spacingAndGlyphs" xml:space="preserve">RefSeq Genes</text>
<text x="134" y="298.5" font-size="12" fill="#106090" font-weight="bold" text-anchor="end" textLength="119" lengthAdjust="spacingAndGlyphs" xml:space="preserve">MSM BAC end pairs</text>
<text x="134" y="463.5" font-size="12" fill="#606060" font-weight="bold" text-anchor="end" textLength="119" lengthAdjust="spacingAndGlyphs" xml:space="preserve">B6N BAC end pairs</text>
<text x="134" y="575.5" font-size="11" fill="#000" font-weight="normal" text-anchor="end" textLength="36" lengthAdjust="spacingAndGlyphs" xml:space="preserve" stroke="#000" stroke-width="0.25">Repeat</text>
<text x="134" y="590.5" font-size="11" fill="#000" font-weight="normal" text-anchor="end" textLength="78" lengthAdjust="spacingAndGlyphs" xml:space="preserve" stroke="#000" stroke-width="0.25">chromosome 13</text>
<text x="134" y="635.5" font-size="12" fill="#606060" font-weight="bold" text-anchor="end" textLength="84" lengthAdjust="spacingAndGlyphs" xml:space="preserve">dbSNP(Mouse)</text>
<text x="134" y="650.5" font-size="12" fill="#606060" font-weight="bold" text-anchor="end" textLength="77" lengthAdjust="spacingAndGlyphs" xml:space="preserve">MSM/B6 pol.</text>
<text x="134" y="667.5" font-size="12" fill="#606060" font-weight="bold" text-anchor="end" textLength="98" lengthAdjust="spacingAndGlyphs" xml:space="preserve">MSM Read Depth</text>
<text x="134" y="680.5" font-size="12" fill="#606060" font-weight="bold" text-anchor="end" textLength="77" lengthAdjust="spacingAndGlyphs" xml:space="preserve">(Capillary)</text>
<text x="134" y="695.5" font-size="12" fill="#ff8c00" font-weight="bold" text-anchor="end" textLength="77" lengthAdjust="spacingAndGlyphs" xml:space="preserve">MSM/B6 pol.</text>
<text x="134" y="710.5" font-size="12" fill="#0000e6" font-weight="bold" text-anchor="end" textLength="98" lengthAdjust="spacingAndGlyphs" xml:space="preserve">MSM Read Depth</text>
<text x="134" y="723.5" font-size="12" fill="#0000e6" font-weight="bold" text-anchor="end" textLength="35" lengthAdjust="spacingAndGlyphs" xml:space="preserve">(SRA)</text>
<text x="134" y="760.5" font-size="12" fill="#ff8c00" font-weight="bold" text-anchor="end" textLength="77" lengthAdjust="spacingAndGlyphs" xml:space="preserve">JF1/B6 pol.</text>
<text x="134" y="775.5" font-size="12" fill="#0000e6" font-weight="bold" text-anchor="end" textLength="98" lengthAdjust="spacingAndGlyphs" xml:space="preserve">JF1 Read Depth</text>
<text x="134" y="788" font-size="12" fill="#0000e6" font-weight="bold" text-anchor="end" textLength="35" lengthAdjust="spacingAndGlyphs" xml:space="preserve">(SRA)</text>
<text x="134" y="825.5" font-size="12" fill="#ff8c00" font-weight="bold" text-anchor="end" textLength="77" lengthAdjust="spacingAndGlyphs" xml:space="preserve">JF1/B6 pol.</text>
<text x="134" y="840.5" font-size="12" fill="#0000e6" font-weight="bold" text-anchor="end" textLength="98" lengthAdjust="spacingAndGlyphs" xml:space="preserve">JF1 Read Depth</text>
<text x="134" y="853.5" font-size="12" fill="#0000e6" font-weight="bold" text-anchor="end" textLength="91" lengthAdjust="spacingAndGlyphs" xml:space="preserve">(SRA trimmed)</text>
<text x="238" y="614" font-size="12" fill="#000" font-weight="bold" text-anchor="start" textLength="56" lengthAdjust="spacingAndGlyphs" xml:space="preserve">48400000</text>
<text x="355" y="614" font-size="12" fill="#000" font-weight="bold" text-anchor="start" textLength="56" lengthAdjust="spacingAndGlyphs" xml:space="preserve">48800000</text>
<text x="472" y="614" font-size="12" fill="#000" font-weight="bold" text-anchor="start" textLength="56" lengthAdjust="spacingAndGlyphs" xml:space="preserve">49200000</text>
<text x="589" y="614" font-size="12" fill="#000" font-weight="bold" text-anchor="start" textLength="56" lengthAdjust="spacingAndGlyphs" xml:space="preserve">49600000</text>
<text x="707" y="614" font-size="12" fill="#000" font-weight="bold" text-anchor="start" textLength="56" lengthAdjust="spacingAndGlyphs" xml:space="preserve">50000000</text>
<rect x="0.5" y="0.5" width="799" height="879" fill="none" stroke="#000" stroke-width="1" shape-rendering="crispEdges"/>
</svg>
</body></html>
